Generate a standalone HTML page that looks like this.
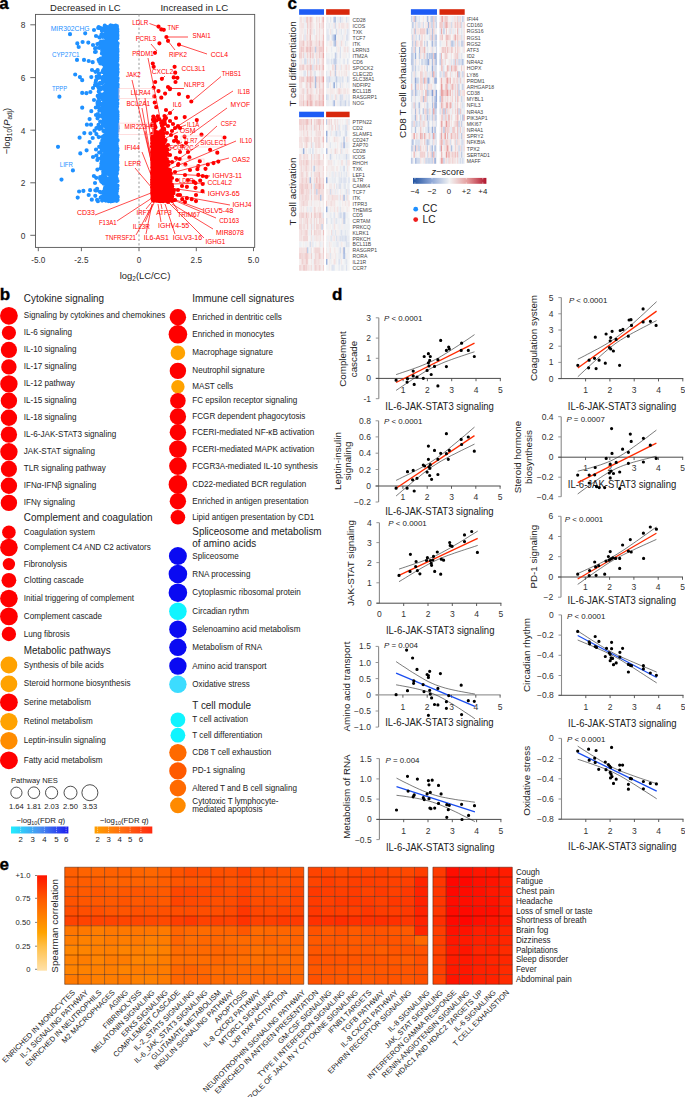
<!DOCTYPE html>
<html><head><meta charset="utf-8"><style>
html,body{margin:0;padding:0;background:#fff;width:685px;height:1097px;overflow:hidden}
svg{display:block;font-family:"Liberation Sans",sans-serif}
</style></head><body>
<svg width="685" height="1097" viewBox="0 0 685 1097">
<rect width="685" height="1097" fill="#fff"/>
<path stroke="#1e90ff" stroke-width="4.2" stroke-linecap="round" fill="none" d="M110.4 82.5h0M107.6 38.2h0M115.6 119.8h0M115.4 114.8h0M114.6 32.1h0M116.3 41.5h0M115.6 100.2h0M113.7 64.8h0M107.0 135.9h0M114.0 95.3h0M101.5 197.3h0M112.8 76.5h0M112.2 50.9h0M112.7 169.1h0M107.0 57.3h0M111.6 91.0h0M114.8 121.9h0M116.5 61.7h0M111.0 145.3h0M114.4 128.6h0M112.9 105.3h0M103.2 148.5h0M108.3 68.5h0M112.9 179.5h0M112.0 153.9h0M106.8 46.3h0M111.9 158.8h0M109.6 32.4h0M116.6 143.1h0M106.6 179.6h0M113.8 80.7h0M106.8 127.6h0M106.6 105.8h0M100.3 108.9h0M105.3 142.4h0M112.7 139.4h0M114.6 200.3h0M111.3 93.4h0M108.2 143.2h0M116.3 55.1h0M104.1 46.1h0M112.3 48.3h0M104.3 69.1h0M106.7 39.7h0M100.8 104.6h0M112.2 169.7h0M116.0 177.6h0M108.9 88.6h0M112.9 181.1h0M116.3 56.5h0M116.6 66.3h0M107.9 129.2h0M108.7 71.7h0M117.4 90.5h0M105.1 125.2h0M113.8 116.2h0M116.3 134.2h0M115.1 183.8h0M106.9 162.8h0M106.8 94.6h0M108.0 95.7h0M110.3 36.5h0M116.3 37.4h0M112.7 85.3h0M112.7 34.8h0M117.6 43.4h0M100.5 89.5h0M114.8 133.6h0M117.5 51.6h0M109.7 89.6h0M102.0 47.1h0M95.8 107.5h0M114.2 110.7h0M115.6 85.8h0M115.2 72.1h0M113.2 29.6h0M112.9 192.9h0M116.8 121.1h0M115.1 30.3h0M113.5 148.0h0M114.2 71.5h0M113.8 161.4h0M116.2 119.2h0M110.1 64.8h0M101.0 168.3h0M116.0 167.4h0M117.2 169.5h0M111.5 116.6h0M115.6 88.1h0M117.2 74.7h0M110.1 71.1h0M97.7 104.2h0M96.5 190.4h0M116.0 89.7h0M116.8 64.3h0M112.0 61.5h0M104.4 135.3h0M108.1 109.9h0M116.5 140.4h0M114.2 141.8h0M114.7 185.6h0M103.7 109.6h0M115.7 56.9h0M110.2 166.4h0M110.8 196.5h0M112.4 192.1h0M115.5 153.1h0M113.7 52.1h0M115.9 184.8h0M113.1 171.0h0M113.3 198.0h0M111.0 122.1h0M95.1 48.6h0M115.6 139.8h0M109.3 118.2h0M113.9 178.9h0M116.0 170.9h0M111.3 77.1h0M112.0 67.8h0M114.2 99.2h0M110.9 48.6h0M113.3 106.1h0M110.3 128.2h0M112.6 187.0h0M107.5 113.8h0M115.5 28.8h0M117.3 103.0h0M116.9 166.2h0M104.1 55.8h0M115.3 123.4h0M106.8 82.9h0M116.4 163.5h0M111.6 44.2h0M115.2 74.2h0M106.7 161.4h0M117.1 159.3h0M106.6 186.1h0M113.5 114.5h0M114.3 115.6h0M108.9 119.4h0M105.3 109.6h0M112.9 179.8h0M116.9 191.3h0M106.7 191.5h0M114.8 173.3h0M114.3 103.3h0M117.4 38.3h0M114.3 143.3h0M113.7 163.5h0M114.6 151.5h0M106.6 141.7h0M103.8 195.8h0M109.4 64.1h0M115.1 111.3h0M115.1 199.7h0M113.2 101.4h0M114.6 116.2h0M112.8 81.6h0M106.9 152.6h0M116.3 103.0h0M111.8 28.7h0M107.2 115.7h0M102.7 36.8h0M116.2 196.5h0M117.4 43.9h0M115.2 162.6h0M111.5 73.1h0M111.1 185.9h0M117.3 169.6h0M112.8 187.3h0M116.5 125.9h0M114.1 35.6h0M114.7 146.6h0M116.1 190.6h0M116.5 137.2h0M114.2 176.2h0M111.5 37.2h0M110.5 85.2h0M111.6 122.8h0M114.6 48.2h0M117.3 118.2h0M113.5 53.9h0M115.4 34.4h0M110.6 79.2h0M115.1 159.2h0M107.9 56.8h0M111.2 86.6h0M116.9 28.2h0M112.4 154.5h0M115.9 109.1h0M105.3 190.0h0M107.9 101.6h0M113.3 112.6h0M110.3 114.7h0M109.9 146.5h0M116.7 172.0h0M111.9 149.9h0M111.1 86.7h0M115.4 35.1h0M115.2 155.9h0M115.7 70.5h0M114.5 173.6h0M114.3 178.7h0M111.5 68.1h0M112.8 77.1h0M116.3 104.0h0M95.5 71.8h0M112.2 121.8h0M110.5 68.5h0M116.0 88.3h0M110.5 25.7h0M111.1 114.0h0M116.8 60.9h0M117.6 72.0h0M115.6 41.3h0M116.1 29.5h0M116.4 79.0h0M106.4 118.6h0M110.2 157.6h0M106.3 180.2h0M106.3 94.1h0M95.8 51.8h0M116.0 153.0h0M115.6 172.5h0M108.0 182.5h0M107.7 168.5h0M107.6 50.0h0M116.1 172.4h0M112.4 167.1h0M107.6 182.6h0M115.5 145.7h0M111.8 31.0h0M115.0 48.9h0M114.5 172.6h0M109.3 123.8h0M109.0 145.3h0M102.4 111.6h0M117.3 157.2h0M105.4 114.0h0M114.9 37.1h0M117.6 155.2h0M114.3 72.2h0M113.7 153.9h0M104.2 197.2h0M110.4 112.4h0M111.1 145.8h0M108.6 160.5h0M109.4 39.1h0M117.3 51.4h0M103.6 79.1h0M114.6 125.4h0M117.4 72.8h0M113.1 143.8h0M105.7 76.7h0M108.3 116.4h0M115.5 46.4h0M110.2 182.8h0M95.3 190.3h0M102.4 28.6h0M113.6 195.9h0M116.9 104.6h0M111.8 191.9h0M113.5 62.6h0M115.3 117.7h0M107.0 193.2h0M105.9 115.0h0M115.8 181.6h0M111.7 183.5h0M116.9 111.1h0M117.5 112.0h0M116.1 104.8h0M113.2 86.0h0M117.3 81.1h0M117.2 157.6h0M103.4 173.2h0M104.3 151.0h0M115.6 184.2h0M109.7 94.7h0M110.8 201.3h0M113.3 100.8h0M113.8 73.9h0M116.4 172.4h0M111.7 75.8h0M115.1 72.3h0M114.6 115.4h0M110.0 193.8h0M113.0 181.1h0M106.5 186.3h0M104.7 191.1h0M113.5 34.2h0M104.1 154.4h0M113.3 138.9h0M99.1 75.9h0M111.7 47.9h0M113.6 108.6h0M111.7 155.6h0M116.8 197.3h0M105.2 78.4h0M113.5 123.6h0M114.4 54.0h0M109.3 62.1h0M112.0 64.2h0M108.3 185.0h0M117.4 50.1h0M111.1 59.4h0M113.4 41.5h0M117.0 67.6h0M106.6 181.7h0M110.1 157.4h0M113.0 117.8h0M116.0 91.8h0M115.0 74.3h0M110.5 195.8h0M110.4 136.3h0M116.2 177.4h0M111.0 69.2h0M97.7 95.9h0M110.6 174.9h0M115.4 179.1h0M117.3 150.4h0M106.5 183.1h0M115.7 25.5h0M103.4 94.4h0M110.6 176.1h0M117.6 196.6h0M113.5 52.7h0M109.2 117.4h0M99.2 152.5h0M116.7 139.4h0M108.2 122.6h0M116.4 32.5h0M111.5 187.4h0M116.1 139.1h0M113.4 69.8h0M116.3 137.5h0M113.7 37.9h0M110.3 117.8h0M113.4 64.9h0M110.4 131.3h0M117.1 106.6h0M106.8 194.3h0M103.7 109.2h0M117.2 66.8h0M96.0 149.5h0M107.7 79.6h0M116.2 144.2h0M117.0 99.4h0M105.0 188.3h0M110.1 65.4h0M116.0 99.5h0M112.7 145.6h0M103.2 155.6h0M111.4 114.4h0M96.0 80.4h0M116.9 169.8h0M111.6 159.3h0M108.1 77.4h0M114.6 58.5h0M106.7 64.8h0M111.3 192.5h0M113.0 51.3h0M113.9 196.9h0M114.8 50.5h0M116.6 94.7h0M107.3 183.6h0M108.4 201.1h0M115.0 189.5h0M112.8 190.2h0M105.3 156.9h0M115.1 92.1h0M115.1 91.3h0M113.1 26.0h0M105.0 74.7h0M100.6 47.3h0M115.5 195.2h0M109.9 170.1h0M115.1 170.2h0M116.5 108.8h0M112.7 91.1h0M114.9 89.6h0M109.0 183.4h0M115.9 168.4h0M115.4 160.4h0M117.0 36.5h0M117.0 187.4h0M103.5 183.6h0M114.6 85.2h0M96.4 134.1h0M116.1 71.6h0M110.3 74.0h0M116.9 26.2h0M98.7 137.1h0M111.5 191.5h0M116.7 109.1h0M109.5 193.9h0M115.2 69.7h0M98.1 101.2h0M116.8 57.7h0M116.5 166.8h0M101.8 161.5h0M114.1 132.4h0M111.0 89.2h0M112.6 163.2h0M114.9 158.0h0M115.6 69.0h0M116.7 122.8h0M100.1 82.8h0M115.4 199.4h0M114.3 72.1h0M115.7 113.2h0M111.7 150.4h0M115.6 98.9h0M111.1 134.7h0M105.1 174.6h0M105.8 142.4h0M106.4 77.2h0M107.9 125.3h0M107.6 60.6h0M117.5 69.0h0M112.7 181.1h0M113.7 127.3h0M110.0 200.2h0M115.8 114.8h0M102.3 140.5h0M109.9 199.9h0M111.8 169.7h0M115.5 173.4h0M116.3 77.2h0M109.1 46.5h0M96.4 128.1h0M105.8 189.2h0M105.3 104.5h0M114.0 71.3h0M97.4 44.1h0M113.3 130.4h0M113.5 90.4h0M115.7 50.4h0M111.4 131.0h0M117.2 140.2h0M116.4 83.1h0M114.7 144.9h0M110.8 61.3h0M114.7 165.5h0M116.7 43.3h0M106.1 95.1h0M113.8 41.5h0M114.7 54.3h0M109.4 75.4h0M110.6 79.6h0M115.5 125.2h0M102.9 88.4h0M109.1 200.9h0M113.1 89.5h0M104.6 61.3h0M110.3 26.5h0M112.4 169.9h0M110.6 97.0h0M111.3 54.1h0M106.1 28.1h0M113.7 185.6h0M111.7 41.2h0M111.9 114.3h0M115.5 51.2h0M107.5 188.4h0M102.3 44.6h0M116.7 195.7h0M103.4 60.2h0M103.1 197.2h0M99.3 110.5h0M111.2 93.8h0M106.1 184.6h0M106.7 53.7h0M116.1 163.8h0M109.1 174.5h0M115.2 171.4h0M112.2 95.9h0M114.4 116.6h0M114.7 69.0h0M115.6 153.1h0M116.1 124.5h0M101.8 158.8h0M113.8 46.2h0M106.2 131.0h0M113.9 79.4h0M109.8 99.4h0M113.2 141.5h0M115.9 104.1h0M116.9 134.4h0M116.3 111.7h0M103.2 162.8h0M113.5 106.2h0M108.9 44.3h0M114.2 48.1h0M116.0 103.3h0M105.9 115.3h0M114.5 40.0h0M115.8 154.6h0M107.6 35.1h0M102.6 114.2h0M103.1 49.5h0M103.8 176.3h0M117.3 168.9h0M107.8 59.6h0M116.5 193.9h0M110.0 186.7h0M104.7 189.3h0M109.1 37.0h0M106.1 53.4h0M115.2 183.3h0M102.2 50.8h0M112.5 113.9h0M114.8 71.8h0M116.6 114.6h0M115.5 57.5h0M105.8 53.9h0M112.6 183.1h0M116.7 55.2h0M113.5 118.9h0M106.6 137.5h0M104.3 123.2h0M114.6 127.6h0M114.9 200.3h0M105.6 136.3h0M108.2 72.1h0M110.5 199.8h0M113.8 160.1h0M111.4 103.3h0M105.0 34.0h0M117.3 169.8h0M105.5 198.7h0M113.8 128.6h0M111.3 25.8h0M110.6 31.4h0M108.1 101.6h0M114.0 115.7h0M114.8 65.5h0M117.0 140.4h0M117.5 88.0h0M113.8 44.2h0M112.9 128.2h0M114.2 129.2h0M106.2 109.1h0M111.7 49.2h0M115.1 51.8h0M106.5 42.4h0M104.5 163.2h0M117.5 96.2h0M116.3 139.0h0M110.4 124.5h0M107.7 103.6h0M116.9 190.4h0M111.2 184.5h0M109.1 33.2h0M115.9 67.3h0M117.4 35.8h0M116.3 122.5h0M114.0 191.1h0M113.2 132.5h0M107.8 114.7h0M105.5 56.2h0M116.8 80.0h0M115.1 182.0h0M117.4 163.3h0M116.7 174.1h0M103.9 156.7h0M114.6 105.1h0M112.7 65.3h0M113.8 32.3h0M117.6 84.6h0M104.5 174.3h0M116.5 150.8h0M106.9 102.2h0M111.0 164.3h0M116.6 138.5h0M114.0 195.4h0M100.5 28.2h0M116.4 71.3h0M103.6 191.8h0M109.5 156.8h0M102.1 83.3h0M107.6 67.6h0M111.0 147.4h0M108.1 142.6h0M116.3 173.3h0M111.9 148.3h0M110.5 153.0h0M115.5 125.9h0M112.1 135.1h0M113.6 39.2h0M115.1 30.2h0M110.5 44.3h0M114.2 50.5h0M105.0 30.6h0M114.2 137.1h0M117.3 148.2h0M114.5 129.4h0M111.1 89.5h0M103.3 182.4h0M104.9 37.1h0M103.7 191.7h0M116.5 44.4h0M113.6 31.6h0M113.0 174.7h0M106.4 170.7h0M116.7 136.7h0M113.8 42.7h0M115.5 158.8h0M110.4 100.1h0M117.3 29.2h0M110.7 151.5h0M108.2 90.3h0M97.8 114.2h0M116.0 175.3h0M116.2 98.2h0M116.5 102.3h0M109.8 149.5h0M114.1 120.2h0M101.0 41.5h0M117.4 169.8h0M117.2 61.1h0M116.8 159.6h0M117.5 111.9h0M116.0 112.0h0M112.4 112.5h0M114.4 86.6h0M111.8 191.6h0M114.7 75.4h0M104.7 113.2h0M115.3 44.8h0M115.0 164.2h0M114.9 148.2h0M106.0 88.1h0M103.5 96.1h0M106.6 40.7h0M111.9 181.9h0M116.7 71.8h0M109.3 184.1h0M117.5 181.1h0M107.4 66.6h0M115.1 158.3h0M112.8 158.0h0M111.3 83.0h0M110.7 52.8h0M107.2 156.1h0M104.0 55.3h0M112.1 127.4h0M100.4 47.7h0M113.4 67.4h0M113.4 59.2h0M105.0 174.0h0M114.0 52.7h0M112.3 83.0h0M113.6 117.4h0M111.2 58.8h0M117.1 197.1h0M113.7 194.9h0M99.4 43.4h0M101.4 165.4h0M112.4 154.6h0M115.4 137.8h0M115.3 44.3h0M109.5 31.5h0M114.3 95.7h0M105.0 113.6h0M113.0 136.8h0M116.5 131.8h0M116.5 96.7h0M99.1 101.2h0M117.5 126.5h0M108.7 65.7h0M106.9 152.6h0M107.6 148.7h0M112.4 175.5h0M106.6 105.4h0M114.9 80.6h0M114.8 99.3h0M114.9 163.2h0M105.9 69.5h0M106.2 100.1h0M114.3 97.5h0M112.7 144.3h0M115.3 140.7h0M110.1 162.5h0M111.3 197.0h0M112.8 32.2h0M116.2 163.1h0M113.7 191.0h0M117.1 126.6h0M115.5 120.7h0M107.6 138.0h0M108.9 171.4h0M116.4 192.3h0M114.2 62.5h0M109.8 159.7h0M109.7 47.0h0M116.8 35.5h0M116.5 73.8h0M116.8 99.2h0M115.1 99.5h0M110.1 72.2h0M116.5 65.0h0M97.5 118.3h0M114.9 64.0h0M109.6 62.8h0M115.0 48.3h0M102.3 137.1h0M112.0 108.1h0M115.3 195.1h0M107.5 87.7h0M105.6 169.1h0M114.7 107.9h0M107.3 47.5h0M107.5 172.2h0M104.5 72.6h0M117.4 91.7h0M108.6 58.2h0M116.4 26.0h0M110.8 68.6h0M108.7 78.6h0M116.4 137.7h0M104.9 141.5h0M102.7 175.9h0M108.9 35.5h0M101.3 163.5h0M111.7 50.2h0M107.1 28.1h0M105.7 27.5h0M113.9 69.5h0M113.7 43.4h0M112.8 162.1h0M107.0 86.5h0M102.5 164.8h0M108.6 55.1h0M110.2 163.0h0M105.8 143.1h0M108.3 173.1h0M113.9 60.2h0M107.8 156.1h0M109.6 102.7h0M110.3 72.1h0M111.3 66.7h0M110.0 35.8h0M111.5 107.7h0M109.8 113.2h0M117.0 120.5h0M116.9 173.5h0M106.0 107.9h0M112.8 173.4h0M98.7 91.5h0M107.0 38.8h0M116.3 137.6h0M116.1 132.8h0M110.7 145.6h0M114.4 198.3h0M99.5 115.4h0M115.9 31.5h0M112.1 151.9h0M112.1 177.2h0M107.4 89.9h0M115.9 161.1h0M109.4 62.6h0M114.1 123.0h0M113.4 171.0h0M102.2 96.6h0M116.2 114.2h0M107.6 197.1h0M115.6 140.7h0M110.2 81.3h0M107.3 78.2h0M111.4 163.5h0M114.6 32.5h0M100.2 121.5h0M117.3 34.2h0M116.7 58.9h0M107.9 187.7h0M109.7 164.4h0M108.6 185.6h0M110.0 135.8h0M107.0 148.1h0M110.3 62.9h0M103.7 142.9h0M113.8 43.3h0M103.3 57.4h0M114.2 186.4h0M106.9 140.9h0M106.0 163.9h0M117.2 124.4h0M110.4 99.7h0M106.6 81.6h0M112.5 189.9h0M115.4 35.1h0M116.6 46.4h0M100.7 168.1h0M108.9 104.1h0M109.0 28.0h0M110.2 190.5h0M108.9 198.1h0M116.3 43.5h0M116.5 138.9h0M112.9 28.2h0M115.8 26.3h0M113.6 195.6h0M114.6 41.0h0M114.3 28.6h0M116.9 152.1h0M103.8 58.5h0M115.6 34.3h0M104.3 176.1h0M107.3 153.9h0M111.6 150.3h0M111.7 106.6h0M114.9 195.2h0M116.1 151.7h0M117.5 140.0h0M111.2 169.4h0M114.1 153.9h0M111.3 54.7h0M110.1 36.0h0M109.5 90.2h0M113.5 144.6h0M115.2 51.0h0M109.9 139.0h0M110.3 136.3h0M113.5 163.9h0M115.2 191.8h0M106.9 77.0h0M104.5 36.2h0M115.4 171.1h0M99.2 83.9h0M103.2 171.8h0M114.4 131.3h0M109.2 181.8h0M113.0 91.8h0M107.0 183.2h0M117.5 167.6h0M117.1 71.8h0M104.2 99.9h0M109.5 181.7h0M109.8 32.9h0M104.1 178.1h0M115.1 126.2h0M101.2 167.5h0M110.9 146.0h0M113.6 40.5h0M115.9 122.9h0M112.2 157.5h0M116.4 189.5h0M106.0 144.8h0M115.8 107.4h0M111.3 157.7h0M114.1 164.8h0M116.7 167.5h0M116.4 161.4h0M106.5 183.4h0M108.0 181.3h0M116.3 129.2h0M115.7 58.8h0M112.6 148.9h0M109.7 89.4h0M114.2 116.5h0M106.0 51.7h0M109.6 44.2h0M116.4 136.9h0M112.8 130.6h0M115.9 86.2h0M117.4 31.4h0M111.1 199.8h0M110.3 125.3h0M116.0 71.5h0M108.8 192.1h0M108.4 160.5h0M97.7 70.2h0M116.0 32.2h0M112.5 40.2h0M101.5 34.5h0M111.5 106.2h0M115.0 192.2h0M115.9 130.8h0M101.9 95.4h0M102.9 70.8h0M104.1 124.8h0M101.2 143.4h0M112.8 94.7h0M116.0 195.5h0M117.2 200.0h0M115.3 70.5h0M102.5 87.5h0M107.0 172.9h0M114.6 33.8h0M104.6 139.3h0M113.1 198.9h0M116.0 158.4h0M114.4 190.8h0M111.2 129.6h0M111.7 158.9h0M113.0 70.7h0M112.5 47.3h0M117.0 67.5h0M117.0 50.7h0M116.4 151.7h0M98.6 59.8h0M113.2 64.3h0M105.7 189.9h0M104.4 50.1h0M101.6 104.2h0M106.4 173.7h0M110.2 136.1h0M115.3 170.4h0M114.3 109.5h0M114.2 64.5h0M115.2 35.5h0M107.1 51.0h0M116.7 178.7h0M108.9 52.9h0M113.5 73.2h0M111.1 55.0h0M110.0 111.9h0M100.9 45.6h0M100.7 197.7h0M111.3 143.1h0M110.7 62.7h0M116.6 70.9h0M100.4 61.0h0M97.9 201.2h0M111.9 188.3h0M113.6 183.2h0M116.6 35.6h0M110.6 197.7h0M114.9 28.3h0M110.3 50.2h0M112.5 25.8h0M108.6 58.2h0M112.5 102.1h0M114.5 126.1h0M111.4 49.8h0M104.4 150.7h0M114.4 60.1h0M115.9 132.6h0M116.7 112.7h0M111.9 133.3h0M113.4 150.1h0M107.2 61.1h0M116.7 37.1h0M108.9 152.5h0M114.7 35.2h0M110.5 173.7h0M116.1 177.7h0M117.5 185.7h0M113.0 109.4h0M112.8 58.2h0M114.2 171.9h0M113.8 90.8h0M107.3 130.2h0M117.3 104.0h0M107.8 116.3h0M108.3 169.2h0M111.8 177.8h0M105.5 92.6h0M101.6 157.7h0M111.1 193.4h0M107.2 112.6h0M116.7 120.1h0M111.7 29.1h0M116.4 57.6h0M117.6 43.6h0M101.9 30.8h0M115.8 42.5h0M112.3 28.6h0M108.4 131.0h0M112.8 149.2h0M108.4 43.6h0M107.7 33.5h0M107.6 47.2h0M117.2 74.7h0M113.8 47.0h0M115.0 129.7h0M110.9 177.1h0M108.7 156.9h0M108.4 54.4h0M99.8 93.9h0M112.1 99.5h0M108.8 95.1h0M116.3 191.2h0M110.0 67.8h0M95.6 84.5h0M108.2 167.1h0M111.0 186.1h0M102.5 34.9h0M98.5 116.6h0M112.4 69.4h0M112.2 99.8h0M111.6 118.9h0M108.4 37.7h0M113.5 29.2h0M103.1 50.0h0M114.8 190.4h0M111.2 136.9h0M101.2 181.2h0M113.4 31.5h0M112.4 144.9h0M99.0 73.6h0M112.5 134.8h0M108.6 69.6h0M116.4 192.9h0M113.4 76.1h0M106.1 46.7h0M107.8 130.1h0M114.8 72.7h0M112.9 107.6h0M116.6 47.3h0M115.3 48.6h0M109.2 76.2h0M108.5 68.3h0M112.0 173.3h0M106.5 132.9h0M112.3 60.9h0M107.2 150.5h0M115.0 133.4h0M115.3 108.0h0M111.7 64.5h0M109.2 115.7h0M110.0 27.6h0M113.5 87.6h0M112.8 123.5h0M112.1 112.0h0M113.4 77.5h0M101.9 53.4h0M110.6 102.9h0M110.6 36.4h0M111.7 154.9h0M114.3 44.7h0M96.4 155.5h0M113.5 52.7h0M110.8 144.4h0M108.3 134.0h0M104.8 116.6h0M117.0 155.5h0M103.3 109.1h0M112.7 163.6h0M99.4 47.9h0M103.1 178.8h0M117.2 128.6h0M106.8 113.1h0M115.0 99.1h0M109.5 163.4h0M109.3 92.3h0M104.5 105.1h0M114.0 77.1h0M109.7 94.3h0M114.7 82.2h0M111.7 164.0h0M109.5 103.6h0M116.0 57.9h0M113.1 126.8h0M101.3 127.9h0M107.6 82.5h0M106.3 173.9h0M99.3 61.5h0M116.5 100.6h0M116.9 33.8h0M98.5 124.9h0M117.3 161.6h0M107.3 120.3h0M117.5 116.5h0M111.5 146.1h0M112.5 130.2h0M105.5 87.3h0M113.5 117.9h0M111.5 42.9h0M111.5 124.3h0M101.6 126.5h0M102.6 111.2h0M97.5 103.0h0M97.6 85.9h0M115.5 118.8h0M112.8 81.5h0M112.9 197.7h0M108.6 45.0h0M111.8 182.9h0M103.0 199.8h0M113.2 181.8h0M115.2 76.5h0M112.1 115.5h0M117.4 57.6h0M111.3 136.4h0M112.8 200.4h0M109.2 137.5h0M115.3 164.1h0M117.3 79.5h0M116.9 79.1h0M106.8 173.7h0M111.1 60.1h0M111.3 113.1h0M115.4 139.3h0M106.5 119.0h0M117.4 97.9h0M109.7 46.9h0M105.6 44.3h0M112.7 43.1h0M108.5 170.4h0M116.5 133.4h0M114.7 27.7h0M111.6 161.1h0M105.5 87.8h0M117.2 55.3h0M113.7 184.6h0M112.2 128.0h0M110.0 93.4h0M108.9 35.1h0M110.5 194.4h0M112.9 102.9h0M113.2 33.2h0M113.1 189.3h0M111.8 183.7h0M113.8 169.1h0M106.7 194.5h0M111.6 112.7h0M115.6 94.1h0M116.3 151.9h0M110.4 179.6h0M115.9 110.8h0M111.5 56.0h0M108.8 88.6h0M96.7 76.7h0M109.7 124.3h0M110.7 93.4h0M113.6 96.5h0M115.9 170.8h0M117.4 87.3h0M112.1 75.4h0M105.3 67.2h0M114.9 85.6h0M116.6 52.9h0M114.0 73.0h0M111.2 172.5h0M111.0 172.7h0M113.3 167.2h0M110.9 152.7h0M112.0 91.8h0M116.1 192.9h0M116.3 114.4h0M108.4 48.5h0M116.4 149.8h0M99.4 128.9h0M117.3 90.3h0M106.0 62.9h0M110.3 179.0h0M110.5 121.0h0M116.5 73.1h0M109.3 141.2h0M114.5 125.4h0M109.8 40.6h0M113.2 56.7h0M111.6 142.1h0M110.2 44.7h0M114.5 113.6h0M110.9 77.8h0M114.6 65.4h0M116.2 47.7h0M110.8 96.5h0M114.8 185.5h0M100.2 177.1h0M117.3 48.8h0M115.5 145.1h0M112.4 142.3h0M110.6 141.5h0M117.4 148.6h0M101.1 87.5h0M115.8 136.2h0M113.8 186.1h0M117.0 154.7h0M115.2 32.5h0M115.3 54.0h0M110.8 92.5h0M113.1 32.4h0M106.4 57.1h0M105.4 173.2h0M111.8 70.3h0M114.4 102.0h0M110.4 25.7h0M116.4 172.3h0M110.7 33.1h0M115.5 175.8h0M115.9 68.5h0M116.1 45.1h0M112.0 186.4h0M106.4 157.4h0M110.9 94.8h0M114.3 157.1h0M111.5 41.3h0M100.2 192.1h0M108.6 147.2h0M111.8 155.5h0M107.1 105.2h0M114.7 35.1h0M109.1 115.6h0M107.6 188.9h0M107.2 33.2h0M115.3 149.2h0M111.4 121.7h0M110.7 196.1h0M109.5 69.4h0M112.1 36.0h0M110.8 60.9h0M108.9 80.2h0M107.5 143.5h0M117.1 67.4h0M107.4 103.8h0M113.3 190.2h0M111.8 181.2h0M110.5 50.5h0M114.6 169.0h0M117.3 122.0h0M112.4 142.8h0M103.5 130.9h0M114.1 171.8h0M115.6 45.6h0M109.8 61.8h0M116.5 36.1h0M112.1 149.0h0M111.9 104.4h0M112.7 108.0h0M116.0 89.4h0M114.7 27.4h0M117.6 200.1h0M114.0 151.7h0M113.8 198.0h0M116.0 111.5h0M113.7 101.9h0M107.7 27.0h0M110.2 187.3h0M108.2 190.1h0M117.5 140.4h0M111.2 49.9h0M115.1 30.4h0M101.5 77.7h0M107.0 58.2h0M105.1 188.6h0M114.1 55.1h0M102.0 156.1h0M111.3 83.0h0M103.0 81.8h0M109.9 90.4h0M115.0 171.8h0M107.0 67.6h0M114.8 136.1h0M112.5 169.8h0M99.9 191.8h0M112.6 112.5h0M117.6 78.2h0M106.2 127.8h0M111.3 54.3h0M114.0 103.5h0M116.9 32.5h0M112.7 102.9h0M104.9 26.0h0M108.4 173.5h0M105.8 100.4h0M112.2 75.4h0M108.9 99.6h0M105.9 85.1h0M112.9 170.9h0M114.0 184.6h0M111.5 103.5h0M114.4 124.7h0M113.0 40.5h0M95.6 82.5h0M112.0 185.4h0M96.2 177.8h0M114.1 134.6h0M105.7 168.3h0M112.9 132.7h0M98.7 77.8h0M108.5 110.1h0M115.2 139.4h0M110.2 181.3h0M112.8 30.4h0M105.7 104.2h0M113.2 40.5h0M110.7 127.7h0M106.8 98.8h0M115.5 95.3h0M110.0 45.6h0M101.4 122.0h0M113.4 45.3h0M112.6 42.2h0M117.5 118.9h0M107.7 123.0h0M113.9 65.4h0M115.8 115.8h0M110.0 129.1h0M113.4 38.4h0M110.6 102.9h0M109.5 151.3h0M98.1 158.7h0M100.5 152.5h0M113.5 43.5h0M110.2 55.6h0M104.1 194.5h0M111.9 49.6h0M111.8 162.1h0M115.4 91.0h0M112.7 28.2h0M114.3 78.3h0M101.7 150.0h0M109.6 134.8h0M100.1 179.0h0M110.3 178.8h0M117.4 55.1h0M109.8 159.9h0M115.6 145.3h0M113.7 91.2h0M104.7 155.3h0M113.2 33.2h0M108.9 131.8h0M111.3 166.8h0M106.2 45.4h0M111.8 70.3h0M102.3 59.5h0M112.3 127.8h0M113.5 45.5h0M117.1 166.4h0M111.0 58.1h0M115.2 146.4h0M106.9 92.5h0M103.9 120.3h0M110.2 146.9h0M98.2 27.9h0M111.8 85.8h0M109.4 179.2h0M112.3 166.4h0M116.4 169.5h0M110.1 145.1h0M111.6 53.4h0M104.1 174.2h0M106.9 133.0h0M114.8 38.9h0M112.4 182.8h0M112.6 129.2h0M116.2 89.0h0M110.1 107.8h0M113.7 87.7h0M110.9 26.6h0M113.9 29.1h0M115.0 106.4h0M117.4 51.2h0M116.6 143.6h0M110.9 113.5h0M108.1 71.6h0M113.2 193.9h0M106.9 200.1h0M115.3 161.2h0M115.8 179.0h0M105.7 137.2h0M114.6 89.4h0M102.8 179.1h0M114.6 190.7h0M111.0 159.8h0M105.5 155.7h0M116.9 87.2h0M115.1 122.4h0M115.9 84.9h0M107.9 82.4h0M116.9 90.1h0M116.8 68.3h0M109.8 49.4h0M111.2 26.8h0M110.8 103.9h0M115.9 125.6h0M112.7 37.2h0M112.7 78.6h0M104.8 122.5h0M107.3 190.5h0M101.5 128.2h0M112.7 39.6h0M107.5 199.3h0M116.2 88.3h0M108.7 178.3h0M99.5 37.4h0M115.8 74.1h0M112.6 70.8h0M116.9 72.7h0M115.9 149.5h0M109.2 60.8h0M109.5 131.6h0M108.3 60.1h0M106.4 154.7h0M115.0 39.5h0M112.1 168.0h0M112.1 49.6h0M100.7 58.6h0M113.6 138.1h0M115.8 187.9h0M110.3 157.4h0M107.0 139.7h0M110.4 84.9h0M115.4 35.6h0M116.3 135.7h0M106.1 84.4h0M117.2 70.7h0M98.3 107.1h0M115.9 124.8h0M106.6 199.3h0M113.6 152.9h0M113.5 83.4h0M114.9 50.6h0M104.4 160.5h0M109.3 100.0h0M108.4 120.3h0M111.9 141.2h0M110.8 131.4h0M105.4 70.9h0M116.4 150.7h0M102.9 79.9h0M108.4 161.5h0M116.3 74.5h0M113.4 117.6h0M116.0 27.1h0M109.4 109.2h0M105.5 89.3h0M115.6 199.7h0M103.4 41.3h0M115.6 30.4h0M115.4 113.8h0M109.2 123.2h0M99.3 89.8h0M111.5 51.8h0M105.1 187.7h0M103.1 54.0h0M114.9 68.2h0M105.5 198.4h0M117.5 86.1h0M110.3 166.4h0M115.7 184.5h0M117.3 44.5h0M114.5 139.1h0M115.6 96.2h0M115.3 124.8h0M99.7 97.6h0M107.6 135.9h0M117.5 64.9h0M111.0 101.8h0M113.4 66.2h0M103.9 138.6h0M111.7 78.0h0M117.4 125.7h0M106.4 53.1h0M104.6 72.5h0M114.5 157.8h0M111.4 83.8h0M113.7 111.0h0M114.4 145.7h0M106.9 130.7h0M114.3 180.9h0M111.6 62.4h0M112.2 162.7h0M110.6 177.4h0M102.1 200.6h0M113.5 77.9h0M117.0 197.0h0M113.5 27.2h0M115.0 155.0h0M111.3 42.7h0M106.4 41.4h0M105.8 85.3h0M111.0 180.7h0M111.5 197.9h0M116.3 164.9h0M107.8 146.8h0M115.2 66.3h0M116.3 101.3h0M116.6 199.9h0M114.5 81.2h0M114.6 111.3h0M112.8 49.4h0M115.3 146.1h0M116.9 51.5h0M107.6 45.3h0M98.6 87.7h0M117.2 87.0h0M100.4 63.4h0M114.0 154.2h0M114.7 73.5h0M111.6 37.6h0M108.9 33.1h0M117.1 123.5h0M104.7 89.3h0M116.7 140.4h0M105.2 121.2h0M113.7 198.4h0M115.9 179.3h0M109.2 81.5h0M109.3 99.3h0M116.2 93.3h0M98.7 97.7h0M110.3 26.4h0M117.3 188.5h0M105.9 91.8h0M116.3 67.9h0M113.6 173.9h0M116.3 163.5h0M112.9 34.2h0M112.1 82.6h0M107.0 122.1h0M102.0 196.5h0M115.4 156.8h0M111.3 115.3h0M105.7 200.6h0M113.7 136.3h0M113.2 92.2h0M110.3 94.8h0M112.6 133.4h0M111.9 82.2h0M105.5 121.1h0M106.2 133.3h0M109.4 185.4h0M110.2 152.5h0M105.5 109.4h0M116.6 50.5h0M110.2 118.6h0M114.8 118.3h0M104.7 67.5h0M109.2 170.2h0M115.0 138.2h0M115.6 182.8h0M108.0 33.1h0M114.8 172.0h0M104.4 47.2h0M103.6 69.8h0M114.6 88.3h0M109.1 117.3h0M108.2 41.0h0M112.9 201.0h0M109.5 104.6h0M113.9 166.0h0M112.7 51.9h0M110.2 90.1h0M107.8 67.3h0M108.0 85.4h0M105.2 28.6h0M102.9 125.9h0M113.3 56.9h0M107.1 73.8h0M115.1 68.1h0M112.0 41.6h0M105.2 176.7h0M114.4 100.0h0M107.8 134.2h0M108.9 33.2h0M113.2 90.1h0M108.4 77.5h0M114.7 139.6h0M108.1 87.5h0M116.5 127.4h0M117.3 59.2h0M107.8 150.8h0M107.2 142.6h0M113.9 38.0h0M110.3 92.3h0M116.2 112.9h0M102.4 158.7h0M109.3 129.8h0M115.2 106.8h0M109.4 98.5h0M108.9 182.2h0M110.0 112.0h0M112.5 170.6h0M108.3 155.8h0M112.7 32.6h0M114.1 123.0h0M103.9 161.0h0M103.2 64.3h0M103.6 169.4h0M113.8 41.0h0M102.9 124.8h0M113.2 145.4h0M102.9 110.5h0M108.6 147.1h0M117.7 128.3h0M115.7 169.3h0M107.2 51.1h0M102.1 116.7h0M106.3 199.5h0M106.9 71.7h0M115.5 70.4h0M110.0 123.3h0M102.8 99.5h0M115.6 79.1h0M115.4 166.6h0M105.2 70.7h0M110.4 34.7h0M109.3 91.3h0M111.2 111.6h0M114.6 89.9h0M116.4 60.7h0M102.8 123.4h0M110.4 80.8h0M110.9 97.5h0M106.3 82.4h0M106.6 165.6h0M114.6 150.6h0M109.1 129.7h0M109.0 190.0h0M102.9 180.0h0M112.0 101.8h0M115.5 34.1h0M111.4 38.2h0M116.5 57.2h0M114.6 124.2h0M112.6 113.2h0M106.6 144.3h0M115.2 62.6h0M116.4 51.2h0M103.6 61.9h0M114.3 42.3h0M108.5 192.9h0M106.0 141.5h0M112.8 184.9h0M102.9 52.8h0M102.7 147.9h0M106.6 172.7h0M111.1 66.4h0M110.8 81.6h0M116.3 52.6h0M115.2 82.6h0M114.6 52.2h0M108.1 198.0h0M108.0 31.3h0M105.5 138.3h0M103.5 121.5h0M113.4 107.2h0M112.7 101.2h0M115.0 45.6h0M116.5 47.0h0M116.7 200.8h0M106.6 118.1h0M113.8 86.7h0M116.6 112.9h0M109.6 41.9h0M111.4 177.6h0M103.4 120.7h0M106.3 50.1h0M115.3 182.7h0M116.5 65.5h0M111.4 31.2h0M107.4 195.8h0M112.3 191.7h0M107.2 34.3h0M105.9 104.6h0M104.8 156.2h0M106.7 164.1h0M110.8 37.7h0M110.7 42.3h0M111.4 164.2h0M102.5 106.7h0M103.5 115.9h0M104.1 139.3h0M107.5 127.2h0M112.4 91.4h0M104.7 54.3h0M107.2 191.2h0M115.7 173.7h0M104.3 110.0h0M115.8 42.0h0M109.8 46.1h0M103.8 119.8h0M104.6 107.8h0M110.0 119.7h0M105.1 90.1h0M105.2 96.6h0M105.8 47.9h0M109.9 178.9h0M102.2 182.2h0M109.7 191.5h0M111.0 164.7h0M105.6 146.8h0M104.4 157.5h0M102.5 72.0h0M110.1 94.7h0M116.0 76.9h0M111.1 40.3h0M111.3 66.7h0M113.2 163.5h0M105.9 36.4h0M117.4 131.0h0M111.7 32.8h0M114.8 147.3h0M114.7 85.7h0M116.5 106.8h0M116.8 27.4h0M108.4 98.0h0M105.8 41.0h0M112.7 154.6h0M107.4 52.1h0M105.1 50.2h0M107.2 64.2h0M117.7 197.3h0M109.5 164.8h0M114.2 113.0h0M113.8 185.3h0M105.1 137.5h0M115.3 135.5h0M103.5 163.9h0M107.5 151.8h0M117.2 54.1h0M113.7 143.9h0M115.0 49.2h0M116.2 190.4h0M115.1 156.6h0M111.3 166.7h0M115.0 102.1h0M115.7 163.6h0M117.1 78.1h0M116.9 119.1h0M117.2 45.9h0M106.0 164.1h0M105.6 173.1h0M109.2 60.4h0M109.7 67.1h0M112.8 185.3h0M108.2 150.5h0M114.5 163.5h0M116.8 145.7h0M108.4 170.8h0M112.2 40.8h0M107.3 172.7h0M115.1 130.2h0M102.1 165.1h0M102.3 111.6h0M114.8 45.0h0M111.5 99.2h0M107.3 106.0h0M107.6 63.1h0M111.7 174.1h0M103.4 76.9h0M113.0 73.2h0M112.4 103.3h0M103.9 167.6h0M102.7 145.7h0M104.9 170.3h0M117.0 73.3h0M105.5 89.3h0M111.6 182.1h0M108.2 182.8h0M117.0 113.4h0M117.5 114.7h0M115.0 58.8h0M110.3 54.0h0M104.8 25.6h0M109.1 191.8h0M105.9 168.0h0M103.6 87.5h0M115.5 122.8h0M107.9 115.9h0M116.0 188.9h0M103.2 142.8h0M109.0 135.3h0M107.7 194.1h0M111.9 141.9h0M110.2 91.7h0M116.2 144.6h0M107.7 113.2h0M102.9 197.3h0M112.7 172.4h0M109.0 123.6h0M116.0 157.7h0M113.8 153.8h0M107.1 31.7h0M117.0 49.6h0M104.3 182.4h0M111.1 128.9h0M108.2 33.7h0M112.1 157.0h0M114.0 74.9h0M110.5 76.7h0M117.4 99.5h0M114.6 139.7h0M108.0 144.6h0M113.1 195.0h0M106.4 147.1h0M111.0 54.0h0M114.5 170.9h0M104.2 86.6h0M115.8 116.3h0M113.6 54.0h0M106.9 55.5h0M106.7 34.9h0M117.2 92.9h0M104.9 194.8h0M116.8 80.0h0M107.0 60.2h0M103.7 102.6h0M108.2 71.3h0M117.1 93.4h0M105.2 72.5h0M109.1 185.4h0M112.0 172.8h0M106.9 162.5h0M113.9 52.3h0M110.8 108.3h0M70.0 34.2h0M98.7 27.2h0M85.2 33.3h0M77.3 43.4h0M82.6 42.0h0M88.3 42.6h0M78.7 47.0h0M77.0 59.9h0M84.0 59.9h0M88.7 61.0h0M92.7 62.2h0M75.2 74.5h0M79.9 77.1h0M82.2 80.2h0M91.3 77.1h0M59.4 96.7h0M82.2 92.9h0M86.4 93.2h0M90.4 92.0h0M82.2 107.7h0M91.3 111.2h0M89.6 119.1h0M86.9 124.7h0M91.0 124.7h0M84.3 133.1h0M90.4 133.3h0M94.5 130.7h0M79.6 137.7h0M92.7 138.0h0M89.6 142.1h0M58.0 146.8h0M86.6 150.3h0M80.3 153.4h0M99.2 146.8h0M72.9 170.4h0M61.5 179.6h0M97.4 169.6h0M93.9 176.0h0M101.0 180.1h0M97.4 159.9h0M79.1 191.5h0M83.4 190.9h0M90.1 190.2h0M77.7 197.6h0M88.7 195.0h0M95.3 195.8h0M91.8 199.7h0M97.1 199.9h0M97.1 188.8h0M101.0 192.3h0M94.0 30.0h0M96.0 36.0h0M93.0 45.0h0M95.0 52.0h0M92.0 70.0h0M95.0 85.0h0M94.0 100.0h0M96.0 115.0h0M93.0 157.0h0M95.0 183.0h0M96.0 48.0h0M93.0 88.0h0"/>
<path stroke="#ff0000" stroke-width="4.2" stroke-linecap="round" fill="none" d="M158.5 26.6h0M161.3 29.4h0M163.8 29.8h0M166.4 37.0h0M168.0 40.8h0M179.0 44.6h0M159.4 43.3h0M155.0 52.8h0M152.8 63.6h0M153.7 66.8h0M174.6 66.8h0M175.2 72.7h0M173.7 77.4h0M177.4 77.8h0M175.5 82.0h0M161.9 78.8h0M155.2 82.0h0M153.7 87.7h0M158.5 91.1h0M165.1 93.6h0M169.9 89.2h0M179.0 94.1h0M187.9 96.8h0M191.3 101.5h0M154.3 96.4h0M161.3 97.7h0M154.7 102.5h0M156.2 107.2h0M165.1 119.2h0M184.7 117.1h0M196.8 120.1h0M201.5 134.7h0M224.5 137.5h0M184.5 136.6h0M210.1 149.8h0M217.3 152.7h0M189.4 157.4h0M179.7 159.0h0M199.8 161.2h0M185.4 164.6h0M178.4 164.1h0M207.8 164.5h0M213.5 163.1h0M218.3 161.6h0M205.5 168.8h0M198.3 166.0h0M197.4 169.2h0M198.3 174.9h0M202.7 176.0h0M206.5 176.8h0M200.2 180.6h0M193.6 181.7h0M195.5 183.1h0M202.7 184.0h0M186.9 186.8h0M195.5 187.8h0M202.5 191.2h0M196.0 195.0h0M186.9 198.2h0M191.7 199.2h0M196.0 201.1h0M182.2 199.2h0M185.0 202.0h0M170.0 88.5h0M168.0 87.0h0M166.0 110.0h0M170.0 113.0h0M176.0 118.0h0M180.0 128.0h0M178.0 126.0h0M172.0 131.0h0M176.0 140.0h0M182.0 146.0h0M186.0 143.0h0M188.0 152.0h0M180.0 152.0h0M190.0 170.0h0M185.0 175.0h0M188.0 180.0h0M182.0 186.0h0M178.0 190.0h0M180.0 195.0h0M152.1 179.7h0M158.9 159.7h0M161.4 195.8h0M153.5 177.1h0M152.3 152.9h0M155.2 189.9h0M165.9 172.9h0M167.2 153.3h0M161.0 151.9h0M157.7 185.1h0M167.9 180.2h0M158.8 143.3h0M165.3 156.0h0M163.6 177.3h0M172.2 186.5h0M167.5 184.4h0M163.9 158.3h0M161.6 158.8h0M158.5 148.1h0M160.4 170.0h0M156.5 179.6h0M154.6 158.1h0M159.0 140.3h0M158.9 191.5h0M161.2 179.5h0M156.6 173.4h0M160.0 153.9h0M168.3 190.7h0M157.9 145.9h0M165.7 168.6h0M167.2 194.6h0M162.8 189.5h0M155.9 178.3h0M155.8 181.9h0M158.4 181.9h0M155.6 140.4h0M155.5 175.3h0M157.5 149.9h0M161.7 150.6h0M161.9 199.6h0M162.8 188.3h0M160.4 140.7h0M152.4 190.7h0M152.7 177.0h0M152.4 145.0h0M155.1 165.1h0M153.0 172.2h0M154.9 189.9h0M153.6 143.2h0M163.7 158.2h0M157.3 157.6h0M155.2 187.7h0M159.5 149.6h0M166.6 171.0h0M152.3 138.0h0M154.2 168.9h0M163.6 163.6h0M157.7 183.2h0M161.5 174.1h0M158.9 174.4h0M162.5 150.8h0M158.5 198.7h0M164.3 200.3h0M155.6 144.7h0M157.8 165.6h0M165.0 165.6h0M155.2 158.3h0M159.7 154.4h0M152.8 148.7h0M162.8 164.6h0M153.5 148.9h0M157.1 153.3h0M159.8 172.5h0M168.8 184.7h0M155.2 196.0h0M162.9 140.1h0M167.3 149.4h0M153.7 183.1h0M152.8 177.1h0M159.0 146.7h0M160.6 177.2h0M152.3 138.9h0M161.9 147.4h0M170.5 188.5h0M155.4 165.7h0M154.1 146.0h0M168.4 186.7h0M158.0 187.8h0M154.1 167.1h0M155.4 143.1h0M158.6 172.7h0M152.3 152.4h0M160.9 137.4h0M162.0 197.6h0M169.8 199.9h0M157.5 161.0h0M155.2 188.9h0M155.0 136.8h0M158.5 150.0h0M155.3 136.6h0M154.8 190.1h0M159.4 138.8h0M156.3 194.0h0M152.7 157.1h0M160.6 176.7h0M159.6 177.7h0M152.7 149.4h0M153.5 160.9h0M156.6 174.5h0M156.3 165.8h0M162.0 174.2h0M162.6 164.7h0M152.4 140.4h0M155.0 166.7h0M158.5 162.1h0M163.1 151.6h0M156.1 178.3h0M159.8 145.2h0M155.4 195.3h0M153.7 151.6h0M153.6 200.3h0M162.8 187.4h0M164.1 189.7h0M160.3 138.5h0M164.7 142.1h0M153.8 138.5h0M153.0 139.2h0M160.7 150.3h0M168.8 196.7h0M165.8 153.1h0M164.4 146.0h0M153.4 142.8h0M153.9 199.4h0M158.8 188.6h0M155.5 146.6h0M152.4 187.3h0M152.7 194.0h0M152.4 191.5h0M156.9 172.2h0M162.6 176.4h0M153.2 174.8h0M154.6 139.5h0M154.4 171.6h0M158.5 136.5h0M171.8 184.6h0M155.1 188.9h0M161.5 165.9h0M159.8 149.5h0M160.1 164.0h0M166.9 159.0h0M153.7 142.1h0M173.6 191.3h0M156.1 142.6h0M158.7 185.7h0M161.5 145.6h0M163.4 136.5h0M160.1 140.9h0M161.9 175.0h0M161.3 169.9h0M154.8 175.8h0M166.2 178.3h0M160.9 187.9h0M161.5 195.5h0M161.2 138.0h0M158.4 180.4h0M161.8 193.3h0M159.7 147.7h0M156.0 182.1h0M154.3 152.5h0M159.3 157.2h0M159.8 142.2h0M163.5 196.8h0M169.9 185.7h0M156.9 185.1h0M153.4 152.3h0M152.8 151.0h0M160.9 193.8h0M156.6 186.2h0M166.8 186.5h0M162.8 170.7h0M154.8 142.8h0M159.7 176.9h0M154.3 159.9h0M157.7 170.6h0M158.9 178.4h0M158.5 195.6h0M156.4 181.0h0M152.7 149.8h0M153.1 154.7h0M152.7 153.0h0M158.5 182.7h0M152.4 164.6h0M158.2 180.8h0M168.5 185.1h0M152.1 152.2h0M154.4 181.1h0M153.2 149.6h0M161.9 177.9h0M164.8 178.8h0M159.3 155.8h0M153.1 140.2h0M152.6 159.6h0M158.5 145.3h0M161.0 199.2h0M154.6 180.8h0M164.8 147.6h0M154.4 142.5h0M162.0 181.0h0M152.5 165.0h0M157.2 196.8h0M153.0 158.3h0M154.4 190.0h0M160.6 150.8h0M166.6 179.7h0M157.3 154.1h0M152.5 195.0h0M157.4 146.3h0M163.4 179.1h0M154.1 147.8h0M156.2 200.1h0M158.5 161.0h0M160.3 150.6h0M165.5 140.2h0M153.3 144.5h0M164.4 198.8h0M160.9 145.0h0M152.1 187.4h0M161.0 170.1h0M152.1 143.3h0M166.5 154.6h0M152.6 160.8h0M157.4 148.6h0M157.5 150.3h0M158.4 177.8h0M154.0 166.8h0M154.4 179.3h0M152.3 190.5h0M154.2 164.6h0M163.0 143.6h0M154.8 142.1h0M156.4 143.7h0M152.6 151.0h0M154.5 164.7h0M154.2 159.5h0M162.7 166.6h0M155.4 140.7h0M152.4 150.5h0M166.5 192.7h0M155.6 198.8h0M156.4 197.5h0M152.4 170.2h0M158.9 192.4h0M157.3 149.8h0M156.5 196.3h0M152.4 166.1h0M155.5 165.5h0M155.4 156.7h0M164.1 159.6h0M160.3 143.8h0M152.9 147.7h0M156.6 136.7h0M158.6 137.6h0M152.7 166.7h0M161.7 151.3h0M162.7 168.5h0M158.6 145.5h0M168.9 188.4h0M158.2 191.9h0M156.5 160.0h0M154.8 150.8h0M155.3 175.0h0M153.9 150.1h0M155.5 138.3h0M153.6 148.5h0M159.1 184.8h0M164.2 180.3h0M156.6 136.8h0M154.1 167.1h0M162.3 169.4h0M156.4 200.7h0M156.0 176.5h0M166.3 149.2h0M160.3 201.2h0M154.3 198.7h0M158.4 157.0h0M157.2 179.6h0M154.8 137.5h0M156.7 190.0h0M156.0 136.0h0M156.4 165.6h0M153.2 172.6h0M156.2 151.7h0M156.0 143.9h0M153.0 144.9h0M169.2 170.0h0M159.1 139.7h0M157.2 151.3h0M162.4 165.5h0M161.9 162.7h0M162.7 192.1h0M155.3 198.4h0M152.8 162.6h0M153.7 195.6h0M152.9 154.9h0M168.2 154.8h0M155.7 163.4h0M162.0 170.5h0M167.0 178.6h0M157.2 169.4h0M157.1 178.9h0M158.6 174.2h0M155.8 198.7h0M159.3 141.0h0M157.9 147.8h0M152.3 181.1h0M158.3 159.9h0M153.6 170.2h0M155.7 184.3h0M166.7 176.7h0M154.9 188.1h0M161.9 136.6h0M154.4 182.2h0M162.8 178.2h0M156.2 187.2h0M157.9 164.1h0M153.6 162.7h0M159.0 198.7h0M156.5 183.9h0M159.6 159.5h0M162.6 144.3h0M153.3 150.5h0M157.2 138.3h0M158.4 144.9h0M156.1 141.1h0M164.0 174.0h0M156.0 159.2h0M158.0 181.9h0M154.2 167.4h0M153.8 137.1h0M156.6 160.1h0M154.4 198.8h0M171.0 177.9h0M159.3 177.4h0M161.8 148.8h0M152.6 155.6h0M170.3 175.2h0M162.6 191.4h0M159.2 148.9h0M162.5 137.0h0M154.8 153.8h0M156.3 140.6h0M152.2 181.4h0M152.7 136.3h0M160.1 182.4h0M157.8 200.4h0M152.7 196.9h0M158.4 199.2h0M158.9 170.1h0M160.3 156.9h0M156.5 152.9h0M155.5 139.6h0M154.1 142.0h0M154.6 176.7h0M160.0 187.6h0M158.7 183.5h0M159.4 148.3h0M155.5 196.6h0M152.9 146.0h0M164.4 181.2h0M160.2 151.0h0M153.6 188.0h0M156.1 174.2h0M155.6 148.5h0M171.0 187.6h0M161.7 151.1h0M159.9 172.8h0M155.4 145.0h0M160.9 143.0h0M152.4 177.3h0M158.9 163.6h0M152.4 170.8h0M154.6 183.2h0M154.8 150.4h0M166.3 181.1h0M157.5 176.1h0M155.2 156.3h0M152.4 179.2h0M156.6 150.8h0M160.0 186.3h0M168.6 198.5h0M155.5 187.8h0M160.5 183.0h0M154.3 139.6h0M153.9 139.2h0M164.6 169.5h0M173.4 193.2h0M153.5 166.1h0M156.5 169.0h0M161.7 170.0h0M163.4 170.5h0M155.2 186.6h0M154.1 161.2h0M152.2 167.5h0M163.6 150.5h0M165.0 156.7h0M154.5 186.2h0M165.4 160.2h0M159.5 176.3h0M161.8 142.8h0M155.2 154.2h0M153.5 138.4h0M154.4 166.4h0M153.2 176.4h0M155.8 184.9h0M156.2 186.3h0M153.4 161.7h0M154.2 142.1h0M152.6 154.8h0M155.4 186.1h0M154.5 140.6h0M165.9 146.7h0M154.8 147.0h0M152.7 147.3h0M160.8 158.0h0M152.9 144.0h0M155.1 143.6h0M169.9 184.3h0M164.5 166.8h0M159.7 198.4h0M156.6 166.3h0M152.6 182.7h0M156.0 148.6h0M168.9 198.5h0M161.6 158.1h0M152.3 152.2h0M165.5 200.6h0M156.0 145.7h0M157.3 147.3h0M155.7 184.6h0M156.8 163.3h0M161.4 189.6h0M158.6 136.7h0M170.0 185.8h0M167.6 198.1h0M161.0 157.3h0M164.1 153.3h0M157.6 159.9h0M157.7 160.7h0M154.3 143.2h0M161.4 162.8h0M152.3 193.9h0M160.7 196.0h0M169.7 188.4h0M153.0 185.2h0M152.3 189.0h0M164.7 160.8h0M161.3 190.7h0M159.8 157.9h0M164.0 189.5h0M169.8 191.3h0M169.2 193.3h0M171.2 184.5h0M153.9 180.1h0M154.9 192.7h0M160.4 171.7h0M154.7 187.0h0M157.1 187.0h0M156.3 158.2h0M157.7 152.3h0M155.5 137.7h0M152.6 187.9h0M154.6 140.4h0M155.8 184.3h0M161.3 162.2h0M161.0 188.3h0M154.5 177.2h0M166.0 194.3h0M155.3 156.3h0M156.8 193.0h0M154.1 174.3h0M164.7 190.1h0M153.2 163.2h0M155.9 193.4h0M157.0 159.6h0M164.8 159.7h0M154.9 144.1h0M167.1 195.6h0M154.6 164.2h0M156.2 182.8h0M153.8 170.1h0M154.5 189.5h0M159.1 150.5h0M154.4 184.6h0M159.6 193.6h0M162.7 200.7h0M156.2 182.3h0M154.9 196.6h0M158.8 157.5h0M157.1 183.7h0M162.8 168.6h0M167.9 179.6h0M163.2 201.2h0M161.7 187.8h0M164.1 172.0h0M168.6 192.6h0M165.4 149.5h0M162.1 137.5h0M152.4 198.3h0M162.9 169.3h0M155.9 145.4h0M155.5 177.1h0M161.8 175.3h0M153.4 152.9h0M161.7 169.5h0M152.8 166.5h0M152.5 158.2h0M152.1 182.7h0M157.9 152.7h0M157.8 169.7h0M165.9 194.9h0M162.6 149.2h0M160.7 184.8h0M154.0 182.4h0M160.6 190.7h0M160.6 196.3h0M157.5 141.6h0M155.0 140.5h0M162.6 145.3h0M157.1 166.0h0M156.4 186.0h0M156.2 149.0h0M160.7 176.3h0M155.0 155.8h0M156.2 141.5h0M155.6 148.6h0M160.2 148.0h0M159.5 167.3h0M163.6 197.6h0M155.9 166.7h0M161.4 145.4h0M162.5 147.0h0M160.2 199.0h0M157.6 162.3h0M159.1 158.9h0M156.6 181.0h0M156.1 192.4h0M170.9 173.3h0M152.8 183.5h0M165.1 159.1h0M166.4 162.2h0M155.4 164.2h0M164.4 179.2h0M157.6 183.9h0M153.5 159.9h0M155.8 191.5h0M165.3 180.2h0M162.0 158.2h0M155.8 162.2h0M164.1 147.9h0M167.5 188.2h0M155.4 137.7h0M161.5 168.3h0M158.3 159.7h0M157.4 170.7h0M160.5 196.6h0M159.3 157.7h0M163.8 161.2h0M160.9 153.0h0M158.2 160.2h0M159.1 195.5h0M153.4 171.1h0M161.8 189.6h0M152.6 146.4h0M153.5 148.6h0M153.3 139.9h0M156.1 150.9h0M153.0 139.8h0M169.0 183.0h0M165.8 195.4h0M156.8 196.1h0M158.7 141.8h0M155.7 148.6h0M158.6 184.8h0M157.4 142.1h0M152.3 192.9h0M168.0 199.7h0M155.3 138.5h0M153.2 137.4h0M155.5 182.2h0M154.7 146.6h0M160.8 147.8h0M163.2 199.2h0M161.1 159.5h0M153.2 161.5h0M154.4 152.5h0M166.1 200.9h0M153.8 147.4h0M156.4 158.9h0M164.1 184.1h0M156.6 180.4h0M163.1 138.2h0M158.4 173.5h0M161.0 165.4h0M159.7 158.0h0M168.2 161.8h0M160.0 195.6h0M155.7 172.6h0M156.2 161.0h0M170.6 181.0h0M152.6 187.2h0M168.8 169.6h0M152.6 163.0h0M166.9 179.6h0M158.0 162.7h0M164.1 198.6h0M157.3 156.6h0M154.2 160.6h0M166.3 187.7h0M168.8 189.5h0M152.7 156.8h0M153.1 185.4h0M162.2 146.3h0M161.0 191.9h0M152.7 196.2h0M162.7 141.4h0M157.3 145.7h0M162.5 185.6h0M160.6 163.9h0M169.2 196.9h0M158.5 142.7h0M164.4 154.0h0M163.9 164.8h0M152.7 183.4h0M168.4 178.3h0M163.4 142.4h0M152.5 150.0h0M153.7 178.7h0M163.0 196.0h0M164.4 197.5h0M152.1 173.3h0M152.6 188.7h0M164.4 192.3h0M161.4 162.2h0M154.5 143.7h0M161.9 184.8h0M160.2 139.5h0M171.0 200.4h0M155.1 144.6h0M157.4 177.5h0M157.8 189.1h0M154.9 138.2h0M152.7 191.5h0M164.5 194.2h0M154.2 166.6h0M153.3 182.9h0M162.6 196.8h0M161.1 148.1h0M162.1 143.8h0M158.9 148.1h0M152.0 146.7h0M172.2 196.6h0M154.3 152.3h0M156.5 195.5h0M168.1 176.0h0M161.1 186.3h0M162.2 191.7h0M168.2 164.9h0M166.1 188.5h0M152.2 180.5h0M158.6 166.2h0M155.0 189.7h0M157.5 180.6h0M156.8 172.1h0M154.5 144.9h0M159.2 166.7h0M152.3 160.0h0M153.0 172.1h0M161.9 146.6h0M171.5 193.8h0M174.3 200.0h0M156.7 145.2h0M164.3 171.7h0M157.5 156.5h0M152.9 144.1h0M159.2 154.5h0M163.0 197.8h0M168.3 180.7h0M170.7 177.3h0M161.2 171.4h0M161.7 159.5h0M160.1 175.4h0M164.8 151.9h0M160.8 140.2h0M152.6 149.4h0M165.1 169.1h0M165.2 179.6h0M163.6 180.6h0M166.5 182.5h0M158.6 136.1h0M155.8 199.2h0M160.6 166.0h0M157.4 150.5h0M163.4 196.2h0M152.2 192.2h0M154.6 160.4h0M153.9 192.6h0M157.2 197.7h0M161.9 195.1h0M166.7 166.6h0M163.0 170.7h0M163.1 153.4h0M154.2 200.2h0M156.9 188.2h0M157.1 157.6h0M168.8 183.9h0M171.9 200.9h0M163.3 181.9h0M162.2 158.2h0M158.0 178.2h0M156.9 196.1h0M154.2 157.3h0M160.2 157.6h0M155.0 191.0h0M161.5 175.7h0M159.0 178.7h0M152.3 177.8h0M157.6 153.0h0M163.1 162.1h0M164.1 162.4h0M153.4 162.4h0M158.3 174.4h0M163.7 167.2h0M161.7 161.4h0M160.5 192.7h0M167.2 175.8h0M155.1 180.9h0M153.1 153.6h0M153.4 167.0h0M159.4 183.2h0M159.7 165.8h0M156.8 198.0h0M156.3 157.9h0M165.9 166.6h0M159.7 186.2h0M152.6 158.5h0M163.7 156.3h0M154.7 183.2h0M153.0 182.0h0M157.5 176.0h0M162.1 155.2h0M161.2 186.7h0M161.5 158.6h0M162.6 172.2h0M164.3 154.7h0M154.9 150.2h0M155.1 170.4h0M161.3 154.5h0M158.7 200.9h0M161.9 163.6h0M157.8 161.4h0M159.7 185.2h0M153.0 158.0h0M168.6 177.8h0M153.9 197.1h0M160.1 175.7h0M161.6 159.9h0M165.3 175.4h0M166.0 164.9h0M160.9 191.7h0M158.7 157.2h0M161.5 156.5h0M162.3 185.7h0M152.9 200.0h0M166.4 186.6h0M156.4 155.8h0M159.8 152.8h0M158.3 187.0h0M158.6 185.6h0M157.0 186.5h0M160.7 200.1h0M153.2 150.2h0M167.6 187.2h0M154.7 182.6h0M165.7 194.6h0M157.2 155.9h0M152.1 184.4h0M156.7 152.2h0M171.1 194.8h0M165.8 166.3h0M168.0 190.2h0M168.6 180.1h0M168.6 183.0h0M155.3 179.0h0M160.0 176.6h0M157.7 167.3h0M161.7 176.1h0M156.0 161.4h0M160.3 175.7h0M162.6 171.4h0M159.6 159.5h0M163.5 164.1h0M166.0 186.0h0M156.1 176.5h0M162.0 197.4h0M156.5 169.2h0M163.2 170.6h0M161.0 191.9h0M155.9 187.4h0M157.8 173.1h0M157.4 165.7h0M165.4 188.6h0M155.4 160.6h0M164.1 190.2h0M163.3 184.6h0M156.9 185.5h0M156.8 153.1h0M164.7 151.7h0M163.2 176.9h0M167.9 199.5h0M156.9 161.7h0M162.9 155.6h0M160.9 187.7h0M156.2 168.9h0M163.7 174.9h0M168.4 195.8h0M160.4 194.4h0M157.0 171.6h0M155.6 199.9h0M155.9 158.1h0M168.6 197.2h0M165.0 167.0h0M160.2 195.6h0M163.1 159.8h0M153.9 169.2h0M160.5 196.2h0M161.4 170.4h0M152.3 163.1h0M158.0 170.0h0M156.8 150.6h0M158.1 189.0h0M163.1 184.8h0M152.3 159.6h0M162.8 184.5h0M155.0 165.0h0M169.3 193.8h0M160.6 161.9h0M157.5 179.4h0M156.3 151.9h0M162.5 183.0h0M154.0 176.1h0M156.5 160.9h0M157.8 171.3h0M154.2 196.2h0M156.8 200.5h0M156.6 193.9h0M158.5 180.1h0M162.5 151.9h0M157.0 191.5h0M160.8 189.7h0M153.1 200.5h0M155.6 169.5h0M165.5 182.0h0M162.4 193.1h0M164.5 169.8h0M155.6 155.4h0M160.0 188.5h0M153.8 200.8h0M155.4 173.6h0M153.2 150.1h0M157.0 154.7h0M160.1 172.1h0M162.5 164.8h0M168.3 176.4h0M159.2 158.7h0M158.1 175.3h0M156.0 194.1h0M158.9 194.9h0M161.4 167.2h0M156.8 178.8h0M164.9 154.3h0M153.8 168.9h0M161.4 183.6h0M157.0 166.8h0M158.4 193.3h0M167.2 171.4h0M158.2 168.5h0M161.3 158.3h0M159.9 184.0h0M155.7 170.8h0M160.5 190.4h0M159.1 192.6h0M152.5 187.6h0M165.9 161.2h0M164.0 184.9h0M159.8 175.4h0M154.5 160.1h0M164.2 183.0h0M161.5 163.2h0M160.5 157.0h0M159.2 158.8h0M160.4 166.1h0M158.7 156.9h0M154.3 181.6h0M162.3 165.8h0M162.4 178.0h0M162.6 189.9h0M158.4 161.4h0M162.7 192.5h0M158.7 188.6h0M167.6 173.0h0M164.3 192.1h0M160.4 155.5h0M164.3 151.7h0M166.4 199.8h0M164.5 163.7h0M163.8 159.1h0M152.3 176.7h0M160.5 195.6h0M165.0 192.5h0M166.4 177.3h0M164.9 160.4h0M152.4 167.3h0M153.0 167.2h0M160.4 153.7h0M154.2 156.2h0M156.2 165.0h0M169.6 197.1h0M170.9 194.5h0M164.8 172.5h0M165.8 164.4h0M165.7 191.5h0M153.3 161.7h0M162.8 197.4h0M166.9 181.4h0M161.8 157.3h0M164.8 173.8h0M155.2 173.3h0M157.5 199.0h0M167.1 188.1h0M162.2 162.7h0M155.5 170.3h0M165.8 161.1h0M159.9 168.9h0M152.4 175.7h0M165.6 188.6h0M158.8 194.8h0M157.0 160.7h0M163.9 187.5h0M160.3 170.8h0M164.9 157.9h0M160.3 174.2h0M155.7 190.3h0M158.4 187.0h0M153.8 191.6h0M161.5 164.1h0M158.2 174.7h0M155.7 179.6h0M152.0 172.4h0M156.7 190.9h0M162.4 192.5h0M162.8 180.8h0M162.7 156.4h0M164.9 165.0h0M164.6 190.3h0M160.2 191.7h0M168.9 184.5h0M153.4 159.7h0M160.1 171.1h0M155.1 157.6h0M159.4 194.4h0M154.6 157.6h0M155.2 179.6h0M160.8 174.3h0M160.1 172.5h0M152.3 192.8h0M155.9 197.6h0M162.1 152.0h0M161.1 179.2h0M163.3 161.1h0M163.0 165.7h0M160.3 161.7h0M158.5 183.2h0M153.1 174.6h0M164.1 182.9h0M159.7 157.9h0M153.8 187.5h0M168.4 193.0h0M155.3 152.6h0M155.4 154.3h0M158.6 154.4h0M156.4 162.8h0M158.0 173.6h0M165.4 190.4h0M155.1 155.8h0M156.3 150.4h0M161.6 155.5h0M170.4 190.0h0M152.5 160.7h0M159.5 188.8h0M159.7 197.7h0M153.1 166.0h0M162.1 198.5h0M159.0 172.6h0M167.3 189.4h0M154.9 174.4h0M166.1 170.8h0M162.5 170.9h0M159.8 178.7h0M156.2 179.4h0M166.6 178.5h0M157.0 154.1h0M170.8 195.1h0M160.2 150.7h0M166.7 182.4h0M154.1 174.1h0M162.7 165.4h0M155.7 187.3h0M163.5 182.9h0M152.4 183.7h0M157.2 172.6h0M157.8 180.6h0M161.3 156.6h0M163.8 164.7h0M160.2 165.7h0M154.2 191.4h0M153.2 187.4h0M152.5 197.9h0M158.7 187.1h0M157.6 159.2h0M158.8 175.7h0M159.2 156.3h0M166.6 165.4h0M158.8 169.6h0M166.1 161.7h0M161.8 166.5h0M159.4 192.6h0M157.1 188.7h0M152.6 155.6h0M166.1 173.0h0M158.3 160.4h0M157.1 189.1h0M159.3 157.8h0M167.0 171.8h0M156.6 195.9h0M159.0 178.7h0M157.9 151.7h0M157.9 196.9h0M164.1 180.0h0M164.4 153.2h0M156.1 155.6h0M152.3 186.7h0M154.0 169.2h0M152.3 174.2h0M155.1 157.7h0M153.2 154.2h0M159.4 160.0h0M163.4 157.0h0M156.0 171.3h0M164.3 162.3h0M161.8 152.4h0M164.9 155.0h0M161.5 170.9h0M153.9 194.2h0M161.3 153.3h0M164.3 180.1h0M159.4 164.2h0M158.2 159.6h0M160.7 164.4h0M156.1 165.3h0M153.5 182.9h0M161.2 191.0h0M153.7 161.7h0M160.3 176.0h0M158.7 186.8h0M166.2 171.1h0M166.6 164.0h0M171.1 195.7h0M157.0 198.3h0M163.4 191.7h0M166.3 160.4h0M166.2 183.2h0M153.3 178.6h0M155.3 194.2h0M161.1 163.3h0M158.6 159.9h0M153.7 186.5h0M153.8 183.8h0M162.6 174.4h0M152.8 185.2h0M165.7 159.8h0M158.7 170.0h0M162.9 169.2h0M163.8 187.9h0M161.0 170.6h0M155.1 176.4h0M171.0 198.6h0M170.3 189.8h0M165.6 173.8h0M162.9 162.3h0M168.9 186.6h0M163.4 133.5h0M162.2 121.6h0M162.4 123.7h0M163.0 133.7h0M154.2 130.1h0M159.4 119.3h0M156.4 120.5h0M154.0 118.2h0M154.9 131.1h0M156.3 133.8h0M155.9 133.8h0M157.7 116.3h0M152.2 124.0h0M156.9 134.1h0M164.5 116.0h0M155.3 120.8h0M153.3 116.5h0M155.2 126.6h0M164.6 122.0h0M164.9 123.8h0M153.6 134.6h0M152.3 133.8h0M162.5 130.9h0M154.0 133.1h0M155.5 127.3h0M154.5 124.4h0M160.2 132.4h0M164.0 128.6h0M159.4 133.1h0M164.1 122.8h0M153.3 123.8h0M161.2 123.0h0M160.4 135.6h0M164.2 129.9h0M157.8 132.3h0M161.9 125.7h0M153.4 122.7h0M162.5 129.0h0M153.7 134.7h0M158.4 118.9h0M164.3 123.0h0M157.8 136.9h0M160.2 132.7h0M164.6 119.6h0M153.0 119.7h0M152.2 125.5h0M157.4 136.0h0M162.1 133.8h0M166.0 118.0h0M170.0 121.0h0M173.0 124.0h0M168.0 126.0h0M175.0 128.0h0M161.0 131.0h0M167.0 133.0h0M171.0 135.0h0M176.0 137.0h0M174.0 141.0h0M178.0 142.0h0M168.0 145.0h0M164.0 150.0h0M170.0 155.0h0M176.0 158.0h0M172.0 162.0h0M166.0 160.0h0M178.0 165.0h0M170.0 170.0h0M175.0 172.0h0M172.0 178.0h0M177.0 180.0h0M170.0 186.0h0M174.0 190.0h0M178.0 195.0h0M171.0 198.0h0M175.0 200.0h0M168.0 202.0h0"/>
<g fill="none" stroke="#ffc8c8" stroke-width="0.6"><rect x="119" y="88.5" width="34" height="10.2"/><rect x="119" y="123.1" width="34" height="11.4"/><rect x="181" y="136" width="41" height="11"/><rect x="182" y="159" width="22" height="7"/></g>
<rect x="35.5" y="14.4" width="219.2" height="233.0" fill="none" stroke="#555" stroke-width="0.9"/>
<line x1="139" y1="14.4" x2="139" y2="247.4" stroke="#999" stroke-width="1" stroke-dasharray="2.2,2.2"/>
<line x1="30.3" y1="24.8" x2="35.5" y2="24.8" stroke="#555" stroke-width="0.9"/>
<text x="23.2" y="28.4" font-size="8.40" fill="#333" text-anchor="middle">8</text>
<line x1="30.3" y1="77.6" x2="35.5" y2="77.6" stroke="#555" stroke-width="0.9"/>
<text x="23.2" y="81.2" font-size="8.40" fill="#333" text-anchor="middle">6</text>
<line x1="30.3" y1="130.2" x2="35.5" y2="130.2" stroke="#555" stroke-width="0.9"/>
<text x="23.2" y="133.8" font-size="8.40" fill="#333" text-anchor="middle">4</text>
<line x1="30.3" y1="182.8" x2="35.5" y2="182.8" stroke="#555" stroke-width="0.9"/>
<text x="23.2" y="186.4" font-size="8.40" fill="#333" text-anchor="middle">2</text>
<line x1="30.3" y1="235.3" x2="35.5" y2="235.3" stroke="#555" stroke-width="0.9"/>
<text x="23.2" y="238.9" font-size="8.40" fill="#333" text-anchor="middle">0</text>
<line x1="38.3" y1="247.4" x2="38.3" y2="251.2" stroke="#555" stroke-width="0.9"/>
<text x="38.3" y="263.1" font-size="8.20" fill="#333" text-anchor="middle">-5.0</text>
<line x1="81.4" y1="247.4" x2="81.4" y2="251.2" stroke="#555" stroke-width="0.9"/>
<text x="81.4" y="263.1" font-size="8.20" fill="#333" text-anchor="middle">-2.5</text>
<line x1="139" y1="247.4" x2="139" y2="251.2" stroke="#555" stroke-width="0.9"/>
<text x="139.0" y="263.1" font-size="8.20" fill="#333" text-anchor="middle">0</text>
<line x1="196.3" y1="247.4" x2="196.3" y2="251.2" stroke="#555" stroke-width="0.9"/>
<text x="196.3" y="263.1" font-size="8.20" fill="#333" text-anchor="middle">2.5</text>
<line x1="253.5" y1="247.4" x2="253.5" y2="251.2" stroke="#555" stroke-width="0.9"/>
<text x="253.5" y="263.1" font-size="8.20" fill="#333" text-anchor="middle">5.0</text>
<text x="85.3" y="10.9" font-size="9.50" fill="#222" text-anchor="middle" textLength="70.5" lengthAdjust="spacingAndGlyphs">Decreased in LC</text>
<text x="194.3" y="10.9" font-size="9.50" fill="#222" text-anchor="middle" textLength="67.7" lengthAdjust="spacingAndGlyphs">Increased in LC</text>
<text x="145" y="278.8" font-size="9.4" fill="#222" text-anchor="middle">log<tspan font-size="6.5" dy="2">2</tspan><tspan dy="-2">(LC/CC)</tspan></text>
<text transform="translate(9.9 131) rotate(-90)" font-size="9.4" fill="#222" text-anchor="middle">−log<tspan font-size="6.5" dy="2">10</tspan><tspan dy="-2">(</tspan><tspan font-style="italic">P</tspan><tspan font-size="6.5" dy="2">adj</tspan><tspan dy="-2">)</tspan></text>
<text x="50.7" y="30.8" font-size="7.17" fill="#1e90ff" textLength="38.9" lengthAdjust="spacingAndGlyphs">MIR302CHG</text>
<text x="51.9" y="57.1" font-size="7.17" fill="#1e90ff" textLength="27.7" lengthAdjust="spacingAndGlyphs">CYP27C1</text>
<text x="51.9" y="90.9" font-size="7.17" fill="#1e90ff" textLength="15.2" lengthAdjust="spacingAndGlyphs">TPPP</text>
<text x="59.8" y="167.1" font-size="7.17" fill="#1e90ff" textLength="13.1" lengthAdjust="spacingAndGlyphs">LIFR</text>
<polyline points="149.5,23.5 158.0,26.6" fill="none" stroke="#ff0000" stroke-width="0.7"/><polyline points="168.0,37.0 188.0,37.0" fill="none" stroke="#ff0000" stroke-width="0.7"/><polyline points="151.0,44.0 157.0,51.0" fill="none" stroke="#ff0000" stroke-width="0.7"/><polyline points="168.0,41.0 175.0,50.0" fill="none" stroke="#ff0000" stroke-width="0.7"/><polyline points="179.0,44.6 207.0,54.0" fill="none" stroke="#ff0000" stroke-width="0.7"/><polyline points="148.0,58.0 160.0,118.0" fill="none" stroke="#ff0000" stroke-width="0.7"/><polyline points="165.0,76.0 162.0,79.0" fill="none" stroke="#ff0000" stroke-width="0.7"/><polyline points="191.3,101.5 221.0,76.5" fill="none" stroke="#ff0000" stroke-width="0.7"/><polyline points="170.0,88.5 184.0,88.5" fill="none" stroke="#ff0000" stroke-width="0.7"/><polyline points="178.0,126.0 233.0,91.0" fill="none" stroke="#ff0000" stroke-width="0.7"/><polyline points="190.0,135.0 227.0,108.0" fill="none" stroke="#ff0000" stroke-width="0.7"/><polyline points="165.0,117.0 174.0,109.0" fill="none" stroke="#ff0000" stroke-width="0.7"/><polyline points="195.0,146.0 217.0,126.0" fill="none" stroke="#ff0000" stroke-width="0.7"/><polyline points="170.0,131.0 186.0,125.0" fill="none" stroke="#ff0000" stroke-width="0.7"/><polyline points="166.0,138.0 178.0,132.0" fill="none" stroke="#ff0000" stroke-width="0.7"/><polyline points="132.0,80.0 158.0,190.0" fill="none" stroke="#ff0000" stroke-width="0.7"/><polyline points="145.0,98.0 158.0,190.0" fill="none" stroke="#ff0000" stroke-width="0.7"/><polyline points="142.0,108.0 158.0,195.0" fill="none" stroke="#ff0000" stroke-width="0.7"/><polyline points="145.0,131.0 158.0,195.0" fill="none" stroke="#ff0000" stroke-width="0.7"/><polyline points="165.0,153.0 182.0,142.0" fill="none" stroke="#ff0000" stroke-width="0.7"/><polyline points="170.0,165.0 199.0,145.0" fill="none" stroke="#ff0000" stroke-width="0.7"/><polyline points="172.0,168.0 236.0,141.0" fill="none" stroke="#ff0000" stroke-width="0.7"/><polyline points="165.0,152.0 171.0,150.0" fill="none" stroke="#ff0000" stroke-width="0.7"/><polyline points="175.0,172.0 229.0,158.0" fill="none" stroke="#ff0000" stroke-width="0.7"/><polyline points="172.0,174.0 210.0,176.0" fill="none" stroke="#ff0000" stroke-width="0.7"/><polyline points="172.0,184.0 205.0,183.0" fill="none" stroke="#ff0000" stroke-width="0.7"/><polyline points="170.0,188.0 205.0,193.0" fill="none" stroke="#ff0000" stroke-width="0.7"/><polyline points="175.0,195.0 230.0,205.0" fill="none" stroke="#ff0000" stroke-width="0.7"/><polyline points="176.0,200.0 203.0,210.0" fill="none" stroke="#ff0000" stroke-width="0.7"/><polyline points="142.0,152.0 155.0,185.0" fill="none" stroke="#ff0000" stroke-width="0.7"/><polyline points="135.0,168.0 152.0,188.0" fill="none" stroke="#ff0000" stroke-width="0.7"/><polyline points="146.0,209.0 155.0,198.0" fill="none" stroke="#ff0000" stroke-width="0.7"/><polyline points="161.0,204.0 162.0,209.0" fill="none" stroke="#ff0000" stroke-width="0.7"/><polyline points="172.0,201.0 178.0,211.0" fill="none" stroke="#ff0000" stroke-width="0.7"/><polyline points="176.0,201.0 216.0,218.0" fill="none" stroke="#ff0000" stroke-width="0.7"/><polyline points="145.0,222.0 154.0,203.0" fill="none" stroke="#ff0000" stroke-width="0.7"/><polyline points="161.0,222.0 158.0,204.0" fill="none" stroke="#ff0000" stroke-width="0.7"/><polyline points="172.0,204.0 213.0,229.0" fill="none" stroke="#ff0000" stroke-width="0.7"/><polyline points="146.0,234.0 152.0,204.0" fill="none" stroke="#ff0000" stroke-width="0.7"/><polyline points="175.0,234.0 165.0,204.0" fill="none" stroke="#ff0000" stroke-width="0.7"/><polyline points="168.0,202.0 204.0,238.0" fill="none" stroke="#ff0000" stroke-width="0.7"/><polyline points="95.0,215.0 151.0,193.0" fill="none" stroke="#ff0000" stroke-width="0.7"/><polyline points="117.0,221.0 152.0,198.0" fill="none" stroke="#ff0000" stroke-width="0.7"/><polyline points="136.0,235.0 153.0,204.0" fill="none" stroke="#ff0000" stroke-width="0.7"/>
<text x="132.3" y="24.8" font-size="7.17" fill="#ff0000" textLength="16.1" lengthAdjust="spacingAndGlyphs">LDLR</text>
<text x="167.4" y="29.9" font-size="7.17" fill="#ff0000" textLength="11.9" lengthAdjust="spacingAndGlyphs">TNF</text>
<text x="192.6" y="37.9" font-size="7.17" fill="#ff0000" textLength="18.1" lengthAdjust="spacingAndGlyphs">SNAI1</text>
<text x="135.7" y="40.9" font-size="7.17" fill="#ff0000" textLength="20.3" lengthAdjust="spacingAndGlyphs">FCRL3</text>
<text x="168.9" y="57.4" font-size="7.17" fill="#ff0000" textLength="18.0" lengthAdjust="spacingAndGlyphs">RIPK2</text>
<text x="210.7" y="57.4" font-size="7.17" fill="#ff0000" textLength="17.4" lengthAdjust="spacingAndGlyphs">CCL4</text>
<text x="132.3" y="56.1" font-size="7.17" fill="#ff0000" textLength="21.4" lengthAdjust="spacingAndGlyphs">PRDM1</text>
<text x="181.6" y="71.1" font-size="7.17" fill="#ff0000" textLength="23.9" lengthAdjust="spacingAndGlyphs">CCL3L1</text>
<text x="151.8" y="73.6" font-size="7.17" fill="#ff0000" textLength="21.5" lengthAdjust="spacingAndGlyphs">CXCL2</text>
<text x="221.7" y="75.5" font-size="7.17" fill="#ff0000" textLength="19.3" lengthAdjust="spacingAndGlyphs">THBS1</text>
<text x="184.1" y="86.9" font-size="7.17" fill="#ff0000" textLength="20.3" lengthAdjust="spacingAndGlyphs">NLRP3</text>
<text x="237.8" y="93.9" font-size="7.17" fill="#ff0000" textLength="12.2" lengthAdjust="spacingAndGlyphs">IL1B</text>
<text x="230.6" y="107.2" font-size="7.17" fill="#ff0000" textLength="19.4" lengthAdjust="spacingAndGlyphs">MYOF</text>
<text x="172.7" y="107.2" font-size="7.17" fill="#ff0000" textLength="8.9" lengthAdjust="spacingAndGlyphs">IL6</text>
<text x="220.7" y="125.8" font-size="7.17" fill="#ff0000" textLength="15.6" lengthAdjust="spacingAndGlyphs">CSF2</text>
<text x="187.0" y="126.7" font-size="7.17" fill="#ff0000" textLength="12.3" lengthAdjust="spacingAndGlyphs">IL1A</text>
<text x="179.7" y="132.9" font-size="7.17" fill="#ff0000" textLength="15.8" lengthAdjust="spacingAndGlyphs">OSM</text>
<text x="126.0" y="77.4" font-size="7.17" fill="#ff0000" textLength="14.7" lengthAdjust="spacingAndGlyphs">JAK2</text>
<text x="130.7" y="95.3" font-size="7.17" fill="#ff0000" textLength="19.8" lengthAdjust="spacingAndGlyphs">LILRA4</text>
<text x="126.4" y="105.8" font-size="7.17" fill="#ff0000" textLength="23.6" lengthAdjust="spacingAndGlyphs">BCL2A1</text>
<text x="124.6" y="128.5" font-size="7.17" fill="#ff0000" textLength="30.4" lengthAdjust="spacingAndGlyphs">MIR222HG</text>
<text x="183.5" y="142.8" font-size="7.17" fill="#ff0000" textLength="13.9" lengthAdjust="spacingAndGlyphs">TLR7</text>
<text x="200.2" y="145.0" font-size="7.17" fill="#ff0000" textLength="26.6" lengthAdjust="spacingAndGlyphs">SIGLEC1</text>
<text x="239.7" y="143.3" font-size="7.17" fill="#ff0000" textLength="12.3" lengthAdjust="spacingAndGlyphs">IL10</text>
<text x="169.5" y="150.0" font-size="7.17" fill="#ff0000" textLength="24.1" lengthAdjust="spacingAndGlyphs">FCGR2C</text>
<text x="232.1" y="162.1" font-size="7.17" fill="#ff0000" textLength="18.0" lengthAdjust="spacingAndGlyphs">OAS2</text>
<text x="212.6" y="178.4" font-size="7.17" fill="#ff0000" textLength="29.4" lengthAdjust="spacingAndGlyphs">IGHV3-11</text>
<text x="179.0" y="182.6" font-size="7.17" fill="#ff0000" textLength="14.6" lengthAdjust="spacingAndGlyphs">LDLR</text>
<text x="207.4" y="185.1" font-size="7.17" fill="#ff0000" textLength="24.7" lengthAdjust="spacingAndGlyphs">CCL4L2</text>
<text x="207.8" y="195.5" font-size="7.17" fill="#ff0000" textLength="31.9" lengthAdjust="spacingAndGlyphs">IGHV3-65</text>
<text x="232.5" y="206.7" font-size="7.17" fill="#ff0000" textLength="19.0" lengthAdjust="spacingAndGlyphs">IGHJ4</text>
<text x="202.7" y="213.0" font-size="7.17" fill="#ff0000" textLength="30.7" lengthAdjust="spacingAndGlyphs">IGLV5-48</text>
<text x="124.6" y="149.5" font-size="7.17" fill="#ff0000" textLength="15.4" lengthAdjust="spacingAndGlyphs">IFI44</text>
<text x="124.6" y="166.4" font-size="7.17" fill="#ff0000" textLength="16.6" lengthAdjust="spacingAndGlyphs">LEPR</text>
<text x="136.6" y="214.9" font-size="7.17" fill="#ff0000" textLength="13.3" lengthAdjust="spacingAndGlyphs">IRF7</text>
<text x="156.2" y="214.9" font-size="7.17" fill="#ff0000" textLength="15.6" lengthAdjust="spacingAndGlyphs">ATF3</text>
<text x="177.4" y="216.8" font-size="7.17" fill="#ff0000" textLength="22.8" lengthAdjust="spacingAndGlyphs">TRIM67</text>
<text x="219.2" y="223.0" font-size="7.17" fill="#ff0000" textLength="19.9" lengthAdjust="spacingAndGlyphs">CD163</text>
<text x="132.8" y="228.7" font-size="7.17" fill="#ff0000" textLength="17.1" lengthAdjust="spacingAndGlyphs">IL23R</text>
<text x="158.1" y="227.8" font-size="7.17" fill="#ff0000" textLength="31.1" lengthAdjust="spacingAndGlyphs">IGHV4-55</text>
<text x="216.0" y="234.8" font-size="7.17" fill="#ff0000" textLength="27.9" lengthAdjust="spacingAndGlyphs">MIR8078</text>
<text x="143.7" y="239.9" font-size="7.17" fill="#ff0000" textLength="25.2" lengthAdjust="spacingAndGlyphs">IL6-AS1</text>
<text x="172.7" y="239.9" font-size="7.17" fill="#ff0000" textLength="29.4" lengthAdjust="spacingAndGlyphs">IGLV3-16</text>
<text x="205.5" y="243.7" font-size="7.17" fill="#ff0000" textLength="19.8" lengthAdjust="spacingAndGlyphs">IGHG1</text>
<text x="77.0" y="215.4" font-size="7.17" fill="#ff0000" textLength="17.8" lengthAdjust="spacingAndGlyphs">CD33</text>
<text x="98.9" y="225.4" font-size="7.17" fill="#ff0000" textLength="17.8" lengthAdjust="spacingAndGlyphs">F13A1</text>
<text x="105.3" y="240.3" font-size="7.17" fill="#ff0000" textLength="30.7" lengthAdjust="spacingAndGlyphs">TNFRSF21</text>
<text x="-0.8" y="8.8" font-size="17.00" fill="#000" font-weight="bold" stroke="#000" stroke-width="0.35">a</text>
<text x="-0.2" y="299.8" font-size="17.00" fill="#000" font-weight="bold" stroke="#000" stroke-width="0.35">b</text>
<text x="23.8" y="301.5" font-size="10.20" fill="#222" textLength="80.3" lengthAdjust="spacingAndGlyphs">Cytokine signaling</text>
<text x="23.8" y="521.1" font-size="10.20" fill="#222" textLength="128.8" lengthAdjust="spacingAndGlyphs">Complement and coagulation</text>
<text x="23.8" y="654.4" font-size="10.20" fill="#222" textLength="86.9" lengthAdjust="spacingAndGlyphs">Metabolic pathways</text>
<circle cx="8.9" cy="315.8" r="8.9" fill="#ff0000"/>
<text x="23.8" y="318.3" font-size="8.67" fill="#222" textLength="141.4" lengthAdjust="spacingAndGlyphs">Signaling by cytokines and chemokines</text>
<circle cx="8.9" cy="332.8" r="7.1" fill="#ff0000"/>
<text x="23.8" y="335.3" font-size="8.67" fill="#222" textLength="48.2" lengthAdjust="spacingAndGlyphs">IL-6 signaling</text>
<circle cx="8.9" cy="349.9" r="8.1" fill="#ff0000"/>
<text x="23.8" y="352.4" font-size="8.67" fill="#222" textLength="52.7" lengthAdjust="spacingAndGlyphs">IL-10 signaling</text>
<circle cx="8.9" cy="366.9" r="7.7" fill="#ff0000"/>
<text x="23.8" y="369.4" font-size="8.67" fill="#222" textLength="52.7" lengthAdjust="spacingAndGlyphs">IL-17 signaling</text>
<circle cx="8.9" cy="383.9" r="8.7" fill="#ff0000"/>
<text x="23.8" y="386.4" font-size="8.67" fill="#222" textLength="50.9" lengthAdjust="spacingAndGlyphs">IL-12 pathway</text>
<circle cx="8.9" cy="400.8" r="8.2" fill="#ff0000"/>
<text x="23.8" y="403.3" font-size="8.67" fill="#222" textLength="52.7" lengthAdjust="spacingAndGlyphs">IL-15 signaling</text>
<circle cx="8.9" cy="417.8" r="8.2" fill="#ff0000"/>
<text x="23.8" y="420.3" font-size="8.67" fill="#222" textLength="52.7" lengthAdjust="spacingAndGlyphs">IL-18 signaling</text>
<circle cx="8.9" cy="434.6" r="8.2" fill="#ff0000"/>
<text x="23.8" y="437.1" font-size="8.67" fill="#222" textLength="92.4" lengthAdjust="spacingAndGlyphs">IL-6-JAK-STAT3 signaling</text>
<circle cx="8.9" cy="451.8" r="8.7" fill="#ff0000"/>
<text x="23.8" y="454.3" font-size="8.67" fill="#222" textLength="71.1" lengthAdjust="spacingAndGlyphs">JAK-STAT signaling</text>
<circle cx="8.9" cy="468.9" r="8.1" fill="#ff0000"/>
<text x="23.8" y="471.4" font-size="8.67" fill="#222" textLength="81.9" lengthAdjust="spacingAndGlyphs">TLR signaling pathway</text>
<circle cx="8.9" cy="485.7" r="8.2" fill="#ff0000"/>
<text x="23.8" y="488.2" font-size="8.67" fill="#222" textLength="72.4" lengthAdjust="spacingAndGlyphs">IFNα-IFNβ signaling</text>
<circle cx="8.9" cy="502.9" r="8.2" fill="#ff0000"/>
<text x="23.8" y="505.4" font-size="8.67" fill="#222" textLength="51.3" lengthAdjust="spacingAndGlyphs">IFNγ signaling</text>
<circle cx="8.9" cy="532.2" r="6.8" fill="#ff0000"/>
<text x="23.8" y="534.7" font-size="8.67" fill="#222" textLength="71.1" lengthAdjust="spacingAndGlyphs">Coagulation system</text>
<circle cx="8.9" cy="547.5" r="8.8" fill="#ff0000"/>
<text x="23.8" y="550.0" font-size="8.67" fill="#222" textLength="126.9" lengthAdjust="spacingAndGlyphs">Complement C4 AND C2 activators</text>
<circle cx="8.9" cy="564.1" r="6.2" fill="#ff0000"/>
<text x="23.8" y="566.6" font-size="8.67" fill="#222" textLength="43.2" lengthAdjust="spacingAndGlyphs">Fibronolysis</text>
<circle cx="8.9" cy="580.3" r="7.4" fill="#ff0000"/>
<text x="23.8" y="582.8" font-size="8.67" fill="#222" textLength="59.9" lengthAdjust="spacingAndGlyphs">Clotting cascade</text>
<circle cx="8.9" cy="598.5" r="8.8" fill="#ff0000"/>
<text x="23.8" y="601.0" font-size="8.67" fill="#222" textLength="110.3" lengthAdjust="spacingAndGlyphs">Initial triggering of complement</text>
<circle cx="8.9" cy="616.4" r="8.9" fill="#ff0000"/>
<text x="23.8" y="618.9" font-size="8.67" fill="#222" textLength="78.3" lengthAdjust="spacingAndGlyphs">Complement cascade</text>
<circle cx="8.9" cy="634.0" r="7.2" fill="#ff0000"/>
<text x="23.8" y="636.5" font-size="8.67" fill="#222" textLength="45.9" lengthAdjust="spacingAndGlyphs">Lung fibrosis</text>
<circle cx="8.9" cy="665.0" r="8.4" fill="#ffa200"/>
<text x="23.8" y="667.5" font-size="8.67" fill="#222" textLength="80.1" lengthAdjust="spacingAndGlyphs">Synthesis of bile acids</text>
<circle cx="8.9" cy="683.9" r="8.4" fill="#ffa200"/>
<text x="23.8" y="686.4" font-size="8.67" fill="#222" textLength="106.7" lengthAdjust="spacingAndGlyphs">Steroid hormone biosynthesis</text>
<circle cx="8.9" cy="702.3" r="8.9" fill="#ff0000"/>
<text x="23.8" y="704.8" font-size="8.67" fill="#222" textLength="67.1" lengthAdjust="spacingAndGlyphs">Serine metabolism</text>
<circle cx="8.9" cy="721.6" r="8.7" fill="#ffa200"/>
<text x="23.8" y="724.1" font-size="8.67" fill="#222" textLength="68.9" lengthAdjust="spacingAndGlyphs">Retinol metabolism</text>
<circle cx="8.9" cy="740.7" r="8.7" fill="#ff8c00"/>
<text x="23.8" y="743.2" font-size="8.67" fill="#222" textLength="81.9" lengthAdjust="spacingAndGlyphs">Leptin-insulin signaling</text>
<circle cx="8.9" cy="760.3" r="8.9" fill="#ff0000"/>
<text x="23.8" y="762.8" font-size="8.67" fill="#222" textLength="78.8" lengthAdjust="spacingAndGlyphs">Fatty acid metabolism</text>
<text x="192.3" y="301.5" font-size="10.20" fill="#222" textLength="101.8" lengthAdjust="spacingAndGlyphs">Immune cell signatures</text>
<text x="192.3" y="535.4" font-size="10.20" fill="#222" textLength="129.3" lengthAdjust="spacingAndGlyphs">Spliceosome and metabolism</text>
<text x="192.3" y="546.7" font-size="10.20" fill="#222" textLength="63.8" lengthAdjust="spacingAndGlyphs">of amino acids</text>
<text x="192.3" y="709.2" font-size="10.20" fill="#222" textLength="58.7" lengthAdjust="spacingAndGlyphs">T cell module</text>
<circle cx="177.9" cy="317.2" r="8.2" fill="#ff0000"/>
<text x="192.3" y="319.7" font-size="8.67" fill="#222" textLength="89.6" lengthAdjust="spacingAndGlyphs">Enriched in dentritic cells</text>
<circle cx="177.9" cy="334.3" r="9.3" fill="#ff0000"/>
<text x="192.3" y="336.8" font-size="8.67" fill="#222" textLength="81.9" lengthAdjust="spacingAndGlyphs">Enriched in monocytes</text>
<circle cx="177.9" cy="352.9" r="7.3" fill="#ffa200"/>
<text x="192.3" y="355.4" font-size="8.67" fill="#222" textLength="80.6" lengthAdjust="spacingAndGlyphs">Macrophage signature</text>
<circle cx="177.9" cy="370.9" r="8.2" fill="#ff0000"/>
<text x="192.3" y="373.4" font-size="8.67" fill="#222" textLength="72.5" lengthAdjust="spacingAndGlyphs">Neutrophil signature</text>
<circle cx="177.9" cy="386.7" r="6.7" fill="#ffa200"/>
<text x="192.3" y="389.2" font-size="8.67" fill="#222" textLength="40.8" lengthAdjust="spacingAndGlyphs">MAST cells</text>
<circle cx="177.9" cy="400.7" r="7.8" fill="#ff0000"/>
<text x="192.3" y="403.2" font-size="8.67" fill="#222" textLength="104.9" lengthAdjust="spacingAndGlyphs">FC epsilon receptor signaling</text>
<circle cx="177.9" cy="416.5" r="8.2" fill="#ff0000"/>
<text x="192.3" y="419.0" font-size="8.67" fill="#222" textLength="113.0" lengthAdjust="spacingAndGlyphs">FCGR dependent phagocytosis</text>
<circle cx="177.9" cy="432.3" r="8.2" fill="#ff0000"/>
<text x="192.3" y="434.8" font-size="8.67" fill="#222" textLength="122.0" lengthAdjust="spacingAndGlyphs">FCERI-mediated NF-κB activation</text>
<circle cx="177.9" cy="449.0" r="8.8" fill="#ff0000"/>
<text x="192.3" y="451.5" font-size="8.67" fill="#222" textLength="122.0" lengthAdjust="spacingAndGlyphs">FCERI-mediated MAPK activation</text>
<circle cx="177.9" cy="466.1" r="8.8" fill="#ff0000"/>
<text x="192.3" y="468.6" font-size="8.67" fill="#222" textLength="125.6" lengthAdjust="spacingAndGlyphs">FCGR3A-mediated IL-10 synthesis</text>
<circle cx="177.9" cy="484.4" r="9.3" fill="#ff0000"/>
<text x="192.3" y="486.9" font-size="8.67" fill="#222" textLength="113.9" lengthAdjust="spacingAndGlyphs">CD22-mediated BCR regulation</text>
<circle cx="177.9" cy="501.2" r="8.2" fill="#ff0000"/>
<text x="192.3" y="503.7" font-size="8.67" fill="#222" textLength="116.2" lengthAdjust="spacingAndGlyphs">Enriched in antigen presentation</text>
<circle cx="177.9" cy="517.3" r="7.3" fill="#ff0000"/>
<text x="192.3" y="519.8" font-size="8.67" fill="#222" textLength="122.0" lengthAdjust="spacingAndGlyphs">Lipid antigen presentation by CD1</text>
<circle cx="177.9" cy="556.0" r="9.0" fill="#0a0af2"/>
<text x="192.3" y="558.5" font-size="8.67" fill="#222" textLength="46.4" lengthAdjust="spacingAndGlyphs">Spliceosome</text>
<circle cx="177.9" cy="574.0" r="9.3" fill="#0a0af2"/>
<text x="192.3" y="576.5" font-size="8.67" fill="#222" textLength="58.1" lengthAdjust="spacingAndGlyphs">RNA processing</text>
<circle cx="177.9" cy="592.7" r="9.3" fill="#0a0af2"/>
<text x="192.3" y="595.2" font-size="8.67" fill="#222" textLength="108.5" lengthAdjust="spacingAndGlyphs">Cytoplasmic ribosomal protein</text>
<circle cx="177.9" cy="611.2" r="8.8" fill="#10f4ff"/>
<text x="192.3" y="613.7" font-size="8.67" fill="#222" textLength="56.7" lengthAdjust="spacingAndGlyphs">Circadian rythm</text>
<circle cx="177.9" cy="629.2" r="8.7" fill="#0a0af2"/>
<text x="192.3" y="631.7" font-size="8.67" fill="#222" textLength="108.1" lengthAdjust="spacingAndGlyphs">Selenoamino acid metabolism</text>
<circle cx="177.9" cy="647.3" r="8.7" fill="#0a0af2"/>
<text x="192.3" y="649.8" font-size="8.67" fill="#222" textLength="69.8" lengthAdjust="spacingAndGlyphs">Metabolism of RNA</text>
<circle cx="177.9" cy="666.0" r="8.7" fill="#0a0af2"/>
<text x="192.3" y="668.5" font-size="8.67" fill="#222" textLength="74.3" lengthAdjust="spacingAndGlyphs">Amino acid transport</text>
<circle cx="177.9" cy="684.3" r="8.7" fill="#3cdcff"/>
<text x="192.3" y="686.8" font-size="8.67" fill="#222" textLength="57.6" lengthAdjust="spacingAndGlyphs">Oxidative stress</text>
<circle cx="177.9" cy="719.8" r="7.4" fill="#10f4ff"/>
<text x="192.3" y="722.3" font-size="8.67" fill="#222" textLength="55.7" lengthAdjust="spacingAndGlyphs">T cell activation</text>
<circle cx="177.9" cy="735.2" r="7.4" fill="#10f4ff"/>
<text x="192.3" y="737.7" font-size="8.67" fill="#222" textLength="69.9" lengthAdjust="spacingAndGlyphs">T cell differentiation</text>
<circle cx="177.9" cy="752.6" r="8.7" fill="#ff6a00"/>
<text x="192.3" y="755.1" font-size="8.67" fill="#222" textLength="78.9" lengthAdjust="spacingAndGlyphs">CD8 T cell exhaustion</text>
<circle cx="177.9" cy="770.9" r="8.7" fill="#ff5a00"/>
<text x="192.3" y="773.4" font-size="8.67" fill="#222" textLength="52.7" lengthAdjust="spacingAndGlyphs">PD-1 signaling</text>
<circle cx="177.9" cy="788.1" r="8.3" fill="#ff6a00"/>
<text x="192.3" y="790.6" font-size="8.67" fill="#222" textLength="104.6" lengthAdjust="spacingAndGlyphs">Altered T and B cell signaling</text>
<circle cx="177.9" cy="805.4" r="7.8" fill="#ff8a00"/>
<text x="192.3" y="804.3" font-size="8.67" fill="#222" textLength="86.1" lengthAdjust="spacingAndGlyphs">Cytotoxic T lymphocyte-</text>
<text x="192.3" y="812.1" font-size="8.67" fill="#222" textLength="70.2" lengthAdjust="spacingAndGlyphs">mediated apoptosis</text>
<text x="11.0" y="782.5" font-size="7.60" fill="#222">Pathway NES</text>
<circle cx="16.4" cy="792.7" r="5.6" fill="none" stroke="#222" stroke-width="0.8"/>
<text x="16.4" y="809.1" font-size="7.60" fill="#222" text-anchor="middle">1.64</text>
<circle cx="33.9" cy="792.7" r="5.8" fill="none" stroke="#222" stroke-width="0.8"/>
<text x="33.9" y="809.1" font-size="7.60" fill="#222" text-anchor="middle">1.81</text>
<circle cx="51.6" cy="792.7" r="6.1" fill="none" stroke="#222" stroke-width="0.8"/>
<text x="51.6" y="809.1" font-size="7.60" fill="#222" text-anchor="middle">2.03</text>
<circle cx="70.5" cy="792.7" r="6.5" fill="none" stroke="#222" stroke-width="0.8"/>
<text x="70.5" y="809.1" font-size="7.60" fill="#222" text-anchor="middle">2.50</text>
<circle cx="89.9" cy="792.7" r="8.0" fill="none" stroke="#222" stroke-width="0.8"/>
<text x="89.9" y="809.1" font-size="7.60" fill="#222" text-anchor="middle">3.53</text>
<defs><linearGradient id="gb" x1="0" x2="1"><stop offset="0" stop-color="#22eeff"/><stop offset="0.5" stop-color="#4a90f0"/><stop offset="1" stop-color="#1a1aee"/></linearGradient><linearGradient id="go" x1="0" x2="1"><stop offset="0" stop-color="#ffa000"/><stop offset="0.5" stop-color="#ff6a10"/><stop offset="1" stop-color="#ff2a10"/></linearGradient></defs>
<rect x="11" y="826.5" width="57.4" height="7" fill="url(#gb)"/>
<line x1="20.6" y1="826.5" x2="20.6" y2="833.5" stroke="#fff" stroke-width="0.5" stroke-dasharray="1.2,1"/>
<text x="20.6" y="841.9" font-size="7.80" fill="#222" text-anchor="middle">2</text>
<line x1="32.7" y1="826.5" x2="32.7" y2="833.5" stroke="#fff" stroke-width="0.5" stroke-dasharray="1.2,1"/>
<text x="32.7" y="841.9" font-size="7.80" fill="#222" text-anchor="middle">3</text>
<line x1="44.4" y1="826.5" x2="44.4" y2="833.5" stroke="#fff" stroke-width="0.5" stroke-dasharray="1.2,1"/>
<text x="44.4" y="841.9" font-size="7.80" fill="#222" text-anchor="middle">4</text>
<line x1="56.5" y1="826.5" x2="56.5" y2="833.5" stroke="#fff" stroke-width="0.5" stroke-dasharray="1.2,1"/>
<text x="56.5" y="841.9" font-size="7.80" fill="#222" text-anchor="middle">5</text>
<line x1="66.1" y1="826.5" x2="66.1" y2="833.5" stroke="#fff" stroke-width="0.5" stroke-dasharray="1.2,1"/>
<text x="66.1" y="841.9" font-size="7.80" fill="#222" text-anchor="middle">6</text>
<rect x="94.6" y="826.5" width="57.7" height="7" fill="url(#go)"/>
<line x1="97.6" y1="826.5" x2="97.6" y2="833.5" stroke="#fff" stroke-width="0.5" stroke-dasharray="1.2,1"/>
<text x="97.6" y="841.9" font-size="7.80" fill="#222" text-anchor="middle">2</text>
<line x1="108.6" y1="826.5" x2="108.6" y2="833.5" stroke="#fff" stroke-width="0.5" stroke-dasharray="1.2,1"/>
<text x="108.6" y="841.9" font-size="7.80" fill="#222" text-anchor="middle">3</text>
<line x1="119.6" y1="826.5" x2="119.6" y2="833.5" stroke="#fff" stroke-width="0.5" stroke-dasharray="1.2,1"/>
<text x="119.6" y="841.9" font-size="7.80" fill="#222" text-anchor="middle">4</text>
<line x1="130.1" y1="826.5" x2="130.1" y2="833.5" stroke="#fff" stroke-width="0.5" stroke-dasharray="1.2,1"/>
<text x="130.1" y="841.9" font-size="7.80" fill="#222" text-anchor="middle">5</text>
<line x1="140.9" y1="826.5" x2="140.9" y2="833.5" stroke="#fff" stroke-width="0.5" stroke-dasharray="1.2,1"/>
<text x="140.9" y="841.9" font-size="7.80" fill="#222" text-anchor="middle">6</text>
<text x="16.4" y="822.8" font-size="7.8" fill="#222">−log<tspan font-size="5.4" dy="1.8">10</tspan><tspan dy="-1.8">(FDR </tspan><tspan font-style="italic">q</tspan>)</text>
<text x="100" y="822.8" font-size="7.8" fill="#222">−log<tspan font-size="5.4" dy="1.8">10</tspan><tspan dy="-1.8">(FDR </tspan><tspan font-style="italic">q</tspan>)</text>
<text x="287.4" y="8.8" font-size="17.00" fill="#000" font-weight="bold" stroke="#000" stroke-width="0.35">c</text>
<rect x="299.1" y="9.2" width="24.9" height="5.6" fill="#1e5cf5"/><rect x="326.1" y="9.2" width="23.5" height="5.6" fill="#d8280c"/>
<path fill="#eef0f3" d="M299.10 16.70h1.37v6.03h-1.37zM305.65 22.67h1.37v6.03h-1.37zM313.52 34.60h1.37v6.03h-1.37zM313.52 52.50h1.37v6.03h-1.37zM301.72 58.47h1.37v6.03h-1.37zM310.89 58.47h1.37v6.03h-1.37zM320.07 70.40h1.37v6.03h-1.37zM304.34 76.37h1.37v6.03h-1.37zM304.34 82.33h1.37v6.03h-1.37zM308.27 82.33h1.37v6.03h-1.37zM313.52 88.30h1.37v6.03h-1.37z"/><path fill="#f0d1d1" d="M300.41 16.70h1.37v6.03h-1.37zM305.65 16.70h1.37v6.03h-1.37zM310.89 16.70h1.37v6.03h-1.37zM316.14 16.70h1.37v6.03h-1.37zM321.38 16.70h1.37v6.03h-1.37zM318.76 22.67h1.37v6.03h-1.37zM306.96 28.63h1.37v6.03h-1.37zM322.69 28.63h1.37v6.03h-1.37zM316.14 34.60h1.37v6.03h-1.37zM300.41 40.57h1.37v6.03h-1.37zM306.96 40.57h1.37v6.03h-1.37zM316.14 40.57h1.37v6.03h-1.37zM321.38 40.57h1.37v6.03h-1.37zM301.72 46.53h1.37v6.03h-1.37zM308.27 46.53h1.37v6.03h-1.37zM316.14 46.53h1.37v6.03h-1.37zM303.03 52.50h1.37v6.03h-1.37zM306.96 52.50h1.37v6.03h-1.37zM321.38 58.47h1.37v6.03h-1.37zM301.72 64.43h1.37v6.03h-1.37zM306.96 64.43h1.37v6.03h-1.37zM321.38 64.43h1.37v6.03h-1.37zM306.96 70.40h1.37v6.03h-1.37zM309.58 70.40h1.37v6.03h-1.37zM300.41 76.37h1.37v6.03h-1.37zM301.72 76.37h1.37v6.03h-1.37zM300.41 82.33h1.37v6.03h-1.37zM318.76 88.30h1.37v6.03h-1.37zM321.38 88.30h1.37v6.03h-1.37zM303.03 94.27h1.37v6.03h-1.37zM306.96 94.27h1.37v6.03h-1.37zM310.89 94.27h1.37v6.03h-1.37zM312.21 100.23h1.37v6.03h-1.37zM317.45 100.23h1.37v6.03h-1.37z"/><path fill="#f4efef" d="M301.72 16.70h1.37v6.03h-1.37zM313.52 22.67h1.37v6.03h-1.37zM317.45 22.67h1.37v6.03h-1.37zM299.10 28.63h1.37v6.03h-1.37zM303.03 28.63h1.37v6.03h-1.37zM305.65 28.63h1.37v6.03h-1.37zM308.27 28.63h1.37v6.03h-1.37zM317.45 28.63h1.37v6.03h-1.37zM320.07 28.63h1.37v6.03h-1.37zM308.27 34.60h1.37v6.03h-1.37zM310.89 34.60h1.37v6.03h-1.37zM312.21 34.60h1.37v6.03h-1.37zM317.45 34.60h1.37v6.03h-1.37zM320.07 34.60h1.37v6.03h-1.37zM304.34 40.57h1.37v6.03h-1.37zM304.34 46.53h1.37v6.03h-1.37zM299.10 58.47h1.37v6.03h-1.37zM303.03 58.47h1.37v6.03h-1.37zM320.07 58.47h1.37v6.03h-1.37zM304.34 64.43h1.37v6.03h-1.37zM312.21 70.40h1.37v6.03h-1.37zM301.72 82.33h1.37v6.03h-1.37zM299.10 88.30h1.37v6.03h-1.37zM314.83 88.30h1.37v6.03h-1.37zM317.45 88.30h1.37v6.03h-1.37z"/><path fill="#f3e9e9" d="M303.03 16.70h1.37v6.03h-1.37zM308.27 16.70h1.37v6.03h-1.37zM317.45 16.70h1.37v6.03h-1.37zM299.10 22.67h1.37v6.03h-1.37zM308.27 22.67h1.37v6.03h-1.37zM320.07 22.67h1.37v6.03h-1.37zM301.72 28.63h1.37v6.03h-1.37zM312.21 28.63h1.37v6.03h-1.37zM321.38 28.63h1.37v6.03h-1.37zM299.10 34.60h1.37v6.03h-1.37zM314.83 34.60h1.37v6.03h-1.37zM313.52 40.57h1.37v6.03h-1.37zM320.07 40.57h1.37v6.03h-1.37zM301.72 52.50h1.37v6.03h-1.37zM305.65 52.50h1.37v6.03h-1.37zM314.83 52.50h1.37v6.03h-1.37zM312.21 58.47h1.37v6.03h-1.37zM300.41 70.40h1.37v6.03h-1.37zM318.76 70.40h1.37v6.03h-1.37zM313.52 76.37h1.37v6.03h-1.37zM312.21 82.33h1.37v6.03h-1.37zM313.52 82.33h1.37v6.03h-1.37zM320.07 82.33h1.37v6.03h-1.37zM308.27 88.30h1.37v6.03h-1.37zM313.52 94.27h1.37v6.03h-1.37zM316.14 94.27h1.37v6.03h-1.37zM313.52 100.23h1.37v6.03h-1.37z"/><path fill="#e1e6ef" d="M304.34 16.70h1.37v6.03h-1.37zM304.34 28.63h1.37v6.03h-1.37zM313.52 28.63h1.37v6.03h-1.37zM304.34 52.50h1.37v6.03h-1.37zM305.65 58.47h1.37v6.03h-1.37zM313.52 70.40h1.37v6.03h-1.37zM314.83 70.40h1.37v6.03h-1.37z"/><path fill="#efcbcb" d="M306.96 16.70h1.37v6.03h-1.37zM306.96 22.67h1.37v6.03h-1.37zM309.58 22.67h1.37v6.03h-1.37zM322.69 22.67h1.37v6.03h-1.37zM310.89 40.57h1.37v6.03h-1.37zM303.03 46.53h1.37v6.03h-1.37zM318.76 46.53h1.37v6.03h-1.37zM320.07 46.53h1.37v6.03h-1.37zM321.38 46.53h1.37v6.03h-1.37zM299.10 52.50h1.37v6.03h-1.37zM318.76 52.50h1.37v6.03h-1.37zM322.69 58.47h1.37v6.03h-1.37zM303.03 64.43h1.37v6.03h-1.37zM310.89 64.43h1.37v6.03h-1.37zM318.76 64.43h1.37v6.03h-1.37zM303.03 76.37h1.37v6.03h-1.37zM308.27 76.37h1.37v6.03h-1.37zM310.89 76.37h1.37v6.03h-1.37zM312.21 76.37h1.37v6.03h-1.37zM318.76 76.37h1.37v6.03h-1.37zM318.76 82.33h1.37v6.03h-1.37zM306.96 88.30h1.37v6.03h-1.37zM308.27 94.27h1.37v6.03h-1.37zM321.38 94.27h1.37v6.03h-1.37zM300.41 100.23h1.37v6.03h-1.37zM314.83 100.23h1.37v6.03h-1.37zM320.07 100.23h1.37v6.03h-1.37z"/><path fill="#eec0c0" d="M309.58 16.70h1.37v6.03h-1.37zM322.69 34.60h1.37v6.03h-1.37zM306.96 46.53h1.37v6.03h-1.37zM312.21 52.50h1.37v6.03h-1.37zM316.14 64.43h1.37v6.03h-1.37zM316.14 76.37h1.37v6.03h-1.37zM303.03 100.23h1.37v6.03h-1.37zM318.76 100.23h1.37v6.03h-1.37zM321.38 100.23h1.37v6.03h-1.37z"/><path fill="#f2dddd" d="M312.21 16.70h1.37v6.03h-1.37zM318.76 16.70h1.37v6.03h-1.37zM300.41 22.67h1.37v6.03h-1.37zM310.89 22.67h1.37v6.03h-1.37zM316.14 22.67h1.37v6.03h-1.37zM310.89 28.63h1.37v6.03h-1.37zM316.14 28.63h1.37v6.03h-1.37zM318.76 28.63h1.37v6.03h-1.37zM300.41 34.60h1.37v6.03h-1.37zM306.96 34.60h1.37v6.03h-1.37zM318.76 34.60h1.37v6.03h-1.37zM308.27 40.57h1.37v6.03h-1.37zM313.52 46.53h1.37v6.03h-1.37zM320.07 52.50h1.37v6.03h-1.37zM321.38 52.50h1.37v6.03h-1.37zM306.96 58.47h1.37v6.03h-1.37zM305.65 64.43h1.37v6.03h-1.37zM313.52 64.43h1.37v6.03h-1.37zM310.89 70.40h1.37v6.03h-1.37zM322.69 70.40h1.37v6.03h-1.37zM320.07 76.37h1.37v6.03h-1.37zM310.89 82.33h1.37v6.03h-1.37zM316.14 82.33h1.37v6.03h-1.37zM301.72 88.30h1.37v6.03h-1.37zM309.58 88.30h1.37v6.03h-1.37zM310.89 88.30h1.37v6.03h-1.37zM320.07 94.27h1.37v6.03h-1.37zM301.72 100.23h1.37v6.03h-1.37zM304.34 100.23h1.37v6.03h-1.37zM308.27 100.23h1.37v6.03h-1.37z"/><path fill="#f5f5f5" d="M313.52 16.70h1.37v6.03h-1.37zM314.83 16.70h1.37v6.03h-1.37zM320.07 16.70h1.37v6.03h-1.37zM314.83 22.67h1.37v6.03h-1.37zM314.83 28.63h1.37v6.03h-1.37zM301.72 34.60h1.37v6.03h-1.37zM314.83 58.47h1.37v6.03h-1.37zM299.10 70.40h1.37v6.03h-1.37zM301.72 70.40h1.37v6.03h-1.37zM305.65 70.40h1.37v6.03h-1.37zM316.14 70.40h1.37v6.03h-1.37zM317.45 70.40h1.37v6.03h-1.37zM303.03 82.33h1.37v6.03h-1.37zM304.34 94.27h1.37v6.03h-1.37z"/><path fill="#edbaba" d="M322.69 16.70h1.37v6.03h-1.37zM309.58 34.60h1.37v6.03h-1.37zM322.69 40.57h1.37v6.03h-1.37zM300.41 46.53h1.37v6.03h-1.37zM322.69 46.53h1.37v6.03h-1.37zM309.58 52.50h1.37v6.03h-1.37zM309.58 64.43h1.37v6.03h-1.37zM322.69 64.43h1.37v6.03h-1.37zM306.96 76.37h1.37v6.03h-1.37zM309.58 82.33h1.37v6.03h-1.37zM309.58 94.27h1.37v6.03h-1.37zM310.89 100.23h1.37v6.03h-1.37z"/><path fill="#f3e3e3" d="M301.72 22.67h1.37v6.03h-1.37zM303.03 22.67h1.37v6.03h-1.37zM312.21 22.67h1.37v6.03h-1.37zM300.41 28.63h1.37v6.03h-1.37zM303.03 34.60h1.37v6.03h-1.37zM305.65 34.60h1.37v6.03h-1.37zM321.38 34.60h1.37v6.03h-1.37zM305.65 40.57h1.37v6.03h-1.37zM312.21 40.57h1.37v6.03h-1.37zM314.83 40.57h1.37v6.03h-1.37zM317.45 40.57h1.37v6.03h-1.37zM308.27 52.50h1.37v6.03h-1.37zM310.89 52.50h1.37v6.03h-1.37zM317.45 52.50h1.37v6.03h-1.37zM300.41 58.47h1.37v6.03h-1.37zM318.76 58.47h1.37v6.03h-1.37zM314.83 64.43h1.37v6.03h-1.37zM317.45 64.43h1.37v6.03h-1.37zM320.07 64.43h1.37v6.03h-1.37zM299.10 82.33h1.37v6.03h-1.37zM317.45 82.33h1.37v6.03h-1.37zM321.38 82.33h1.37v6.03h-1.37zM300.41 88.30h1.37v6.03h-1.37zM305.65 88.30h1.37v6.03h-1.37zM312.21 88.30h1.37v6.03h-1.37zM299.10 94.27h1.37v6.03h-1.37zM301.72 94.27h1.37v6.03h-1.37zM305.65 94.27h1.37v6.03h-1.37zM314.83 94.27h1.37v6.03h-1.37zM317.45 94.27h1.37v6.03h-1.37z"/><path fill="#e8ebf1" d="M304.34 22.67h1.37v6.03h-1.37zM308.27 58.47h1.37v6.03h-1.37zM303.03 70.40h1.37v6.03h-1.37zM308.27 70.40h1.37v6.03h-1.37zM304.34 88.30h1.37v6.03h-1.37z"/><path fill="#f1d7d7" d="M321.38 22.67h1.37v6.03h-1.37zM299.10 40.57h1.37v6.03h-1.37zM301.72 40.57h1.37v6.03h-1.37zM299.10 46.53h1.37v6.03h-1.37zM310.89 46.53h1.37v6.03h-1.37zM312.21 46.53h1.37v6.03h-1.37zM317.45 46.53h1.37v6.03h-1.37zM316.14 52.50h1.37v6.03h-1.37zM309.58 58.47h1.37v6.03h-1.37zM316.14 58.47h1.37v6.03h-1.37zM299.10 64.43h1.37v6.03h-1.37zM300.41 64.43h1.37v6.03h-1.37zM308.27 64.43h1.37v6.03h-1.37zM321.38 70.40h1.37v6.03h-1.37zM299.10 76.37h1.37v6.03h-1.37zM305.65 76.37h1.37v6.03h-1.37zM317.45 76.37h1.37v6.03h-1.37zM305.65 82.33h1.37v6.03h-1.37zM306.96 82.33h1.37v6.03h-1.37zM303.03 88.30h1.37v6.03h-1.37zM316.14 88.30h1.37v6.03h-1.37zM320.07 88.30h1.37v6.03h-1.37zM300.41 94.27h1.37v6.03h-1.37zM312.21 94.27h1.37v6.03h-1.37zM299.10 100.23h1.37v6.03h-1.37zM305.65 100.23h1.37v6.03h-1.37z"/><path fill="#eec6c6" d="M309.58 28.63h1.37v6.03h-1.37zM303.03 40.57h1.37v6.03h-1.37zM309.58 40.57h1.37v6.03h-1.37zM318.76 40.57h1.37v6.03h-1.37zM305.65 46.53h1.37v6.03h-1.37zM300.41 52.50h1.37v6.03h-1.37zM321.38 76.37h1.37v6.03h-1.37zM322.69 82.33h1.37v6.03h-1.37zM322.69 88.30h1.37v6.03h-1.37zM318.76 94.27h1.37v6.03h-1.37zM316.14 100.23h1.37v6.03h-1.37z"/><path fill="#dbe1ee" d="M304.34 34.60h1.37v6.03h-1.37zM313.52 58.47h1.37v6.03h-1.37zM317.45 58.47h1.37v6.03h-1.37z"/><path fill="#ecb4b4" d="M309.58 46.53h1.37v6.03h-1.37zM309.58 76.37h1.37v6.03h-1.37zM322.69 94.27h1.37v6.03h-1.37zM309.58 100.23h1.37v6.03h-1.37z"/><path fill="#c0cde6" d="M314.83 46.53h1.37v6.03h-1.37z"/><path fill="#eaa8a8" d="M322.69 52.50h1.37v6.03h-1.37z"/><path fill="#c7d2e8" d="M304.34 58.47h1.37v6.03h-1.37z"/><path fill="#d4dcec" d="M312.21 64.43h1.37v6.03h-1.37zM304.34 70.40h1.37v6.03h-1.37z"/><path fill="#adbee0" d="M314.83 76.37h1.37v6.03h-1.37zM314.83 82.33h1.37v6.03h-1.37z"/><path fill="#e99c9c" d="M322.69 76.37h1.37v6.03h-1.37z"/><path fill="#ebaeae" d="M306.96 100.23h1.37v6.03h-1.37zM322.69 100.23h1.37v6.03h-1.37z"/>
<path fill="#eef0f3" d="M326.10 16.70h1.30v6.03h-1.30zM338.47 16.70h1.30v6.03h-1.30zM347.13 16.70h1.30v6.03h-1.30zM348.36 16.70h1.30v6.03h-1.30zM327.34 22.67h1.30v6.03h-1.30zM331.05 22.67h1.30v6.03h-1.30zM337.23 22.67h1.30v6.03h-1.30zM334.76 28.63h1.30v6.03h-1.30zM339.71 28.63h1.30v6.03h-1.30zM345.89 28.63h1.30v6.03h-1.30zM339.71 34.60h1.30v6.03h-1.30zM340.94 34.60h1.30v6.03h-1.30zM348.36 34.60h1.30v6.03h-1.30zM326.10 40.57h1.30v6.03h-1.30zM327.34 40.57h1.30v6.03h-1.30zM332.28 40.57h1.30v6.03h-1.30zM338.47 40.57h1.30v6.03h-1.30zM345.89 40.57h1.30v6.03h-1.30zM347.13 40.57h1.30v6.03h-1.30zM342.18 46.53h1.30v6.03h-1.30zM327.34 52.50h1.30v6.03h-1.30zM328.57 52.50h1.30v6.03h-1.30zM331.05 52.50h1.30v6.03h-1.30zM332.28 52.50h1.30v6.03h-1.30zM338.47 52.50h1.30v6.03h-1.30zM345.89 52.50h1.30v6.03h-1.30zM329.81 58.47h1.30v6.03h-1.30zM339.71 58.47h1.30v6.03h-1.30zM342.18 58.47h1.30v6.03h-1.30zM327.34 64.43h1.30v6.03h-1.30zM328.57 64.43h1.30v6.03h-1.30zM347.13 64.43h1.30v6.03h-1.30zM328.57 70.40h1.30v6.03h-1.30zM344.65 76.37h1.30v6.03h-1.30zM345.89 76.37h1.30v6.03h-1.30zM345.89 82.33h1.30v6.03h-1.30zM326.10 88.30h1.30v6.03h-1.30zM328.57 94.27h1.30v6.03h-1.30zM338.47 94.27h1.30v6.03h-1.30zM344.65 94.27h1.30v6.03h-1.30zM347.13 94.27h1.30v6.03h-1.30zM328.57 100.23h1.30v6.03h-1.30zM329.81 100.23h1.30v6.03h-1.30zM331.05 100.23h1.30v6.03h-1.30zM338.47 100.23h1.30v6.03h-1.30zM347.13 100.23h1.30v6.03h-1.30z"/><path fill="#e1e6ef" d="M327.34 16.70h1.30v6.03h-1.30zM329.81 16.70h1.30v6.03h-1.30zM337.23 16.70h1.30v6.03h-1.30zM342.18 16.70h1.30v6.03h-1.30zM328.57 22.67h1.30v6.03h-1.30zM332.28 28.63h1.30v6.03h-1.30zM340.94 28.63h1.30v6.03h-1.30zM328.57 34.60h1.30v6.03h-1.30zM342.18 34.60h1.30v6.03h-1.30zM344.65 40.57h1.30v6.03h-1.30zM348.36 52.50h1.30v6.03h-1.30zM326.10 70.40h1.30v6.03h-1.30zM329.81 76.37h1.30v6.03h-1.30zM332.28 76.37h1.30v6.03h-1.30zM337.23 76.37h1.30v6.03h-1.30zM339.71 76.37h1.30v6.03h-1.30zM348.36 76.37h1.30v6.03h-1.30zM332.28 82.33h1.30v6.03h-1.30zM342.18 82.33h1.30v6.03h-1.30zM335.99 94.27h1.30v6.03h-1.30zM327.34 100.23h1.30v6.03h-1.30zM337.23 100.23h1.30v6.03h-1.30zM342.18 100.23h1.30v6.03h-1.30zM343.42 100.23h1.30v6.03h-1.30z"/><path fill="#f5f5f5" d="M328.57 16.70h1.30v6.03h-1.30zM332.28 16.70h1.30v6.03h-1.30zM335.99 16.70h1.30v6.03h-1.30zM344.65 16.70h1.30v6.03h-1.30zM328.57 28.63h1.30v6.03h-1.30zM333.52 28.63h1.30v6.03h-1.30zM342.18 28.63h1.30v6.03h-1.30zM329.81 34.60h1.30v6.03h-1.30zM335.99 34.60h1.30v6.03h-1.30zM344.65 34.60h1.30v6.03h-1.30zM348.36 40.57h1.30v6.03h-1.30zM327.34 46.53h1.30v6.03h-1.30zM328.57 46.53h1.30v6.03h-1.30zM329.81 46.53h1.30v6.03h-1.30zM332.28 46.53h1.30v6.03h-1.30zM333.52 46.53h1.30v6.03h-1.30zM334.76 46.53h1.30v6.03h-1.30zM340.94 46.53h1.30v6.03h-1.30zM329.81 52.50h1.30v6.03h-1.30zM333.52 52.50h1.30v6.03h-1.30zM340.94 52.50h1.30v6.03h-1.30zM347.13 52.50h1.30v6.03h-1.30zM337.23 58.47h1.30v6.03h-1.30zM340.94 58.47h1.30v6.03h-1.30zM344.65 58.47h1.30v6.03h-1.30zM345.89 58.47h1.30v6.03h-1.30zM348.36 58.47h1.30v6.03h-1.30zM326.10 64.43h1.30v6.03h-1.30zM329.81 64.43h1.30v6.03h-1.30zM331.05 64.43h1.30v6.03h-1.30zM342.18 64.43h1.30v6.03h-1.30zM337.23 70.40h1.30v6.03h-1.30zM339.71 70.40h1.30v6.03h-1.30zM347.13 70.40h1.30v6.03h-1.30zM328.57 82.33h1.30v6.03h-1.30zM331.05 82.33h1.30v6.03h-1.30zM334.76 82.33h1.30v6.03h-1.30zM337.23 82.33h1.30v6.03h-1.30zM338.47 82.33h1.30v6.03h-1.30zM344.65 82.33h1.30v6.03h-1.30zM334.76 88.30h1.30v6.03h-1.30z"/><path fill="#f4efef" d="M331.05 16.70h1.30v6.03h-1.30zM343.42 16.70h1.30v6.03h-1.30zM329.81 22.67h1.30v6.03h-1.30zM335.99 22.67h1.30v6.03h-1.30zM339.71 22.67h1.30v6.03h-1.30zM344.65 22.67h1.30v6.03h-1.30zM337.23 34.60h1.30v6.03h-1.30zM338.47 34.60h1.30v6.03h-1.30zM328.57 40.57h1.30v6.03h-1.30zM342.18 40.57h1.30v6.03h-1.30zM343.42 40.57h1.30v6.03h-1.30zM345.89 46.53h1.30v6.03h-1.30zM337.23 52.50h1.30v6.03h-1.30zM342.18 52.50h1.30v6.03h-1.30zM343.42 52.50h1.30v6.03h-1.30zM344.65 52.50h1.30v6.03h-1.30zM337.23 64.43h1.30v6.03h-1.30zM338.47 64.43h1.30v6.03h-1.30zM331.05 70.40h1.30v6.03h-1.30zM332.28 70.40h1.30v6.03h-1.30zM342.18 70.40h1.30v6.03h-1.30zM343.42 76.37h1.30v6.03h-1.30zM340.94 82.33h1.30v6.03h-1.30zM343.42 82.33h1.30v6.03h-1.30zM347.13 82.33h1.30v6.03h-1.30zM328.57 88.30h1.30v6.03h-1.30zM335.99 88.30h1.30v6.03h-1.30zM342.18 88.30h1.30v6.03h-1.30zM345.89 88.30h1.30v6.03h-1.30zM348.36 88.30h1.30v6.03h-1.30zM333.52 94.27h1.30v6.03h-1.30zM334.76 100.23h1.30v6.03h-1.30zM335.99 100.23h1.30v6.03h-1.30z"/><path fill="#a6b9de" d="M333.52 16.70h1.30v6.03h-1.30z"/><path fill="#b3c3e2" d="M334.76 16.70h1.30v6.03h-1.30zM333.52 40.57h1.30v6.03h-1.30z"/><path fill="#ced7ea" d="M339.71 16.70h1.30v6.03h-1.30zM347.13 76.37h1.30v6.03h-1.30zM327.34 82.33h1.30v6.03h-1.30zM326.10 94.27h1.30v6.03h-1.30zM339.71 100.23h1.30v6.03h-1.30zM348.36 100.23h1.30v6.03h-1.30z"/><path fill="#e8ebf1" d="M340.94 16.70h1.30v6.03h-1.30zM326.10 22.67h1.30v6.03h-1.30zM332.28 22.67h1.30v6.03h-1.30zM348.36 22.67h1.30v6.03h-1.30zM326.10 28.63h1.30v6.03h-1.30zM331.05 28.63h1.30v6.03h-1.30zM338.47 28.63h1.30v6.03h-1.30zM343.42 28.63h1.30v6.03h-1.30zM348.36 28.63h1.30v6.03h-1.30zM326.10 34.60h1.30v6.03h-1.30zM331.05 34.60h1.30v6.03h-1.30zM339.71 40.57h1.30v6.03h-1.30zM331.05 46.53h1.30v6.03h-1.30zM335.99 46.53h1.30v6.03h-1.30zM348.36 46.53h1.30v6.03h-1.30zM326.10 52.50h1.30v6.03h-1.30zM326.10 58.47h1.30v6.03h-1.30zM328.57 58.47h1.30v6.03h-1.30zM332.28 58.47h1.30v6.03h-1.30zM338.47 58.47h1.30v6.03h-1.30zM339.71 64.43h1.30v6.03h-1.30zM327.34 70.40h1.30v6.03h-1.30zM348.36 70.40h1.30v6.03h-1.30zM331.05 76.37h1.30v6.03h-1.30zM333.52 76.37h1.30v6.03h-1.30zM340.94 76.37h1.30v6.03h-1.30zM326.10 82.33h1.30v6.03h-1.30zM348.36 82.33h1.30v6.03h-1.30zM331.05 94.27h1.30v6.03h-1.30zM332.28 94.27h1.30v6.03h-1.30zM345.89 94.27h1.30v6.03h-1.30zM326.10 100.23h1.30v6.03h-1.30zM345.89 100.23h1.30v6.03h-1.30z"/><path fill="#dbe1ee" d="M345.89 16.70h1.30v6.03h-1.30zM327.34 28.63h1.30v6.03h-1.30zM347.13 28.63h1.30v6.03h-1.30zM345.89 34.60h1.30v6.03h-1.30zM347.13 34.60h1.30v6.03h-1.30zM339.71 46.53h1.30v6.03h-1.30zM335.99 52.50h1.30v6.03h-1.30zM339.71 52.50h1.30v6.03h-1.30zM327.34 58.47h1.30v6.03h-1.30zM331.05 58.47h1.30v6.03h-1.30zM343.42 58.47h1.30v6.03h-1.30zM347.13 58.47h1.30v6.03h-1.30zM326.10 76.37h1.30v6.03h-1.30zM327.34 76.37h1.30v6.03h-1.30zM334.76 76.37h1.30v6.03h-1.30zM338.47 76.37h1.30v6.03h-1.30zM339.71 82.33h1.30v6.03h-1.30zM340.94 94.27h1.30v6.03h-1.30zM342.18 94.27h1.30v6.03h-1.30zM348.36 94.27h1.30v6.03h-1.30zM332.28 100.23h1.30v6.03h-1.30zM340.94 100.23h1.30v6.03h-1.30z"/><path fill="#f2dddd" d="M333.52 22.67h1.30v6.03h-1.30zM338.47 22.67h1.30v6.03h-1.30zM347.13 22.67h1.30v6.03h-1.30zM340.94 40.57h1.30v6.03h-1.30zM347.13 46.53h1.30v6.03h-1.30zM345.89 64.43h1.30v6.03h-1.30zM348.36 64.43h1.30v6.03h-1.30zM343.42 88.30h1.30v6.03h-1.30zM334.76 94.27h1.30v6.03h-1.30z"/><path fill="#d4dcec" d="M334.76 22.67h1.30v6.03h-1.30zM335.99 28.63h1.30v6.03h-1.30zM327.34 34.60h1.30v6.03h-1.30zM335.99 58.47h1.30v6.03h-1.30zM342.18 76.37h1.30v6.03h-1.30zM335.99 82.33h1.30v6.03h-1.30zM327.34 94.27h1.30v6.03h-1.30zM339.71 94.27h1.30v6.03h-1.30z"/><path fill="#f3e3e3" d="M340.94 22.67h1.30v6.03h-1.30zM342.18 22.67h1.30v6.03h-1.30zM343.42 22.67h1.30v6.03h-1.30zM329.81 28.63h1.30v6.03h-1.30zM335.99 40.57h1.30v6.03h-1.30zM326.10 46.53h1.30v6.03h-1.30zM343.42 46.53h1.30v6.03h-1.30zM344.65 46.53h1.30v6.03h-1.30zM335.99 64.43h1.30v6.03h-1.30zM340.94 64.43h1.30v6.03h-1.30zM344.65 64.43h1.30v6.03h-1.30zM333.52 70.40h1.30v6.03h-1.30zM338.47 70.40h1.30v6.03h-1.30zM345.89 70.40h1.30v6.03h-1.30zM332.28 88.30h1.30v6.03h-1.30zM337.23 88.30h1.30v6.03h-1.30zM339.71 88.30h1.30v6.03h-1.30zM344.65 88.30h1.30v6.03h-1.30zM347.13 88.30h1.30v6.03h-1.30z"/><path fill="#f3e9e9" d="M345.89 22.67h1.30v6.03h-1.30zM337.23 28.63h1.30v6.03h-1.30zM344.65 28.63h1.30v6.03h-1.30zM343.42 34.60h1.30v6.03h-1.30zM329.81 40.57h1.30v6.03h-1.30zM331.05 40.57h1.30v6.03h-1.30zM337.23 40.57h1.30v6.03h-1.30zM337.23 46.53h1.30v6.03h-1.30zM338.47 46.53h1.30v6.03h-1.30zM333.52 64.43h1.30v6.03h-1.30zM343.42 64.43h1.30v6.03h-1.30zM335.99 70.40h1.30v6.03h-1.30zM340.94 70.40h1.30v6.03h-1.30zM343.42 70.40h1.30v6.03h-1.30zM344.65 70.40h1.30v6.03h-1.30zM329.81 82.33h1.30v6.03h-1.30zM327.34 88.30h1.30v6.03h-1.30zM329.81 88.30h1.30v6.03h-1.30zM331.05 88.30h1.30v6.03h-1.30zM333.52 88.30h1.30v6.03h-1.30zM340.94 88.30h1.30v6.03h-1.30zM329.81 94.27h1.30v6.03h-1.30zM337.23 94.27h1.30v6.03h-1.30zM343.42 94.27h1.30v6.03h-1.30z"/><path fill="#c7d2e8" d="M332.28 34.60h1.30v6.03h-1.30zM328.57 76.37h1.30v6.03h-1.30zM344.65 100.23h1.30v6.03h-1.30z"/><path fill="#a0b4dd" d="M333.52 34.60h1.30v6.03h-1.30z"/><path fill="#85a0d4" d="M334.76 34.60h1.30v6.03h-1.30zM333.52 82.33h1.30v6.03h-1.30z"/><path fill="#adbee0" d="M334.76 40.57h1.30v6.03h-1.30z"/><path fill="#c0cde6" d="M334.76 52.50h1.30v6.03h-1.30zM334.76 58.47h1.30v6.03h-1.30zM334.76 70.40h1.30v6.03h-1.30zM335.99 76.37h1.30v6.03h-1.30z"/><path fill="#bac8e4" d="M333.52 58.47h1.30v6.03h-1.30zM334.76 64.43h1.30v6.03h-1.30z"/><path fill="#f0d1d1" d="M332.28 64.43h1.30v6.03h-1.30z"/><path fill="#f1d7d7" d="M329.81 70.40h1.30v6.03h-1.30z"/><path fill="#efcbcb" d="M338.47 88.30h1.30v6.03h-1.30z"/><path fill="#99afdb" d="M333.52 100.23h1.30v6.03h-1.30z"/>
<text x="352.6" y="21.8" font-size="5.61" fill="#444" textLength="13.0" lengthAdjust="spacingAndGlyphs">CD28</text>
<text x="352.6" y="27.7" font-size="5.61" fill="#444" textLength="12.5" lengthAdjust="spacingAndGlyphs">ICOS</text>
<text x="352.6" y="33.7" font-size="5.61" fill="#444" textLength="9.9" lengthAdjust="spacingAndGlyphs">TXK</text>
<text x="352.6" y="39.7" font-size="5.61" fill="#444" textLength="12.7" lengthAdjust="spacingAndGlyphs">TCF7</text>
<text x="352.6" y="45.6" font-size="5.61" fill="#444" textLength="7.9" lengthAdjust="spacingAndGlyphs">ITK</text>
<text x="352.6" y="51.6" font-size="5.61" fill="#444" textLength="16.7" lengthAdjust="spacingAndGlyphs">LRRN3</text>
<text x="352.6" y="57.6" font-size="5.61" fill="#444" textLength="15.0" lengthAdjust="spacingAndGlyphs">ITM2A</text>
<text x="352.6" y="63.5" font-size="5.61" fill="#444" textLength="10.2" lengthAdjust="spacingAndGlyphs">CD6</text>
<text x="352.6" y="69.5" font-size="5.61" fill="#444" textLength="20.7" lengthAdjust="spacingAndGlyphs">SPOCK2</text>
<text x="352.6" y="75.5" font-size="5.61" fill="#444" textLength="20.1" lengthAdjust="spacingAndGlyphs">CLEC2D</text>
<text x="352.6" y="81.4" font-size="5.61" fill="#444" textLength="21.8" lengthAdjust="spacingAndGlyphs">SLC38A1</text>
<text x="352.6" y="87.4" font-size="5.61" fill="#444" textLength="18.1" lengthAdjust="spacingAndGlyphs">NDFIP2</text>
<text x="352.6" y="93.4" font-size="5.61" fill="#444" textLength="18.6" lengthAdjust="spacingAndGlyphs">BCL11B</text>
<text x="352.6" y="99.3" font-size="5.61" fill="#444" textLength="24.4" lengthAdjust="spacingAndGlyphs">RASGRP1</text>
<text x="352.6" y="105.3" font-size="5.61" fill="#444" textLength="11.6" lengthAdjust="spacingAndGlyphs">NOG</text>
<text x="292.8" y="67.4" font-size="9.90" fill="#222" text-anchor="middle" transform="rotate(-90 292.8 63.9)">T cell differentiation</text>
<rect x="299.1" y="111.7" width="24.9" height="5.5" fill="#1e5cf5"/><rect x="326.1" y="111.7" width="23.5" height="5.5" fill="#d8280c"/>
<path fill="#efcbcb" d="M299.10 119.00h1.37v5.89h-1.37zM304.34 119.00h1.37v5.89h-1.37zM316.14 119.00h1.37v5.89h-1.37zM320.07 119.00h1.37v5.89h-1.37zM300.41 124.83h1.37v5.89h-1.37zM303.03 124.83h1.37v5.89h-1.37zM313.52 124.83h1.37v5.89h-1.37zM304.34 136.49h1.37v5.89h-1.37zM305.65 159.81h1.37v5.89h-1.37zM317.45 159.81h1.37v5.89h-1.37zM300.41 171.47h1.37v5.89h-1.37zM318.76 171.47h1.37v5.89h-1.37zM305.65 177.30h1.37v5.89h-1.37zM318.76 177.30h1.37v5.89h-1.37zM301.72 183.13h1.37v5.89h-1.37zM306.96 183.13h1.37v5.89h-1.37zM316.14 183.13h1.37v5.89h-1.37zM320.07 183.13h1.37v5.89h-1.37zM300.41 188.96h1.37v5.89h-1.37zM301.72 188.96h1.37v5.89h-1.37zM308.27 188.96h1.37v5.89h-1.37zM317.45 188.96h1.37v5.89h-1.37zM300.41 212.28h1.37v5.89h-1.37zM310.89 212.28h1.37v5.89h-1.37zM313.52 212.28h1.37v5.89h-1.37zM318.76 212.28h1.37v5.89h-1.37zM320.07 212.28h1.37v5.89h-1.37zM300.41 218.11h1.37v5.89h-1.37zM300.41 223.94h1.37v5.89h-1.37zM316.14 223.94h1.37v5.89h-1.37zM300.41 229.77h1.37v5.89h-1.37zM304.34 229.77h1.37v5.89h-1.37zM313.52 229.77h1.37v5.89h-1.37zM322.69 247.26h1.37v5.89h-1.37zM305.65 253.09h1.37v5.89h-1.37zM318.76 253.09h1.37v5.89h-1.37zM305.65 258.92h1.37v5.89h-1.37zM303.03 264.75h1.37v5.89h-1.37zM304.34 264.75h1.37v5.89h-1.37z"/><path fill="#eec0c0" d="M300.41 119.00h1.37v5.89h-1.37zM306.96 119.00h1.37v5.89h-1.37zM310.89 119.00h1.37v5.89h-1.37zM322.69 119.00h1.37v5.89h-1.37zM322.69 183.13h1.37v5.89h-1.37zM322.69 229.77h1.37v5.89h-1.37z"/><path fill="#f1d7d7" d="M301.72 119.00h1.37v5.89h-1.37zM310.89 124.83h1.37v5.89h-1.37zM316.14 124.83h1.37v5.89h-1.37zM306.96 130.66h1.37v5.89h-1.37zM316.14 130.66h1.37v5.89h-1.37zM320.07 130.66h1.37v5.89h-1.37zM308.27 136.49h1.37v5.89h-1.37zM310.89 136.49h1.37v5.89h-1.37zM313.52 136.49h1.37v5.89h-1.37zM318.76 136.49h1.37v5.89h-1.37zM300.41 142.32h1.37v5.89h-1.37zM310.89 142.32h1.37v5.89h-1.37zM317.45 142.32h1.37v5.89h-1.37zM318.76 142.32h1.37v5.89h-1.37zM322.69 142.32h1.37v5.89h-1.37zM310.89 153.98h1.37v5.89h-1.37zM313.52 153.98h1.37v5.89h-1.37zM318.76 153.98h1.37v5.89h-1.37zM322.69 153.98h1.37v5.89h-1.37zM304.34 159.81h1.37v5.89h-1.37zM308.27 159.81h1.37v5.89h-1.37zM310.89 159.81h1.37v5.89h-1.37zM316.14 159.81h1.37v5.89h-1.37zM321.38 159.81h1.37v5.89h-1.37zM304.34 165.64h1.37v5.89h-1.37zM310.89 165.64h1.37v5.89h-1.37zM317.45 165.64h1.37v5.89h-1.37zM322.69 165.64h1.37v5.89h-1.37zM301.72 171.47h1.37v5.89h-1.37zM305.65 171.47h1.37v5.89h-1.37zM316.14 171.47h1.37v5.89h-1.37zM300.41 177.30h1.37v5.89h-1.37zM304.34 177.30h1.37v5.89h-1.37zM313.52 177.30h1.37v5.89h-1.37zM320.07 177.30h1.37v5.89h-1.37zM299.10 183.13h1.37v5.89h-1.37zM303.03 183.13h1.37v5.89h-1.37zM321.38 183.13h1.37v5.89h-1.37zM299.10 188.96h1.37v5.89h-1.37zM305.65 188.96h1.37v5.89h-1.37zM310.89 188.96h1.37v5.89h-1.37zM314.83 188.96h1.37v5.89h-1.37zM299.10 194.79h1.37v5.89h-1.37zM301.72 194.79h1.37v5.89h-1.37zM304.34 194.79h1.37v5.89h-1.37zM305.65 194.79h1.37v5.89h-1.37zM317.45 194.79h1.37v5.89h-1.37zM318.76 194.79h1.37v5.89h-1.37zM300.41 200.62h1.37v5.89h-1.37zM304.34 200.62h1.37v5.89h-1.37zM300.41 206.45h1.37v5.89h-1.37zM299.10 212.28h1.37v5.89h-1.37zM318.76 218.11h1.37v5.89h-1.37zM322.69 218.11h1.37v5.89h-1.37zM310.89 223.94h1.37v5.89h-1.37zM320.07 223.94h1.37v5.89h-1.37zM316.14 229.77h1.37v5.89h-1.37zM303.03 235.60h1.37v5.89h-1.37zM304.34 235.60h1.37v5.89h-1.37zM305.65 235.60h1.37v5.89h-1.37zM306.96 235.60h1.37v5.89h-1.37zM300.41 247.26h1.37v5.89h-1.37zM314.83 247.26h1.37v5.89h-1.37zM316.14 247.26h1.37v5.89h-1.37zM317.45 247.26h1.37v5.89h-1.37zM318.76 247.26h1.37v5.89h-1.37zM301.72 253.09h1.37v5.89h-1.37zM314.83 253.09h1.37v5.89h-1.37zM317.45 253.09h1.37v5.89h-1.37zM320.07 253.09h1.37v5.89h-1.37zM304.34 258.92h1.37v5.89h-1.37zM314.83 258.92h1.37v5.89h-1.37zM317.45 258.92h1.37v5.89h-1.37zM299.10 264.75h1.37v5.89h-1.37zM300.41 264.75h1.37v5.89h-1.37zM316.14 264.75h1.37v5.89h-1.37z"/><path fill="#f0d1d1" d="M303.03 119.00h1.37v5.89h-1.37zM308.27 119.00h1.37v5.89h-1.37zM313.52 119.00h1.37v5.89h-1.37zM305.65 124.83h1.37v5.89h-1.37zM322.69 124.83h1.37v5.89h-1.37zM300.41 136.49h1.37v5.89h-1.37zM305.65 136.49h1.37v5.89h-1.37zM306.96 136.49h1.37v5.89h-1.37zM317.45 136.49h1.37v5.89h-1.37zM305.65 142.32h1.37v5.89h-1.37zM317.45 153.98h1.37v5.89h-1.37zM303.03 159.81h1.37v5.89h-1.37zM306.96 159.81h1.37v5.89h-1.37zM313.52 159.81h1.37v5.89h-1.37zM318.76 159.81h1.37v5.89h-1.37zM305.65 165.64h1.37v5.89h-1.37zM317.45 171.47h1.37v5.89h-1.37zM301.72 177.30h1.37v5.89h-1.37zM322.69 177.30h1.37v5.89h-1.37zM304.34 183.13h1.37v5.89h-1.37zM305.65 183.13h1.37v5.89h-1.37zM314.83 183.13h1.37v5.89h-1.37zM303.03 188.96h1.37v5.89h-1.37zM313.52 188.96h1.37v5.89h-1.37zM318.76 188.96h1.37v5.89h-1.37zM310.89 194.79h1.37v5.89h-1.37zM303.03 200.62h1.37v5.89h-1.37zM313.52 206.45h1.37v5.89h-1.37zM301.72 212.28h1.37v5.89h-1.37zM303.03 212.28h1.37v5.89h-1.37zM314.83 212.28h1.37v5.89h-1.37zM306.96 218.11h1.37v5.89h-1.37zM313.52 218.11h1.37v5.89h-1.37zM316.14 218.11h1.37v5.89h-1.37zM299.10 223.94h1.37v5.89h-1.37zM306.96 223.94h1.37v5.89h-1.37zM313.52 223.94h1.37v5.89h-1.37zM317.45 223.94h1.37v5.89h-1.37zM305.65 229.77h1.37v5.89h-1.37zM310.89 229.77h1.37v5.89h-1.37zM300.41 235.60h1.37v5.89h-1.37zM305.65 247.26h1.37v5.89h-1.37zM299.10 253.09h1.37v5.89h-1.37zM300.41 253.09h1.37v5.89h-1.37zM306.96 253.09h1.37v5.89h-1.37zM310.89 253.09h1.37v5.89h-1.37zM322.69 253.09h1.37v5.89h-1.37zM301.72 258.92h1.37v5.89h-1.37zM306.96 258.92h1.37v5.89h-1.37zM313.52 258.92h1.37v5.89h-1.37zM305.65 264.75h1.37v5.89h-1.37zM314.83 264.75h1.37v5.89h-1.37zM318.76 264.75h1.37v5.89h-1.37zM322.69 264.75h1.37v5.89h-1.37z"/><path fill="#eec6c6" d="M305.65 119.00h1.37v5.89h-1.37zM317.45 119.00h1.37v5.89h-1.37zM318.76 119.00h1.37v5.89h-1.37zM318.76 124.83h1.37v5.89h-1.37zM300.41 159.81h1.37v5.89h-1.37zM300.41 165.64h1.37v5.89h-1.37zM300.41 183.13h1.37v5.89h-1.37zM310.89 183.13h1.37v5.89h-1.37zM317.45 183.13h1.37v5.89h-1.37zM305.65 212.28h1.37v5.89h-1.37zM304.34 253.09h1.37v5.89h-1.37z"/><path fill="#f3e3e3" d="M309.58 119.00h1.37v5.89h-1.37zM314.83 119.00h1.37v5.89h-1.37zM321.38 119.00h1.37v5.89h-1.37zM301.72 124.83h1.37v5.89h-1.37zM304.34 124.83h1.37v5.89h-1.37zM317.45 124.83h1.37v5.89h-1.37zM304.34 130.66h1.37v5.89h-1.37zM310.89 130.66h1.37v5.89h-1.37zM303.03 136.49h1.37v5.89h-1.37zM321.38 136.49h1.37v5.89h-1.37zM299.10 142.32h1.37v5.89h-1.37zM301.72 142.32h1.37v5.89h-1.37zM306.96 142.32h1.37v5.89h-1.37zM320.07 142.32h1.37v5.89h-1.37zM305.65 153.98h1.37v5.89h-1.37zM301.72 159.81h1.37v5.89h-1.37zM314.83 159.81h1.37v5.89h-1.37zM322.69 159.81h1.37v5.89h-1.37zM303.03 165.64h1.37v5.89h-1.37zM306.96 165.64h1.37v5.89h-1.37zM316.14 165.64h1.37v5.89h-1.37zM318.76 165.64h1.37v5.89h-1.37zM321.38 165.64h1.37v5.89h-1.37zM303.03 171.47h1.37v5.89h-1.37zM321.38 171.47h1.37v5.89h-1.37zM299.10 177.30h1.37v5.89h-1.37zM306.96 177.30h1.37v5.89h-1.37zM308.27 177.30h1.37v5.89h-1.37zM310.89 177.30h1.37v5.89h-1.37zM314.83 177.30h1.37v5.89h-1.37zM309.58 183.13h1.37v5.89h-1.37zM310.89 200.62h1.37v5.89h-1.37zM303.03 206.45h1.37v5.89h-1.37zM314.83 206.45h1.37v5.89h-1.37zM320.07 206.45h1.37v5.89h-1.37zM299.10 218.11h1.37v5.89h-1.37zM303.03 218.11h1.37v5.89h-1.37zM309.58 218.11h1.37v5.89h-1.37zM318.76 223.94h1.37v5.89h-1.37zM322.69 223.94h1.37v5.89h-1.37zM299.10 229.77h1.37v5.89h-1.37zM301.72 229.77h1.37v5.89h-1.37zM303.03 229.77h1.37v5.89h-1.37zM299.10 235.60h1.37v5.89h-1.37zM310.89 235.60h1.37v5.89h-1.37zM317.45 235.60h1.37v5.89h-1.37zM320.07 235.60h1.37v5.89h-1.37zM322.69 241.43h1.37v5.89h-1.37zM301.72 247.26h1.37v5.89h-1.37zM303.03 247.26h1.37v5.89h-1.37zM310.89 247.26h1.37v5.89h-1.37zM321.38 253.09h1.37v5.89h-1.37zM318.76 258.92h1.37v5.89h-1.37zM322.69 258.92h1.37v5.89h-1.37zM301.72 264.75h1.37v5.89h-1.37zM306.96 264.75h1.37v5.89h-1.37z"/><path fill="#f5f5f5" d="M312.21 119.00h1.37v5.89h-1.37zM321.38 130.66h1.37v5.89h-1.37zM312.21 136.49h1.37v5.89h-1.37zM303.03 142.32h1.37v5.89h-1.37zM299.10 148.15h1.37v5.89h-1.37zM306.96 148.15h1.37v5.89h-1.37zM310.89 148.15h1.37v5.89h-1.37zM313.52 148.15h1.37v5.89h-1.37zM317.45 148.15h1.37v5.89h-1.37zM320.07 148.15h1.37v5.89h-1.37zM322.69 148.15h1.37v5.89h-1.37zM309.58 153.98h1.37v5.89h-1.37zM321.38 153.98h1.37v5.89h-1.37zM308.27 171.47h1.37v5.89h-1.37zM321.38 200.62h1.37v5.89h-1.37zM312.21 229.77h1.37v5.89h-1.37zM308.27 235.60h1.37v5.89h-1.37zM301.72 241.43h1.37v5.89h-1.37zM313.52 241.43h1.37v5.89h-1.37zM317.45 241.43h1.37v5.89h-1.37zM312.21 247.26h1.37v5.89h-1.37zM309.58 258.92h1.37v5.89h-1.37z"/><path fill="#f2dddd" d="M299.10 124.83h1.37v5.89h-1.37zM306.96 124.83h1.37v5.89h-1.37zM314.83 124.83h1.37v5.89h-1.37zM300.41 130.66h1.37v5.89h-1.37zM303.03 130.66h1.37v5.89h-1.37zM317.45 130.66h1.37v5.89h-1.37zM318.76 130.66h1.37v5.89h-1.37zM322.69 130.66h1.37v5.89h-1.37zM299.10 136.49h1.37v5.89h-1.37zM314.83 136.49h1.37v5.89h-1.37zM316.14 136.49h1.37v5.89h-1.37zM304.34 142.32h1.37v5.89h-1.37zM314.83 142.32h1.37v5.89h-1.37zM316.14 142.32h1.37v5.89h-1.37zM299.10 153.98h1.37v5.89h-1.37zM300.41 153.98h1.37v5.89h-1.37zM303.03 153.98h1.37v5.89h-1.37zM304.34 153.98h1.37v5.89h-1.37zM306.96 153.98h1.37v5.89h-1.37zM316.14 153.98h1.37v5.89h-1.37zM299.10 159.81h1.37v5.89h-1.37zM320.07 159.81h1.37v5.89h-1.37zM308.27 165.64h1.37v5.89h-1.37zM306.96 171.47h1.37v5.89h-1.37zM310.89 171.47h1.37v5.89h-1.37zM313.52 171.47h1.37v5.89h-1.37zM314.83 171.47h1.37v5.89h-1.37zM322.69 171.47h1.37v5.89h-1.37zM303.03 177.30h1.37v5.89h-1.37zM317.45 177.30h1.37v5.89h-1.37zM321.38 177.30h1.37v5.89h-1.37zM308.27 183.13h1.37v5.89h-1.37zM304.34 188.96h1.37v5.89h-1.37zM306.96 188.96h1.37v5.89h-1.37zM320.07 188.96h1.37v5.89h-1.37zM321.38 188.96h1.37v5.89h-1.37zM322.69 188.96h1.37v5.89h-1.37zM300.41 194.79h1.37v5.89h-1.37zM303.03 194.79h1.37v5.89h-1.37zM306.96 194.79h1.37v5.89h-1.37zM308.27 194.79h1.37v5.89h-1.37zM313.52 194.79h1.37v5.89h-1.37zM314.83 194.79h1.37v5.89h-1.37zM316.14 194.79h1.37v5.89h-1.37zM321.38 194.79h1.37v5.89h-1.37zM322.69 194.79h1.37v5.89h-1.37zM301.72 200.62h1.37v5.89h-1.37zM305.65 200.62h1.37v5.89h-1.37zM306.96 200.62h1.37v5.89h-1.37zM317.45 206.45h1.37v5.89h-1.37zM304.34 212.28h1.37v5.89h-1.37zM306.96 212.28h1.37v5.89h-1.37zM308.27 212.28h1.37v5.89h-1.37zM316.14 212.28h1.37v5.89h-1.37zM317.45 212.28h1.37v5.89h-1.37zM321.38 212.28h1.37v5.89h-1.37zM304.34 218.11h1.37v5.89h-1.37zM305.65 218.11h1.37v5.89h-1.37zM310.89 218.11h1.37v5.89h-1.37zM320.07 218.11h1.37v5.89h-1.37zM321.38 218.11h1.37v5.89h-1.37zM303.03 223.94h1.37v5.89h-1.37zM304.34 223.94h1.37v5.89h-1.37zM306.96 229.77h1.37v5.89h-1.37zM314.83 229.77h1.37v5.89h-1.37zM317.45 229.77h1.37v5.89h-1.37zM318.76 229.77h1.37v5.89h-1.37zM320.07 229.77h1.37v5.89h-1.37zM316.14 235.60h1.37v5.89h-1.37zM322.69 235.60h1.37v5.89h-1.37zM299.10 247.26h1.37v5.89h-1.37zM304.34 247.26h1.37v5.89h-1.37zM313.52 247.26h1.37v5.89h-1.37zM303.03 253.09h1.37v5.89h-1.37zM308.27 253.09h1.37v5.89h-1.37zM316.14 253.09h1.37v5.89h-1.37zM300.41 258.92h1.37v5.89h-1.37zM303.03 258.92h1.37v5.89h-1.37zM316.14 258.92h1.37v5.89h-1.37zM308.27 264.75h1.37v5.89h-1.37zM310.89 264.75h1.37v5.89h-1.37zM313.52 264.75h1.37v5.89h-1.37zM317.45 264.75h1.37v5.89h-1.37zM320.07 264.75h1.37v5.89h-1.37z"/><path fill="#f3e9e9" d="M308.27 124.83h1.37v5.89h-1.37zM309.58 124.83h1.37v5.89h-1.37zM320.07 124.83h1.37v5.89h-1.37zM321.38 124.83h1.37v5.89h-1.37zM305.65 130.66h1.37v5.89h-1.37zM308.27 130.66h1.37v5.89h-1.37zM314.83 130.66h1.37v5.89h-1.37zM301.72 136.49h1.37v5.89h-1.37zM309.58 136.49h1.37v5.89h-1.37zM320.07 136.49h1.37v5.89h-1.37zM305.65 148.15h1.37v5.89h-1.37zM314.83 148.15h1.37v5.89h-1.37zM316.14 148.15h1.37v5.89h-1.37zM314.83 153.98h1.37v5.89h-1.37zM312.21 159.81h1.37v5.89h-1.37zM301.72 165.64h1.37v5.89h-1.37zM314.83 165.64h1.37v5.89h-1.37zM320.07 165.64h1.37v5.89h-1.37zM299.10 171.47h1.37v5.89h-1.37zM304.34 171.47h1.37v5.89h-1.37zM320.07 171.47h1.37v5.89h-1.37zM299.10 200.62h1.37v5.89h-1.37zM313.52 200.62h1.37v5.89h-1.37zM318.76 200.62h1.37v5.89h-1.37zM322.69 200.62h1.37v5.89h-1.37zM305.65 206.45h1.37v5.89h-1.37zM308.27 206.45h1.37v5.89h-1.37zM318.76 206.45h1.37v5.89h-1.37zM322.69 206.45h1.37v5.89h-1.37zM308.27 218.11h1.37v5.89h-1.37zM301.72 223.94h1.37v5.89h-1.37zM305.65 223.94h1.37v5.89h-1.37zM308.27 223.94h1.37v5.89h-1.37zM301.72 235.60h1.37v5.89h-1.37zM313.52 235.60h1.37v5.89h-1.37zM314.83 235.60h1.37v5.89h-1.37zM318.76 235.60h1.37v5.89h-1.37zM310.89 241.43h1.37v5.89h-1.37zM318.76 241.43h1.37v5.89h-1.37zM320.07 247.26h1.37v5.89h-1.37zM309.58 253.09h1.37v5.89h-1.37zM313.52 253.09h1.37v5.89h-1.37zM310.89 258.92h1.37v5.89h-1.37zM320.07 258.92h1.37v5.89h-1.37zM321.38 258.92h1.37v5.89h-1.37zM309.58 264.75h1.37v5.89h-1.37zM321.38 264.75h1.37v5.89h-1.37z"/><path fill="#eef0f3" d="M312.21 124.83h1.37v5.89h-1.37zM312.21 130.66h1.37v5.89h-1.37zM309.58 142.32h1.37v5.89h-1.37zM312.21 165.64h1.37v5.89h-1.37zM309.58 171.47h1.37v5.89h-1.37zM312.21 171.47h1.37v5.89h-1.37zM312.21 177.30h1.37v5.89h-1.37zM312.21 188.96h1.37v5.89h-1.37zM309.58 194.79h1.37v5.89h-1.37zM312.21 200.62h1.37v5.89h-1.37zM321.38 206.45h1.37v5.89h-1.37zM312.21 218.11h1.37v5.89h-1.37zM309.58 223.94h1.37v5.89h-1.37zM308.27 229.77h1.37v5.89h-1.37zM309.58 229.77h1.37v5.89h-1.37zM309.58 235.60h1.37v5.89h-1.37zM299.10 241.43h1.37v5.89h-1.37zM300.41 241.43h1.37v5.89h-1.37zM304.34 241.43h1.37v5.89h-1.37zM305.65 241.43h1.37v5.89h-1.37zM308.27 241.43h1.37v5.89h-1.37zM314.83 241.43h1.37v5.89h-1.37zM321.38 241.43h1.37v5.89h-1.37zM308.27 247.26h1.37v5.89h-1.37zM312.21 253.09h1.37v5.89h-1.37zM312.21 258.92h1.37v5.89h-1.37zM312.21 264.75h1.37v5.89h-1.37z"/><path fill="#f4efef" d="M299.10 130.66h1.37v5.89h-1.37zM301.72 130.66h1.37v5.89h-1.37zM309.58 130.66h1.37v5.89h-1.37zM313.52 130.66h1.37v5.89h-1.37zM308.27 142.32h1.37v5.89h-1.37zM313.52 142.32h1.37v5.89h-1.37zM321.38 142.32h1.37v5.89h-1.37zM300.41 148.15h1.37v5.89h-1.37zM304.34 148.15h1.37v5.89h-1.37zM318.76 148.15h1.37v5.89h-1.37zM301.72 153.98h1.37v5.89h-1.37zM308.27 153.98h1.37v5.89h-1.37zM320.07 153.98h1.37v5.89h-1.37zM309.58 159.81h1.37v5.89h-1.37zM299.10 165.64h1.37v5.89h-1.37zM309.58 165.64h1.37v5.89h-1.37zM312.21 183.13h1.37v5.89h-1.37zM312.21 194.79h1.37v5.89h-1.37zM308.27 200.62h1.37v5.89h-1.37zM309.58 200.62h1.37v5.89h-1.37zM314.83 200.62h1.37v5.89h-1.37zM316.14 200.62h1.37v5.89h-1.37zM317.45 200.62h1.37v5.89h-1.37zM320.07 200.62h1.37v5.89h-1.37zM299.10 206.45h1.37v5.89h-1.37zM301.72 206.45h1.37v5.89h-1.37zM304.34 206.45h1.37v5.89h-1.37zM312.21 206.45h1.37v5.89h-1.37zM316.14 206.45h1.37v5.89h-1.37zM309.58 212.28h1.37v5.89h-1.37zM312.21 212.28h1.37v5.89h-1.37zM301.72 218.11h1.37v5.89h-1.37zM314.83 218.11h1.37v5.89h-1.37zM317.45 218.11h1.37v5.89h-1.37zM314.83 223.94h1.37v5.89h-1.37zM321.38 229.77h1.37v5.89h-1.37zM321.38 235.60h1.37v5.89h-1.37zM303.03 241.43h1.37v5.89h-1.37zM306.96 241.43h1.37v5.89h-1.37zM316.14 241.43h1.37v5.89h-1.37zM321.38 247.26h1.37v5.89h-1.37zM299.10 258.92h1.37v5.89h-1.37zM308.27 258.92h1.37v5.89h-1.37z"/><path fill="#edbaba" d="M322.69 136.49h1.37v5.89h-1.37zM316.14 177.30h1.37v5.89h-1.37zM318.76 183.13h1.37v5.89h-1.37z"/><path fill="#e1e6ef" d="M312.21 142.32h1.37v5.89h-1.37zM309.58 148.15h1.37v5.89h-1.37zM312.21 241.43h1.37v5.89h-1.37z"/><path fill="#e8ebf1" d="M301.72 148.15h1.37v5.89h-1.37zM308.27 148.15h1.37v5.89h-1.37zM321.38 148.15h1.37v5.89h-1.37zM312.21 153.98h1.37v5.89h-1.37zM309.58 188.96h1.37v5.89h-1.37zM306.96 206.45h1.37v5.89h-1.37zM309.58 206.45h1.37v5.89h-1.37zM310.89 206.45h1.37v5.89h-1.37zM312.21 223.94h1.37v5.89h-1.37zM312.21 235.60h1.37v5.89h-1.37zM320.07 241.43h1.37v5.89h-1.37zM309.58 247.26h1.37v5.89h-1.37z"/><path fill="#99afdb" d="M303.03 148.15h1.37v5.89h-1.37z"/><path fill="#d4dcec" d="M312.21 148.15h1.37v5.89h-1.37zM313.52 183.13h1.37v5.89h-1.37zM309.58 241.43h1.37v5.89h-1.37z"/><path fill="#bac8e4" d="M313.52 165.64h1.37v5.89h-1.37z"/><path fill="#a6b9de" d="M309.58 177.30h1.37v5.89h-1.37z"/><path fill="#c0cde6" d="M316.14 188.96h1.37v5.89h-1.37zM321.38 223.94h1.37v5.89h-1.37zM306.96 247.26h1.37v5.89h-1.37z"/><path fill="#b3c3e2" d="M320.07 194.79h1.37v5.89h-1.37z"/><path fill="#dbe1ee" d="M322.69 212.28h1.37v5.89h-1.37z"/>
<path fill="#bac8e4" d="M326.10 119.00h1.30v5.89h-1.30z"/><path fill="#f3e3e3" d="M327.34 119.00h1.30v5.89h-1.30zM333.52 119.00h1.30v5.89h-1.30zM334.76 119.00h1.30v5.89h-1.30zM347.13 119.00h1.30v5.89h-1.30zM328.57 124.83h1.30v5.89h-1.30zM347.13 124.83h1.30v5.89h-1.30zM337.23 136.49h1.30v5.89h-1.30zM345.89 136.49h1.30v5.89h-1.30zM337.23 142.32h1.30v5.89h-1.30zM342.18 142.32h1.30v5.89h-1.30zM337.23 148.15h1.30v5.89h-1.30zM339.71 148.15h1.30v5.89h-1.30zM327.34 159.81h1.30v5.89h-1.30zM328.57 159.81h1.30v5.89h-1.30zM331.05 159.81h1.30v5.89h-1.30zM340.94 159.81h1.30v5.89h-1.30zM342.18 159.81h1.30v5.89h-1.30zM347.13 159.81h1.30v5.89h-1.30zM326.10 165.64h1.30v5.89h-1.30zM337.23 165.64h1.30v5.89h-1.30zM328.57 188.96h1.30v5.89h-1.30zM331.05 188.96h1.30v5.89h-1.30zM347.13 188.96h1.30v5.89h-1.30zM327.34 194.79h1.30v5.89h-1.30zM328.57 194.79h1.30v5.89h-1.30zM331.05 194.79h1.30v5.89h-1.30zM334.76 194.79h1.30v5.89h-1.30zM335.99 194.79h1.30v5.89h-1.30zM337.23 194.79h1.30v5.89h-1.30zM329.81 200.62h1.30v5.89h-1.30zM342.18 200.62h1.30v5.89h-1.30zM344.65 200.62h1.30v5.89h-1.30zM333.52 218.11h1.30v5.89h-1.30zM342.18 218.11h1.30v5.89h-1.30zM328.57 241.43h1.30v5.89h-1.30zM329.81 247.26h1.30v5.89h-1.30zM333.52 247.26h1.30v5.89h-1.30zM342.18 247.26h1.30v5.89h-1.30z"/><path fill="#f0d1d1" d="M328.57 119.00h1.30v5.89h-1.30zM333.52 136.49h1.30v5.89h-1.30zM332.28 194.79h1.30v5.89h-1.30zM326.10 200.62h1.30v5.89h-1.30z"/><path fill="#f3e9e9" d="M329.81 119.00h1.30v5.89h-1.30zM342.18 119.00h1.30v5.89h-1.30zM345.89 119.00h1.30v5.89h-1.30zM327.34 124.83h1.30v5.89h-1.30zM331.05 130.66h1.30v5.89h-1.30zM328.57 136.49h1.30v5.89h-1.30zM334.76 136.49h1.30v5.89h-1.30zM335.99 136.49h1.30v5.89h-1.30zM347.13 136.49h1.30v5.89h-1.30zM327.34 142.32h1.30v5.89h-1.30zM327.34 148.15h1.30v5.89h-1.30zM331.05 148.15h1.30v5.89h-1.30zM333.52 148.15h1.30v5.89h-1.30zM335.99 148.15h1.30v5.89h-1.30zM342.18 148.15h1.30v5.89h-1.30zM347.13 148.15h1.30v5.89h-1.30zM329.81 159.81h1.30v5.89h-1.30zM327.34 165.64h1.30v5.89h-1.30zM331.05 165.64h1.30v5.89h-1.30zM332.28 165.64h1.30v5.89h-1.30zM333.52 165.64h1.30v5.89h-1.30zM335.99 165.64h1.30v5.89h-1.30zM326.10 171.47h1.30v5.89h-1.30zM328.57 171.47h1.30v5.89h-1.30zM333.52 171.47h1.30v5.89h-1.30zM337.23 171.47h1.30v5.89h-1.30zM327.34 177.30h1.30v5.89h-1.30zM328.57 183.13h1.30v5.89h-1.30zM329.81 183.13h1.30v5.89h-1.30zM331.05 183.13h1.30v5.89h-1.30zM337.23 183.13h1.30v5.89h-1.30zM326.10 188.96h1.30v5.89h-1.30zM327.34 188.96h1.30v5.89h-1.30zM333.52 188.96h1.30v5.89h-1.30zM339.71 188.96h1.30v5.89h-1.30zM329.81 194.79h1.30v5.89h-1.30zM327.34 200.62h1.30v5.89h-1.30zM328.57 200.62h1.30v5.89h-1.30zM332.28 200.62h1.30v5.89h-1.30zM329.81 206.45h1.30v5.89h-1.30zM347.13 206.45h1.30v5.89h-1.30zM327.34 212.28h1.30v5.89h-1.30zM337.23 212.28h1.30v5.89h-1.30zM327.34 223.94h1.30v5.89h-1.30zM337.23 223.94h1.30v5.89h-1.30zM337.23 235.60h1.30v5.89h-1.30zM340.94 241.43h1.30v5.89h-1.30zM326.10 247.26h1.30v5.89h-1.30zM328.57 247.26h1.30v5.89h-1.30zM327.34 253.09h1.30v5.89h-1.30zM328.57 253.09h1.30v5.89h-1.30zM332.28 253.09h1.30v5.89h-1.30zM334.76 253.09h1.30v5.89h-1.30zM328.57 258.92h1.30v5.89h-1.30zM334.76 258.92h1.30v5.89h-1.30zM340.94 258.92h1.30v5.89h-1.30zM328.57 264.75h1.30v5.89h-1.30z"/><path fill="#f1d7d7" d="M331.05 119.00h1.30v5.89h-1.30zM332.28 124.83h1.30v5.89h-1.30zM334.76 124.83h1.30v5.89h-1.30zM337.23 124.83h1.30v5.89h-1.30zM334.76 148.15h1.30v5.89h-1.30zM333.52 206.45h1.30v5.89h-1.30z"/><path fill="#f5f5f5" d="M332.28 119.00h1.30v5.89h-1.30zM340.94 119.00h1.30v5.89h-1.30zM343.42 119.00h1.30v5.89h-1.30zM326.10 124.83h1.30v5.89h-1.30zM333.52 124.83h1.30v5.89h-1.30zM340.94 124.83h1.30v5.89h-1.30zM328.57 130.66h1.30v5.89h-1.30zM340.94 130.66h1.30v5.89h-1.30zM343.42 130.66h1.30v5.89h-1.30zM347.13 130.66h1.30v5.89h-1.30zM348.36 130.66h1.30v5.89h-1.30zM329.81 136.49h1.30v5.89h-1.30zM331.05 136.49h1.30v5.89h-1.30zM339.71 136.49h1.30v5.89h-1.30zM344.65 136.49h1.30v5.89h-1.30zM331.05 142.32h1.30v5.89h-1.30zM335.99 142.32h1.30v5.89h-1.30zM338.47 142.32h1.30v5.89h-1.30zM328.57 148.15h1.30v5.89h-1.30zM338.47 148.15h1.30v5.89h-1.30zM348.36 148.15h1.30v5.89h-1.30zM334.76 153.98h1.30v5.89h-1.30zM337.23 153.98h1.30v5.89h-1.30zM326.10 159.81h1.30v5.89h-1.30zM334.76 159.81h1.30v5.89h-1.30zM335.99 159.81h1.30v5.89h-1.30zM334.76 165.64h1.30v5.89h-1.30zM338.47 165.64h1.30v5.89h-1.30zM344.65 165.64h1.30v5.89h-1.30zM342.18 171.47h1.30v5.89h-1.30zM335.99 177.30h1.30v5.89h-1.30zM347.13 177.30h1.30v5.89h-1.30zM327.34 183.13h1.30v5.89h-1.30zM334.76 183.13h1.30v5.89h-1.30zM345.89 183.13h1.30v5.89h-1.30zM338.47 188.96h1.30v5.89h-1.30zM348.36 194.79h1.30v5.89h-1.30zM335.99 200.62h1.30v5.89h-1.30zM340.94 200.62h1.30v5.89h-1.30zM344.65 206.45h1.30v5.89h-1.30zM332.28 212.28h1.30v5.89h-1.30zM335.99 212.28h1.30v5.89h-1.30zM348.36 212.28h1.30v5.89h-1.30zM328.57 218.11h1.30v5.89h-1.30zM339.71 218.11h1.30v5.89h-1.30zM345.89 218.11h1.30v5.89h-1.30zM331.05 223.94h1.30v5.89h-1.30zM335.99 223.94h1.30v5.89h-1.30zM326.10 229.77h1.30v5.89h-1.30zM329.81 229.77h1.30v5.89h-1.30zM331.05 247.26h1.30v5.89h-1.30zM332.28 247.26h1.30v5.89h-1.30zM335.99 247.26h1.30v5.89h-1.30zM345.89 247.26h1.30v5.89h-1.30zM327.34 258.92h1.30v5.89h-1.30zM332.28 258.92h1.30v5.89h-1.30zM337.23 258.92h1.30v5.89h-1.30zM342.18 258.92h1.30v5.89h-1.30zM348.36 258.92h1.30v5.89h-1.30zM326.10 264.75h1.30v5.89h-1.30zM329.81 264.75h1.30v5.89h-1.30zM334.76 264.75h1.30v5.89h-1.30zM335.99 264.75h1.30v5.89h-1.30zM337.23 264.75h1.30v5.89h-1.30zM339.71 264.75h1.30v5.89h-1.30zM344.65 264.75h1.30v5.89h-1.30zM347.13 264.75h1.30v5.89h-1.30zM348.36 264.75h1.30v5.89h-1.30z"/><path fill="#f4efef" d="M335.99 119.00h1.30v5.89h-1.30zM339.71 119.00h1.30v5.89h-1.30zM339.71 124.83h1.30v5.89h-1.30zM348.36 124.83h1.30v5.89h-1.30zM327.34 136.49h1.30v5.89h-1.30zM332.28 136.49h1.30v5.89h-1.30zM338.47 136.49h1.30v5.89h-1.30zM342.18 136.49h1.30v5.89h-1.30zM348.36 136.49h1.30v5.89h-1.30zM326.10 142.32h1.30v5.89h-1.30zM333.52 142.32h1.30v5.89h-1.30zM329.81 148.15h1.30v5.89h-1.30zM344.65 148.15h1.30v5.89h-1.30zM345.89 148.15h1.30v5.89h-1.30zM326.10 153.98h1.30v5.89h-1.30zM327.34 153.98h1.30v5.89h-1.30zM333.52 153.98h1.30v5.89h-1.30zM332.28 159.81h1.30v5.89h-1.30zM337.23 159.81h1.30v5.89h-1.30zM338.47 159.81h1.30v5.89h-1.30zM344.65 159.81h1.30v5.89h-1.30zM328.57 165.64h1.30v5.89h-1.30zM329.81 165.64h1.30v5.89h-1.30zM329.81 171.47h1.30v5.89h-1.30zM339.71 171.47h1.30v5.89h-1.30zM347.13 171.47h1.30v5.89h-1.30zM348.36 171.47h1.30v5.89h-1.30zM326.10 183.13h1.30v5.89h-1.30zM342.18 183.13h1.30v5.89h-1.30zM335.99 188.96h1.30v5.89h-1.30zM342.18 188.96h1.30v5.89h-1.30zM326.10 194.79h1.30v5.89h-1.30zM340.94 194.79h1.30v5.89h-1.30zM344.65 194.79h1.30v5.89h-1.30zM334.76 200.62h1.30v5.89h-1.30zM337.23 200.62h1.30v5.89h-1.30zM343.42 200.62h1.30v5.89h-1.30zM345.89 200.62h1.30v5.89h-1.30zM347.13 200.62h1.30v5.89h-1.30zM331.05 206.45h1.30v5.89h-1.30zM332.28 206.45h1.30v5.89h-1.30zM334.76 206.45h1.30v5.89h-1.30zM335.99 206.45h1.30v5.89h-1.30zM340.94 206.45h1.30v5.89h-1.30zM342.18 206.45h1.30v5.89h-1.30zM343.42 206.45h1.30v5.89h-1.30zM345.89 206.45h1.30v5.89h-1.30zM348.36 206.45h1.30v5.89h-1.30zM334.76 212.28h1.30v5.89h-1.30zM329.81 223.94h1.30v5.89h-1.30zM334.76 223.94h1.30v5.89h-1.30zM340.94 223.94h1.30v5.89h-1.30zM342.18 223.94h1.30v5.89h-1.30zM327.34 229.77h1.30v5.89h-1.30zM328.57 229.77h1.30v5.89h-1.30zM333.52 229.77h1.30v5.89h-1.30zM335.99 229.77h1.30v5.89h-1.30zM337.23 229.77h1.30v5.89h-1.30zM338.47 229.77h1.30v5.89h-1.30zM326.10 235.60h1.30v5.89h-1.30zM328.57 235.60h1.30v5.89h-1.30zM332.28 235.60h1.30v5.89h-1.30zM329.81 241.43h1.30v5.89h-1.30zM331.05 241.43h1.30v5.89h-1.30zM338.47 241.43h1.30v5.89h-1.30zM342.18 241.43h1.30v5.89h-1.30zM334.76 247.26h1.30v5.89h-1.30zM337.23 247.26h1.30v5.89h-1.30zM331.05 253.09h1.30v5.89h-1.30zM333.52 253.09h1.30v5.89h-1.30zM337.23 253.09h1.30v5.89h-1.30zM340.94 253.09h1.30v5.89h-1.30zM347.13 253.09h1.30v5.89h-1.30zM331.05 258.92h1.30v5.89h-1.30z"/><path fill="#f2dddd" d="M337.23 119.00h1.30v5.89h-1.30zM331.05 124.83h1.30v5.89h-1.30zM348.36 159.81h1.30v5.89h-1.30zM347.13 165.64h1.30v5.89h-1.30zM333.52 183.13h1.30v5.89h-1.30zM333.52 194.79h1.30v5.89h-1.30zM339.71 194.79h1.30v5.89h-1.30zM342.18 194.79h1.30v5.89h-1.30zM347.13 194.79h1.30v5.89h-1.30zM331.05 200.62h1.30v5.89h-1.30zM333.52 200.62h1.30v5.89h-1.30zM348.36 200.62h1.30v5.89h-1.30zM337.23 206.45h1.30v5.89h-1.30zM333.52 223.94h1.30v5.89h-1.30zM331.05 229.77h1.30v5.89h-1.30zM333.52 235.60h1.30v5.89h-1.30zM326.10 253.09h1.30v5.89h-1.30zM333.52 258.92h1.30v5.89h-1.30z"/><path fill="#eef0f3" d="M338.47 119.00h1.30v5.89h-1.30zM344.65 119.00h1.30v5.89h-1.30zM329.81 124.83h1.30v5.89h-1.30zM335.99 124.83h1.30v5.89h-1.30zM327.34 130.66h1.30v5.89h-1.30zM332.28 130.66h1.30v5.89h-1.30zM333.52 130.66h1.30v5.89h-1.30zM342.18 130.66h1.30v5.89h-1.30zM340.94 136.49h1.30v5.89h-1.30zM328.57 142.32h1.30v5.89h-1.30zM332.28 142.32h1.30v5.89h-1.30zM334.76 142.32h1.30v5.89h-1.30zM348.36 142.32h1.30v5.89h-1.30zM332.28 148.15h1.30v5.89h-1.30zM343.42 148.15h1.30v5.89h-1.30zM328.57 153.98h1.30v5.89h-1.30zM332.28 153.98h1.30v5.89h-1.30zM339.71 153.98h1.30v5.89h-1.30zM340.94 153.98h1.30v5.89h-1.30zM342.18 153.98h1.30v5.89h-1.30zM339.71 159.81h1.30v5.89h-1.30zM343.42 159.81h1.30v5.89h-1.30zM340.94 165.64h1.30v5.89h-1.30zM342.18 165.64h1.30v5.89h-1.30zM345.89 165.64h1.30v5.89h-1.30zM348.36 165.64h1.30v5.89h-1.30zM327.34 171.47h1.30v5.89h-1.30zM331.05 171.47h1.30v5.89h-1.30zM335.99 171.47h1.30v5.89h-1.30zM344.65 171.47h1.30v5.89h-1.30zM328.57 177.30h1.30v5.89h-1.30zM329.81 177.30h1.30v5.89h-1.30zM331.05 177.30h1.30v5.89h-1.30zM337.23 177.30h1.30v5.89h-1.30zM332.28 183.13h1.30v5.89h-1.30zM340.94 183.13h1.30v5.89h-1.30zM340.94 188.96h1.30v5.89h-1.30zM343.42 188.96h1.30v5.89h-1.30zM338.47 200.62h1.30v5.89h-1.30zM339.71 200.62h1.30v5.89h-1.30zM327.34 206.45h1.30v5.89h-1.30zM328.57 206.45h1.30v5.89h-1.30zM326.10 212.28h1.30v5.89h-1.30zM328.57 212.28h1.30v5.89h-1.30zM331.05 212.28h1.30v5.89h-1.30zM345.89 212.28h1.30v5.89h-1.30zM347.13 212.28h1.30v5.89h-1.30zM327.34 218.11h1.30v5.89h-1.30zM329.81 218.11h1.30v5.89h-1.30zM337.23 218.11h1.30v5.89h-1.30zM340.94 218.11h1.30v5.89h-1.30zM347.13 218.11h1.30v5.89h-1.30zM348.36 218.11h1.30v5.89h-1.30zM326.10 223.94h1.30v5.89h-1.30zM328.57 223.94h1.30v5.89h-1.30zM339.71 223.94h1.30v5.89h-1.30zM344.65 223.94h1.30v5.89h-1.30zM345.89 223.94h1.30v5.89h-1.30zM347.13 223.94h1.30v5.89h-1.30zM343.42 229.77h1.30v5.89h-1.30zM345.89 229.77h1.30v5.89h-1.30zM348.36 229.77h1.30v5.89h-1.30zM334.76 235.60h1.30v5.89h-1.30zM326.10 241.43h1.30v5.89h-1.30zM327.34 241.43h1.30v5.89h-1.30zM332.28 241.43h1.30v5.89h-1.30zM333.52 241.43h1.30v5.89h-1.30zM334.76 241.43h1.30v5.89h-1.30zM339.71 241.43h1.30v5.89h-1.30zM343.42 241.43h1.30v5.89h-1.30zM344.65 241.43h1.30v5.89h-1.30zM327.34 247.26h1.30v5.89h-1.30zM340.94 247.26h1.30v5.89h-1.30zM344.65 247.26h1.30v5.89h-1.30zM347.13 247.26h1.30v5.89h-1.30zM348.36 247.26h1.30v5.89h-1.30zM335.99 253.09h1.30v5.89h-1.30zM345.89 253.09h1.30v5.89h-1.30zM348.36 253.09h1.30v5.89h-1.30zM329.81 258.92h1.30v5.89h-1.30zM335.99 258.92h1.30v5.89h-1.30zM339.71 258.92h1.30v5.89h-1.30zM343.42 258.92h1.30v5.89h-1.30zM347.13 258.92h1.30v5.89h-1.30zM327.34 264.75h1.30v5.89h-1.30zM343.42 264.75h1.30v5.89h-1.30z"/><path fill="#e1e6ef" d="M348.36 119.00h1.30v5.89h-1.30zM334.76 130.66h1.30v5.89h-1.30zM339.71 130.66h1.30v5.89h-1.30zM329.81 142.32h1.30v5.89h-1.30zM340.94 148.15h1.30v5.89h-1.30zM338.47 153.98h1.30v5.89h-1.30zM343.42 153.98h1.30v5.89h-1.30zM345.89 159.81h1.30v5.89h-1.30zM332.28 171.47h1.30v5.89h-1.30zM338.47 171.47h1.30v5.89h-1.30zM340.94 171.47h1.30v5.89h-1.30zM343.42 171.47h1.30v5.89h-1.30zM345.89 171.47h1.30v5.89h-1.30zM332.28 177.30h1.30v5.89h-1.30zM338.47 177.30h1.30v5.89h-1.30zM339.71 177.30h1.30v5.89h-1.30zM335.99 183.13h1.30v5.89h-1.30zM343.42 183.13h1.30v5.89h-1.30zM344.65 183.13h1.30v5.89h-1.30zM345.89 194.79h1.30v5.89h-1.30zM339.71 206.45h1.30v5.89h-1.30zM331.05 218.11h1.30v5.89h-1.30zM335.99 218.11h1.30v5.89h-1.30zM344.65 218.11h1.30v5.89h-1.30zM332.28 229.77h1.30v5.89h-1.30zM334.76 229.77h1.30v5.89h-1.30zM344.65 229.77h1.30v5.89h-1.30zM331.05 235.60h1.30v5.89h-1.30zM338.47 235.60h1.30v5.89h-1.30zM340.94 235.60h1.30v5.89h-1.30zM347.13 241.43h1.30v5.89h-1.30zM348.36 241.43h1.30v5.89h-1.30zM329.81 253.09h1.30v5.89h-1.30zM338.47 253.09h1.30v5.89h-1.30zM344.65 253.09h1.30v5.89h-1.30zM345.89 258.92h1.30v5.89h-1.30zM333.52 264.75h1.30v5.89h-1.30zM338.47 264.75h1.30v5.89h-1.30zM342.18 264.75h1.30v5.89h-1.30z"/><path fill="#dbe1ee" d="M338.47 124.83h1.30v5.89h-1.30zM344.65 124.83h1.30v5.89h-1.30zM345.89 124.83h1.30v5.89h-1.30zM338.47 130.66h1.30v5.89h-1.30zM344.65 130.66h1.30v5.89h-1.30zM340.94 142.32h1.30v5.89h-1.30zM340.94 177.30h1.30v5.89h-1.30zM344.65 177.30h1.30v5.89h-1.30zM338.47 183.13h1.30v5.89h-1.30zM339.71 183.13h1.30v5.89h-1.30zM345.89 188.96h1.30v5.89h-1.30zM348.36 188.96h1.30v5.89h-1.30zM333.52 212.28h1.30v5.89h-1.30zM338.47 212.28h1.30v5.89h-1.30zM340.94 212.28h1.30v5.89h-1.30zM344.65 212.28h1.30v5.89h-1.30zM340.94 229.77h1.30v5.89h-1.30zM335.99 235.60h1.30v5.89h-1.30zM339.71 235.60h1.30v5.89h-1.30zM343.42 235.60h1.30v5.89h-1.30zM345.89 235.60h1.30v5.89h-1.30zM337.23 241.43h1.30v5.89h-1.30zM345.89 241.43h1.30v5.89h-1.30zM345.89 264.75h1.30v5.89h-1.30z"/><path fill="#e8ebf1" d="M342.18 124.83h1.30v5.89h-1.30zM343.42 124.83h1.30v5.89h-1.30zM329.81 130.66h1.30v5.89h-1.30zM337.23 130.66h1.30v5.89h-1.30zM339.71 142.32h1.30v5.89h-1.30zM344.65 142.32h1.30v5.89h-1.30zM345.89 142.32h1.30v5.89h-1.30zM347.13 142.32h1.30v5.89h-1.30zM331.05 153.98h1.30v5.89h-1.30zM335.99 153.98h1.30v5.89h-1.30zM344.65 153.98h1.30v5.89h-1.30zM347.13 153.98h1.30v5.89h-1.30zM348.36 153.98h1.30v5.89h-1.30zM333.52 159.81h1.30v5.89h-1.30zM339.71 165.64h1.30v5.89h-1.30zM334.76 171.47h1.30v5.89h-1.30zM333.52 177.30h1.30v5.89h-1.30zM334.76 177.30h1.30v5.89h-1.30zM342.18 177.30h1.30v5.89h-1.30zM345.89 177.30h1.30v5.89h-1.30zM347.13 183.13h1.30v5.89h-1.30zM348.36 183.13h1.30v5.89h-1.30zM332.28 188.96h1.30v5.89h-1.30zM334.76 188.96h1.30v5.89h-1.30zM337.23 188.96h1.30v5.89h-1.30zM344.65 188.96h1.30v5.89h-1.30zM338.47 194.79h1.30v5.89h-1.30zM338.47 206.45h1.30v5.89h-1.30zM329.81 212.28h1.30v5.89h-1.30zM342.18 212.28h1.30v5.89h-1.30zM332.28 218.11h1.30v5.89h-1.30zM334.76 218.11h1.30v5.89h-1.30zM338.47 218.11h1.30v5.89h-1.30zM332.28 223.94h1.30v5.89h-1.30zM338.47 223.94h1.30v5.89h-1.30zM343.42 223.94h1.30v5.89h-1.30zM348.36 223.94h1.30v5.89h-1.30zM339.71 229.77h1.30v5.89h-1.30zM342.18 229.77h1.30v5.89h-1.30zM347.13 229.77h1.30v5.89h-1.30zM327.34 235.60h1.30v5.89h-1.30zM329.81 235.60h1.30v5.89h-1.30zM347.13 235.60h1.30v5.89h-1.30zM348.36 235.60h1.30v5.89h-1.30zM335.99 241.43h1.30v5.89h-1.30zM338.47 247.26h1.30v5.89h-1.30zM339.71 253.09h1.30v5.89h-1.30zM342.18 253.09h1.30v5.89h-1.30zM344.65 258.92h1.30v5.89h-1.30zM331.05 264.75h1.30v5.89h-1.30zM340.94 264.75h1.30v5.89h-1.30z"/><path fill="#8ca5d7" d="M326.10 130.66h1.30v5.89h-1.30zM326.10 206.45h1.30v5.89h-1.30zM343.42 247.26h1.30v5.89h-1.30z"/><path fill="#d4dcec" d="M335.99 130.66h1.30v5.89h-1.30zM345.89 130.66h1.30v5.89h-1.30zM343.42 177.30h1.30v5.89h-1.30zM348.36 177.30h1.30v5.89h-1.30zM329.81 188.96h1.30v5.89h-1.30zM339.71 212.28h1.30v5.89h-1.30zM326.10 218.11h1.30v5.89h-1.30zM342.18 235.60h1.30v5.89h-1.30zM344.65 235.60h1.30v5.89h-1.30zM339.71 247.26h1.30v5.89h-1.30zM338.47 258.92h1.30v5.89h-1.30zM332.28 264.75h1.30v5.89h-1.30z"/><path fill="#b3c3e2" d="M326.10 136.49h1.30v5.89h-1.30zM343.42 136.49h1.30v5.89h-1.30zM343.42 218.11h1.30v5.89h-1.30z"/><path fill="#93aad9" d="M343.42 142.32h1.30v5.89h-1.30zM326.10 258.92h1.30v5.89h-1.30z"/><path fill="#a6b9de" d="M326.10 148.15h1.30v5.89h-1.30z"/><path fill="#ced7ea" d="M329.81 153.98h1.30v5.89h-1.30zM345.89 153.98h1.30v5.89h-1.30z"/><path fill="#c7d2e8" d="M343.42 165.64h1.30v5.89h-1.30z"/><path fill="#85a0d4" d="M326.10 177.30h1.30v5.89h-1.30z"/><path fill="#a0b4dd" d="M343.42 194.79h1.30v5.89h-1.30z"/><path fill="#adbee0" d="M343.42 212.28h1.30v5.89h-1.30z"/><path fill="#99afdb" d="M343.42 253.09h1.30v5.89h-1.30z"/>
<text x="352.6" y="124.0" font-size="5.61" fill="#444" textLength="19.3" lengthAdjust="spacingAndGlyphs">PTPN22</text>
<text x="352.6" y="129.8" font-size="5.61" fill="#444" textLength="10.2" lengthAdjust="spacingAndGlyphs">CD2</text>
<text x="352.6" y="135.7" font-size="5.61" fill="#444" textLength="19.8" lengthAdjust="spacingAndGlyphs">SLAMF1</text>
<text x="352.6" y="141.5" font-size="5.61" fill="#444" textLength="15.9" lengthAdjust="spacingAndGlyphs">CD247</text>
<text x="352.6" y="147.3" font-size="5.61" fill="#444" textLength="15.6" lengthAdjust="spacingAndGlyphs">ZAP70</text>
<text x="352.6" y="153.2" font-size="5.61" fill="#444" textLength="13.0" lengthAdjust="spacingAndGlyphs">CD28</text>
<text x="352.6" y="159.0" font-size="5.61" fill="#444" textLength="12.5" lengthAdjust="spacingAndGlyphs">ICOS</text>
<text x="352.6" y="164.8" font-size="5.61" fill="#444" textLength="15.0" lengthAdjust="spacingAndGlyphs">RHOH</text>
<text x="352.6" y="170.6" font-size="5.61" fill="#444" textLength="9.9" lengthAdjust="spacingAndGlyphs">TXK</text>
<text x="352.6" y="176.5" font-size="5.61" fill="#444" textLength="12.2" lengthAdjust="spacingAndGlyphs">LEF1</text>
<text x="352.6" y="182.3" font-size="5.61" fill="#444" textLength="10.8" lengthAdjust="spacingAndGlyphs">IL7R</text>
<text x="352.6" y="188.1" font-size="5.61" fill="#444" textLength="17.6" lengthAdjust="spacingAndGlyphs">CAMK4</text>
<text x="352.6" y="194.0" font-size="5.61" fill="#444" textLength="12.7" lengthAdjust="spacingAndGlyphs">TCF7</text>
<text x="352.6" y="199.8" font-size="5.61" fill="#444" textLength="7.9" lengthAdjust="spacingAndGlyphs">ITK</text>
<text x="352.6" y="205.6" font-size="5.61" fill="#444" textLength="14.5" lengthAdjust="spacingAndGlyphs">ITPR3</text>
<text x="352.6" y="211.5" font-size="5.61" fill="#444" textLength="19.3" lengthAdjust="spacingAndGlyphs">THEMIS</text>
<text x="352.6" y="217.3" font-size="5.61" fill="#444" textLength="10.2" lengthAdjust="spacingAndGlyphs">CD5</text>
<text x="352.6" y="223.1" font-size="5.61" fill="#444" textLength="17.7" lengthAdjust="spacingAndGlyphs">CRTAM</text>
<text x="352.6" y="228.9" font-size="5.61" fill="#444" textLength="18.1" lengthAdjust="spacingAndGlyphs">PRKCQ</text>
<text x="352.6" y="234.8" font-size="5.61" fill="#444" textLength="16.2" lengthAdjust="spacingAndGlyphs">KLRK1</text>
<text x="352.6" y="240.6" font-size="5.61" fill="#444" textLength="17.9" lengthAdjust="spacingAndGlyphs">PRKCH</text>
<text x="352.6" y="246.4" font-size="5.61" fill="#444" textLength="18.6" lengthAdjust="spacingAndGlyphs">BCL11B</text>
<text x="352.6" y="252.3" font-size="5.61" fill="#444" textLength="24.4" lengthAdjust="spacingAndGlyphs">RASGRP1</text>
<text x="352.6" y="258.1" font-size="5.61" fill="#444" textLength="14.7" lengthAdjust="spacingAndGlyphs">RORA</text>
<text x="352.6" y="263.9" font-size="5.61" fill="#444" textLength="13.6" lengthAdjust="spacingAndGlyphs">IL21R</text>
<text x="352.6" y="269.8" font-size="5.61" fill="#444" textLength="13.9" lengthAdjust="spacingAndGlyphs">CCR7</text>
<text x="292.5" y="195.0" font-size="9.90" fill="#222" text-anchor="middle" transform="rotate(-90 292.5 191.5)">T cell activation</text>
<rect x="410.9" y="9.2" width="26.1" height="5.6" fill="#1e5cf5"/><rect x="439.5" y="9.2" width="25.2" height="5.6" fill="#d8280c"/>
<path fill="#ced7ea" d="M410.90 15.90h1.37v6.22h-1.37zM430.48 22.06h1.37v6.22h-1.37zM431.78 22.06h1.37v6.22h-1.37zM429.17 34.39h1.37v6.22h-1.37zM423.95 40.55h1.37v6.22h-1.37zM435.69 46.71h1.37v6.22h-1.37zM416.12 77.53h1.37v6.22h-1.37zM429.17 77.53h1.37v6.22h-1.37zM434.39 83.69h1.37v6.22h-1.37zM410.90 89.85h1.37v6.22h-1.37zM430.48 89.85h1.37v6.22h-1.37zM429.17 114.50h1.37v6.22h-1.37zM435.69 114.50h1.37v6.22h-1.37zM431.78 132.99h1.37v6.22h-1.37zM417.42 139.15h1.37v6.22h-1.37zM417.42 145.31h1.37v6.22h-1.37zM418.73 145.31h1.37v6.22h-1.37zM426.56 151.48h1.37v6.22h-1.37zM434.39 151.48h1.37v6.22h-1.37zM412.20 157.64h1.37v6.22h-1.37zM427.87 157.64h1.37v6.22h-1.37zM430.48 157.64h1.37v6.22h-1.37z"/><path fill="#dbe1ee" d="M412.20 15.90h1.37v6.22h-1.37zM427.87 15.90h1.37v6.22h-1.37zM418.73 22.06h1.37v6.22h-1.37zM427.87 28.23h1.37v6.22h-1.37zM429.17 28.23h1.37v6.22h-1.37zM430.48 40.55h1.37v6.22h-1.37zM431.78 46.71h1.37v6.22h-1.37zM427.87 52.88h1.37v6.22h-1.37zM423.95 59.04h1.37v6.22h-1.37zM435.69 65.20h1.37v6.22h-1.37zM429.17 71.36h1.37v6.22h-1.37zM429.17 89.85h1.37v6.22h-1.37zM434.39 89.85h1.37v6.22h-1.37zM414.81 96.01h1.37v6.22h-1.37zM412.20 114.50h1.37v6.22h-1.37zM423.95 114.50h1.37v6.22h-1.37zM427.87 114.50h1.37v6.22h-1.37zM410.90 120.66h1.37v6.22h-1.37zM414.81 120.66h1.37v6.22h-1.37zM431.78 120.66h1.37v6.22h-1.37zM435.69 120.66h1.37v6.22h-1.37zM410.90 126.83h1.37v6.22h-1.37zM410.90 139.15h1.37v6.22h-1.37zM414.81 139.15h1.37v6.22h-1.37zM418.73 139.15h1.37v6.22h-1.37zM425.25 139.15h1.37v6.22h-1.37zM429.17 139.15h1.37v6.22h-1.37zM431.78 139.15h1.37v6.22h-1.37zM434.39 139.15h1.37v6.22h-1.37z"/><path fill="#eec0c0" d="M413.51 15.90h1.37v6.22h-1.37zM413.51 28.23h1.37v6.22h-1.37zM421.34 28.23h1.37v6.22h-1.37zM421.34 71.36h1.37v6.22h-1.37zM425.25 108.34h1.37v6.22h-1.37zM429.17 132.99h1.37v6.22h-1.37z"/><path fill="#adbee0" d="M414.81 15.90h1.37v6.22h-1.37zM426.56 15.90h1.37v6.22h-1.37zM418.73 46.71h1.37v6.22h-1.37zM429.17 52.88h1.37v6.22h-1.37zM431.78 59.04h1.37v6.22h-1.37zM434.39 59.04h1.37v6.22h-1.37zM431.78 71.36h1.37v6.22h-1.37zM414.81 89.85h1.37v6.22h-1.37zM431.78 102.18h1.37v6.22h-1.37zM414.81 108.34h1.37v6.22h-1.37zM434.39 108.34h1.37v6.22h-1.37zM426.56 114.50h1.37v6.22h-1.37zM431.78 145.31h1.37v6.22h-1.37zM414.81 157.64h1.37v6.22h-1.37z"/><path fill="#d4dcec" d="M416.12 15.90h1.37v6.22h-1.37zM435.69 15.90h1.37v6.22h-1.37zM414.81 22.06h1.37v6.22h-1.37zM417.42 22.06h1.37v6.22h-1.37zM422.64 22.06h1.37v6.22h-1.37zM416.12 34.39h1.37v6.22h-1.37zM410.90 46.71h1.37v6.22h-1.37zM412.20 46.71h1.37v6.22h-1.37zM414.81 59.04h1.37v6.22h-1.37zM417.42 65.20h1.37v6.22h-1.37zM410.90 71.36h1.37v6.22h-1.37zM414.81 71.36h1.37v6.22h-1.37zM434.39 71.36h1.37v6.22h-1.37zM435.69 71.36h1.37v6.22h-1.37zM410.90 77.53h1.37v6.22h-1.37zM410.90 96.01h1.37v6.22h-1.37zM426.56 96.01h1.37v6.22h-1.37zM412.20 102.18h1.37v6.22h-1.37zM417.42 102.18h1.37v6.22h-1.37zM427.87 108.34h1.37v6.22h-1.37zM435.69 108.34h1.37v6.22h-1.37zM421.34 114.50h1.37v6.22h-1.37zM418.73 120.66h1.37v6.22h-1.37zM425.25 126.83h1.37v6.22h-1.37zM416.12 139.15h1.37v6.22h-1.37zM418.73 157.64h1.37v6.22h-1.37zM426.56 157.64h1.37v6.22h-1.37z"/><path fill="#e8ebf1" d="M417.42 15.90h1.37v6.22h-1.37zM420.03 22.06h1.37v6.22h-1.37zM412.20 28.23h1.37v6.22h-1.37zM425.25 34.39h1.37v6.22h-1.37zM425.25 52.88h1.37v6.22h-1.37zM410.90 65.20h1.37v6.22h-1.37zM418.73 65.20h1.37v6.22h-1.37zM429.17 65.20h1.37v6.22h-1.37zM416.12 71.36h1.37v6.22h-1.37zM422.64 71.36h1.37v6.22h-1.37zM427.87 71.36h1.37v6.22h-1.37zM431.78 77.53h1.37v6.22h-1.37zM412.20 83.69h1.37v6.22h-1.37zM417.42 89.85h1.37v6.22h-1.37zM412.20 96.01h1.37v6.22h-1.37zM417.42 96.01h1.37v6.22h-1.37zM429.17 96.01h1.37v6.22h-1.37zM410.90 102.18h1.37v6.22h-1.37zM412.20 108.34h1.37v6.22h-1.37zM410.90 114.50h1.37v6.22h-1.37zM413.51 114.50h1.37v6.22h-1.37zM430.48 114.50h1.37v6.22h-1.37zM412.20 126.83h1.37v6.22h-1.37zM417.42 126.83h1.37v6.22h-1.37zM422.64 126.83h1.37v6.22h-1.37zM430.48 126.83h1.37v6.22h-1.37zM418.73 132.99h1.37v6.22h-1.37zM422.64 132.99h1.37v6.22h-1.37zM430.48 132.99h1.37v6.22h-1.37zM435.69 132.99h1.37v6.22h-1.37zM435.69 145.31h1.37v6.22h-1.37zM410.90 151.48h1.37v6.22h-1.37zM414.81 151.48h1.37v6.22h-1.37zM418.73 151.48h1.37v6.22h-1.37zM435.69 151.48h1.37v6.22h-1.37zM422.64 157.64h1.37v6.22h-1.37z"/><path fill="#e1e6ef" d="M418.73 15.90h1.37v6.22h-1.37zM434.39 22.06h1.37v6.22h-1.37zM410.90 28.23h1.37v6.22h-1.37zM434.39 28.23h1.37v6.22h-1.37zM414.81 34.39h1.37v6.22h-1.37zM426.56 46.71h1.37v6.22h-1.37zM422.64 52.88h1.37v6.22h-1.37zM418.73 59.04h1.37v6.22h-1.37zM422.64 59.04h1.37v6.22h-1.37zM430.48 59.04h1.37v6.22h-1.37zM412.20 71.36h1.37v6.22h-1.37zM426.56 71.36h1.37v6.22h-1.37zM412.20 77.53h1.37v6.22h-1.37zM418.73 89.85h1.37v6.22h-1.37zM422.64 89.85h1.37v6.22h-1.37zM427.87 102.18h1.37v6.22h-1.37zM410.90 108.34h1.37v6.22h-1.37zM418.73 114.50h1.37v6.22h-1.37zM417.42 120.66h1.37v6.22h-1.37zM421.34 120.66h1.37v6.22h-1.37zM426.56 120.66h1.37v6.22h-1.37zM434.39 120.66h1.37v6.22h-1.37zM426.56 126.83h1.37v6.22h-1.37zM429.17 126.83h1.37v6.22h-1.37zM435.69 139.15h1.37v6.22h-1.37z"/><path fill="#f5f5f5" d="M420.03 15.90h1.37v6.22h-1.37zM421.34 15.90h1.37v6.22h-1.37zM423.95 15.90h1.37v6.22h-1.37zM423.95 22.06h1.37v6.22h-1.37zM417.42 34.39h1.37v6.22h-1.37zM422.64 34.39h1.37v6.22h-1.37zM410.90 40.55h1.37v6.22h-1.37zM422.64 40.55h1.37v6.22h-1.37zM427.87 40.55h1.37v6.22h-1.37zM429.17 40.55h1.37v6.22h-1.37zM417.42 46.71h1.37v6.22h-1.37zM429.17 46.71h1.37v6.22h-1.37zM413.51 52.88h1.37v6.22h-1.37zM416.12 52.88h1.37v6.22h-1.37zM417.42 52.88h1.37v6.22h-1.37zM420.03 59.04h1.37v6.22h-1.37zM416.12 65.20h1.37v6.22h-1.37zM422.64 65.20h1.37v6.22h-1.37zM425.25 65.20h1.37v6.22h-1.37zM427.87 65.20h1.37v6.22h-1.37zM418.73 71.36h1.37v6.22h-1.37zM413.51 83.69h1.37v6.22h-1.37zM422.64 83.69h1.37v6.22h-1.37zM425.25 83.69h1.37v6.22h-1.37zM435.69 83.69h1.37v6.22h-1.37zM423.95 89.85h1.37v6.22h-1.37zM416.12 102.18h1.37v6.22h-1.37zM422.64 102.18h1.37v6.22h-1.37zM421.34 108.34h1.37v6.22h-1.37zM430.48 108.34h1.37v6.22h-1.37zM417.42 114.50h1.37v6.22h-1.37zM429.17 120.66h1.37v6.22h-1.37zM430.48 120.66h1.37v6.22h-1.37zM413.51 126.83h1.37v6.22h-1.37zM416.12 126.83h1.37v6.22h-1.37zM423.95 126.83h1.37v6.22h-1.37zM435.69 126.83h1.37v6.22h-1.37zM413.51 139.15h1.37v6.22h-1.37zM422.64 139.15h1.37v6.22h-1.37zM427.87 145.31h1.37v6.22h-1.37zM433.08 145.31h1.37v6.22h-1.37zM412.20 151.48h1.37v6.22h-1.37zM425.25 151.48h1.37v6.22h-1.37zM413.51 157.64h1.37v6.22h-1.37z"/><path fill="#f3e9e9" d="M422.64 15.90h1.37v6.22h-1.37zM413.51 22.06h1.37v6.22h-1.37zM426.56 22.06h1.37v6.22h-1.37zM418.73 28.23h1.37v6.22h-1.37zM425.25 28.23h1.37v6.22h-1.37zM410.90 34.39h1.37v6.22h-1.37zM425.25 40.55h1.37v6.22h-1.37zM433.08 40.55h1.37v6.22h-1.37zM433.08 46.71h1.37v6.22h-1.37zM421.34 52.88h1.37v6.22h-1.37zM413.51 59.04h1.37v6.22h-1.37zM416.12 59.04h1.37v6.22h-1.37zM429.17 59.04h1.37v6.22h-1.37zM413.51 65.20h1.37v6.22h-1.37zM423.95 71.36h1.37v6.22h-1.37zM413.51 77.53h1.37v6.22h-1.37zM413.51 96.01h1.37v6.22h-1.37zM433.08 96.01h1.37v6.22h-1.37zM413.51 108.34h1.37v6.22h-1.37zM433.08 120.66h1.37v6.22h-1.37zM421.34 126.83h1.37v6.22h-1.37zM433.08 126.83h1.37v6.22h-1.37zM417.42 132.99h1.37v6.22h-1.37zM416.12 151.48h1.37v6.22h-1.37z"/><path fill="#f4efef" d="M425.25 15.90h1.37v6.22h-1.37zM429.17 15.90h1.37v6.22h-1.37zM435.69 28.23h1.37v6.22h-1.37zM420.03 34.39h1.37v6.22h-1.37zM418.73 40.55h1.37v6.22h-1.37zM417.42 59.04h1.37v6.22h-1.37zM420.03 65.20h1.37v6.22h-1.37zM417.42 71.36h1.37v6.22h-1.37zM430.48 77.53h1.37v6.22h-1.37zM431.78 83.69h1.37v6.22h-1.37zM420.03 89.85h1.37v6.22h-1.37zM430.48 96.01h1.37v6.22h-1.37zM420.03 102.18h1.37v6.22h-1.37zM421.34 102.18h1.37v6.22h-1.37zM420.03 108.34h1.37v6.22h-1.37zM425.25 120.66h1.37v6.22h-1.37zM418.73 126.83h1.37v6.22h-1.37zM410.90 132.99h1.37v6.22h-1.37zM421.34 145.31h1.37v6.22h-1.37zM423.95 145.31h1.37v6.22h-1.37zM417.42 151.48h1.37v6.22h-1.37zM429.17 151.48h1.37v6.22h-1.37zM421.34 157.64h1.37v6.22h-1.37z"/><path fill="#bac8e4" d="M430.48 15.90h1.37v6.22h-1.37zM435.69 34.39h1.37v6.22h-1.37zM414.81 46.71h1.37v6.22h-1.37zM430.48 52.88h1.37v6.22h-1.37zM431.78 52.88h1.37v6.22h-1.37zM435.69 52.88h1.37v6.22h-1.37zM410.90 59.04h1.37v6.22h-1.37zM412.20 65.20h1.37v6.22h-1.37zM417.42 77.53h1.37v6.22h-1.37zM426.56 77.53h1.37v6.22h-1.37zM412.20 89.85h1.37v6.22h-1.37zM422.64 108.34h1.37v6.22h-1.37zM427.87 126.83h1.37v6.22h-1.37zM410.90 157.64h1.37v6.22h-1.37zM416.12 157.64h1.37v6.22h-1.37z"/><path fill="#c0cde6" d="M431.78 15.90h1.37v6.22h-1.37zM434.39 15.90h1.37v6.22h-1.37zM414.81 28.23h1.37v6.22h-1.37zM412.20 34.39h1.37v6.22h-1.37zM414.81 40.55h1.37v6.22h-1.37zM426.56 40.55h1.37v6.22h-1.37zM410.90 52.88h1.37v6.22h-1.37zM418.73 52.88h1.37v6.22h-1.37zM421.34 59.04h1.37v6.22h-1.37zM425.25 59.04h1.37v6.22h-1.37zM414.81 65.20h1.37v6.22h-1.37zM431.78 96.01h1.37v6.22h-1.37zM426.56 108.34h1.37v6.22h-1.37zM431.78 108.34h1.37v6.22h-1.37zM431.78 114.50h1.37v6.22h-1.37zM426.56 145.31h1.37v6.22h-1.37zM425.25 157.64h1.37v6.22h-1.37z"/><path fill="#efcbcb" d="M433.08 15.90h1.37v6.22h-1.37zM433.08 22.06h1.37v6.22h-1.37zM420.03 28.23h1.37v6.22h-1.37zM430.48 34.39h1.37v6.22h-1.37zM410.90 83.69h1.37v6.22h-1.37zM417.42 83.69h1.37v6.22h-1.37zM423.95 96.01h1.37v6.22h-1.37zM425.25 96.01h1.37v6.22h-1.37zM413.51 102.18h1.37v6.22h-1.37zM420.03 114.50h1.37v6.22h-1.37zM420.03 126.83h1.37v6.22h-1.37zM420.03 145.31h1.37v6.22h-1.37zM430.48 151.48h1.37v6.22h-1.37z"/><path fill="#eef0f3" d="M410.90 22.06h1.37v6.22h-1.37zM426.56 34.39h1.37v6.22h-1.37zM427.87 34.39h1.37v6.22h-1.37zM416.12 46.71h1.37v6.22h-1.37zM425.25 46.71h1.37v6.22h-1.37zM427.87 46.71h1.37v6.22h-1.37zM434.39 46.71h1.37v6.22h-1.37zM430.48 65.20h1.37v6.22h-1.37zM418.73 77.53h1.37v6.22h-1.37zM418.73 83.69h1.37v6.22h-1.37zM433.08 83.69h1.37v6.22h-1.37zM416.12 96.01h1.37v6.22h-1.37zM418.73 96.01h1.37v6.22h-1.37zM427.87 96.01h1.37v6.22h-1.37zM425.25 102.18h1.37v6.22h-1.37zM429.17 102.18h1.37v6.22h-1.37zM430.48 102.18h1.37v6.22h-1.37zM417.42 108.34h1.37v6.22h-1.37zM422.64 114.50h1.37v6.22h-1.37zM414.81 132.99h1.37v6.22h-1.37zM426.56 132.99h1.37v6.22h-1.37zM430.48 139.15h1.37v6.22h-1.37zM435.69 157.64h1.37v6.22h-1.37z"/><path fill="#b3c3e2" d="M412.20 22.06h1.37v6.22h-1.37zM431.78 28.23h1.37v6.22h-1.37zM431.78 34.39h1.37v6.22h-1.37zM434.39 34.39h1.37v6.22h-1.37zM412.20 40.55h1.37v6.22h-1.37zM412.20 52.88h1.37v6.22h-1.37zM426.56 52.88h1.37v6.22h-1.37zM412.20 59.04h1.37v6.22h-1.37zM426.56 59.04h1.37v6.22h-1.37zM435.69 59.04h1.37v6.22h-1.37zM426.56 89.85h1.37v6.22h-1.37zM422.64 96.01h1.37v6.22h-1.37zM418.73 102.18h1.37v6.22h-1.37zM434.39 114.50h1.37v6.22h-1.37zM414.81 126.83h1.37v6.22h-1.37zM426.56 139.15h1.37v6.22h-1.37zM431.78 151.48h1.37v6.22h-1.37z"/><path fill="#f3e3e3" d="M416.12 22.06h1.37v6.22h-1.37zM421.34 22.06h1.37v6.22h-1.37zM425.25 22.06h1.37v6.22h-1.37zM416.12 28.23h1.37v6.22h-1.37zM423.95 34.39h1.37v6.22h-1.37zM417.42 40.55h1.37v6.22h-1.37zM430.48 46.71h1.37v6.22h-1.37zM423.95 65.20h1.37v6.22h-1.37zM433.08 65.20h1.37v6.22h-1.37zM433.08 77.53h1.37v6.22h-1.37zM416.12 83.69h1.37v6.22h-1.37zM429.17 83.69h1.37v6.22h-1.37zM413.51 89.85h1.37v6.22h-1.37zM420.03 96.01h1.37v6.22h-1.37zM423.95 102.18h1.37v6.22h-1.37zM416.12 108.34h1.37v6.22h-1.37zM412.20 132.99h1.37v6.22h-1.37zM427.87 132.99h1.37v6.22h-1.37zM420.03 139.15h1.37v6.22h-1.37zM422.64 145.31h1.37v6.22h-1.37zM429.17 145.31h1.37v6.22h-1.37zM420.03 157.64h1.37v6.22h-1.37zM423.95 157.64h1.37v6.22h-1.37z"/><path fill="#a6b9de" d="M427.87 22.06h1.37v6.22h-1.37zM426.56 28.23h1.37v6.22h-1.37zM431.78 40.55h1.37v6.22h-1.37zM435.69 77.53h1.37v6.22h-1.37zM434.39 96.01h1.37v6.22h-1.37zM435.69 102.18h1.37v6.22h-1.37zM414.81 114.50h1.37v6.22h-1.37zM412.20 139.15h1.37v6.22h-1.37zM414.81 145.31h1.37v6.22h-1.37zM434.39 145.31h1.37v6.22h-1.37z"/><path fill="#f1d7d7" d="M429.17 22.06h1.37v6.22h-1.37zM433.08 34.39h1.37v6.22h-1.37zM420.03 46.71h1.37v6.22h-1.37zM425.25 71.36h1.37v6.22h-1.37zM420.03 83.69h1.37v6.22h-1.37zM430.48 83.69h1.37v6.22h-1.37zM421.34 89.85h1.37v6.22h-1.37zM433.08 89.85h1.37v6.22h-1.37zM433.08 102.18h1.37v6.22h-1.37zM429.17 108.34h1.37v6.22h-1.37zM416.12 114.50h1.37v6.22h-1.37zM425.25 114.50h1.37v6.22h-1.37zM433.08 114.50h1.37v6.22h-1.37zM422.64 120.66h1.37v6.22h-1.37zM425.25 145.31h1.37v6.22h-1.37zM422.64 151.48h1.37v6.22h-1.37z"/><path fill="#c7d2e8" d="M435.69 22.06h1.37v6.22h-1.37zM418.73 34.39h1.37v6.22h-1.37zM434.39 40.55h1.37v6.22h-1.37zM435.69 40.55h1.37v6.22h-1.37zM426.56 65.20h1.37v6.22h-1.37zM434.39 65.20h1.37v6.22h-1.37zM422.64 77.53h1.37v6.22h-1.37zM426.56 83.69h1.37v6.22h-1.37zM416.12 89.85h1.37v6.22h-1.37zM427.87 89.85h1.37v6.22h-1.37zM414.81 102.18h1.37v6.22h-1.37zM426.56 102.18h1.37v6.22h-1.37zM418.73 108.34h1.37v6.22h-1.37zM412.20 120.66h1.37v6.22h-1.37zM416.12 120.66h1.37v6.22h-1.37zM427.87 120.66h1.37v6.22h-1.37zM434.39 132.99h1.37v6.22h-1.37zM427.87 139.15h1.37v6.22h-1.37zM410.90 145.31h1.37v6.22h-1.37zM412.20 145.31h1.37v6.22h-1.37zM430.48 145.31h1.37v6.22h-1.37zM417.42 157.64h1.37v6.22h-1.37zM429.17 157.64h1.37v6.22h-1.37zM431.78 157.64h1.37v6.22h-1.37z"/><path fill="#f2dddd" d="M417.42 28.23h1.37v6.22h-1.37zM430.48 28.23h1.37v6.22h-1.37zM413.51 34.39h1.37v6.22h-1.37zM413.51 40.55h1.37v6.22h-1.37zM421.34 46.71h1.37v6.22h-1.37zM422.64 46.71h1.37v6.22h-1.37zM420.03 52.88h1.37v6.22h-1.37zM433.08 59.04h1.37v6.22h-1.37zM421.34 65.20h1.37v6.22h-1.37zM413.51 71.36h1.37v6.22h-1.37zM430.48 71.36h1.37v6.22h-1.37zM423.95 83.69h1.37v6.22h-1.37zM427.87 83.69h1.37v6.22h-1.37zM423.95 108.34h1.37v6.22h-1.37zM420.03 120.66h1.37v6.22h-1.37zM423.95 120.66h1.37v6.22h-1.37zM425.25 132.99h1.37v6.22h-1.37zM421.34 139.15h1.37v6.22h-1.37zM433.08 139.15h1.37v6.22h-1.37zM413.51 145.31h1.37v6.22h-1.37zM427.87 151.48h1.37v6.22h-1.37zM433.08 157.64h1.37v6.22h-1.37z"/><path fill="#f0d1d1" d="M422.64 28.23h1.37v6.22h-1.37zM423.95 28.23h1.37v6.22h-1.37zM433.08 28.23h1.37v6.22h-1.37zM421.34 34.39h1.37v6.22h-1.37zM416.12 40.55h1.37v6.22h-1.37zM420.03 40.55h1.37v6.22h-1.37zM421.34 40.55h1.37v6.22h-1.37zM413.51 46.71h1.37v6.22h-1.37zM423.95 52.88h1.37v6.22h-1.37zM420.03 71.36h1.37v6.22h-1.37zM420.03 77.53h1.37v6.22h-1.37zM421.34 77.53h1.37v6.22h-1.37zM425.25 77.53h1.37v6.22h-1.37zM421.34 83.69h1.37v6.22h-1.37zM421.34 96.01h1.37v6.22h-1.37zM413.51 120.66h1.37v6.22h-1.37zM416.12 132.99h1.37v6.22h-1.37zM423.95 139.15h1.37v6.22h-1.37zM416.12 145.31h1.37v6.22h-1.37zM420.03 151.48h1.37v6.22h-1.37zM423.95 151.48h1.37v6.22h-1.37z"/><path fill="#edbaba" d="M423.95 46.71h1.37v6.22h-1.37zM413.51 151.48h1.37v6.22h-1.37z"/><path fill="#99afdb" d="M414.81 52.88h1.37v6.22h-1.37zM427.87 59.04h1.37v6.22h-1.37zM431.78 65.20h1.37v6.22h-1.37zM431.78 126.83h1.37v6.22h-1.37z"/><path fill="#eec6c6" d="M433.08 52.88h1.37v6.22h-1.37zM421.34 151.48h1.37v6.22h-1.37z"/><path fill="#85a0d4" d="M434.39 52.88h1.37v6.22h-1.37zM434.39 77.53h1.37v6.22h-1.37zM431.78 89.85h1.37v6.22h-1.37zM434.39 157.64h1.37v6.22h-1.37z"/><path fill="#ebaeae" d="M433.08 71.36h1.37v6.22h-1.37zM420.03 132.99h1.37v6.22h-1.37z"/><path fill="#93aad9" d="M414.81 77.53h1.37v6.22h-1.37zM435.69 96.01h1.37v6.22h-1.37zM434.39 102.18h1.37v6.22h-1.37z"/><path fill="#ecb4b4" d="M423.95 77.53h1.37v6.22h-1.37zM425.25 89.85h1.37v6.22h-1.37zM421.34 132.99h1.37v6.22h-1.37zM423.95 132.99h1.37v6.22h-1.37zM433.08 151.48h1.37v6.22h-1.37z"/><path fill="#a0b4dd" d="M427.87 77.53h1.37v6.22h-1.37zM414.81 83.69h1.37v6.22h-1.37zM434.39 126.83h1.37v6.22h-1.37z"/><path fill="#8ca5d7" d="M435.69 89.85h1.37v6.22h-1.37z"/><path fill="#eaa8a8" d="M433.08 108.34h1.37v6.22h-1.37z"/><path fill="#eaa2a2" d="M413.51 132.99h1.37v6.22h-1.37zM433.08 132.99h1.37v6.22h-1.37z"/>
<path fill="#f3e9e9" d="M439.50 15.90h1.32v6.22h-1.32zM455.88 15.90h1.32v6.22h-1.32zM463.44 15.90h1.32v6.22h-1.32zM453.36 22.06h1.32v6.22h-1.32zM442.02 28.23h1.32v6.22h-1.32zM449.58 46.71h1.32v6.22h-1.32zM443.28 52.88h1.32v6.22h-1.32zM449.58 59.04h1.32v6.22h-1.32zM445.80 65.20h1.32v6.22h-1.32zM452.10 71.36h1.32v6.22h-1.32zM442.02 77.53h1.32v6.22h-1.32zM443.28 77.53h1.32v6.22h-1.32zM444.54 77.53h1.32v6.22h-1.32zM448.32 77.53h1.32v6.22h-1.32zM452.10 77.53h1.32v6.22h-1.32zM454.62 77.53h1.32v6.22h-1.32zM453.36 83.69h1.32v6.22h-1.32zM455.88 89.85h1.32v6.22h-1.32zM445.80 96.01h1.32v6.22h-1.32zM450.84 96.01h1.32v6.22h-1.32zM458.40 96.01h1.32v6.22h-1.32zM444.54 102.18h1.32v6.22h-1.32zM455.88 108.34h1.32v6.22h-1.32zM459.66 120.66h1.32v6.22h-1.32zM462.18 120.66h1.32v6.22h-1.32zM454.62 126.83h1.32v6.22h-1.32zM442.02 132.99h1.32v6.22h-1.32zM450.84 139.15h1.32v6.22h-1.32zM453.36 139.15h1.32v6.22h-1.32zM449.58 145.31h1.32v6.22h-1.32zM455.88 145.31h1.32v6.22h-1.32zM463.44 151.48h1.32v6.22h-1.32zM450.84 157.64h1.32v6.22h-1.32z"/><path fill="#eec6c6" d="M440.76 15.90h1.32v6.22h-1.32zM447.06 22.06h1.32v6.22h-1.32zM454.62 22.06h1.32v6.22h-1.32zM442.02 34.39h1.32v6.22h-1.32zM448.32 34.39h1.32v6.22h-1.32zM445.80 40.55h1.32v6.22h-1.32zM440.76 59.04h1.32v6.22h-1.32zM440.76 65.20h1.32v6.22h-1.32zM455.88 65.20h1.32v6.22h-1.32zM447.06 83.69h1.32v6.22h-1.32zM444.54 89.85h1.32v6.22h-1.32zM454.62 96.01h1.32v6.22h-1.32zM442.02 108.34h1.32v6.22h-1.32zM459.66 108.34h1.32v6.22h-1.32zM444.54 114.50h1.32v6.22h-1.32zM440.76 126.83h1.32v6.22h-1.32zM448.32 126.83h1.32v6.22h-1.32zM454.62 132.99h1.32v6.22h-1.32zM452.10 151.48h1.32v6.22h-1.32z"/><path fill="#ebaeae" d="M442.02 15.90h1.32v6.22h-1.32zM445.80 22.06h1.32v6.22h-1.32zM440.76 28.23h1.32v6.22h-1.32zM452.10 83.69h1.32v6.22h-1.32zM447.06 102.18h1.32v6.22h-1.32zM457.14 120.66h1.32v6.22h-1.32zM444.54 126.83h1.32v6.22h-1.32zM457.14 126.83h1.32v6.22h-1.32zM447.06 132.99h1.32v6.22h-1.32z"/><path fill="#f3e3e3" d="M443.28 15.90h1.32v6.22h-1.32zM453.36 15.90h1.32v6.22h-1.32zM454.62 15.90h1.32v6.22h-1.32zM448.32 22.06h1.32v6.22h-1.32zM449.58 22.06h1.32v6.22h-1.32zM452.10 22.06h1.32v6.22h-1.32zM455.88 22.06h1.32v6.22h-1.32zM450.84 28.23h1.32v6.22h-1.32zM454.62 28.23h1.32v6.22h-1.32zM455.88 34.39h1.32v6.22h-1.32zM459.66 34.39h1.32v6.22h-1.32zM440.76 46.71h1.32v6.22h-1.32zM445.80 46.71h1.32v6.22h-1.32zM447.06 52.88h1.32v6.22h-1.32zM450.84 52.88h1.32v6.22h-1.32zM448.32 59.04h1.32v6.22h-1.32zM457.14 65.20h1.32v6.22h-1.32zM442.02 71.36h1.32v6.22h-1.32zM447.06 71.36h1.32v6.22h-1.32zM454.62 71.36h1.32v6.22h-1.32zM459.66 71.36h1.32v6.22h-1.32zM463.44 83.69h1.32v6.22h-1.32zM448.32 89.85h1.32v6.22h-1.32zM449.58 96.01h1.32v6.22h-1.32zM443.28 102.18h1.32v6.22h-1.32zM448.32 102.18h1.32v6.22h-1.32zM459.66 102.18h1.32v6.22h-1.32zM440.76 108.34h1.32v6.22h-1.32zM450.84 120.66h1.32v6.22h-1.32zM449.58 132.99h1.32v6.22h-1.32zM455.88 132.99h1.32v6.22h-1.32zM463.44 132.99h1.32v6.22h-1.32zM463.44 139.15h1.32v6.22h-1.32zM443.28 145.31h1.32v6.22h-1.32zM444.54 145.31h1.32v6.22h-1.32zM448.32 145.31h1.32v6.22h-1.32zM457.14 145.31h1.32v6.22h-1.32zM442.02 151.48h1.32v6.22h-1.32zM449.58 151.48h1.32v6.22h-1.32zM455.88 151.48h1.32v6.22h-1.32zM444.54 157.64h1.32v6.22h-1.32zM453.36 157.64h1.32v6.22h-1.32zM454.62 157.64h1.32v6.22h-1.32z"/><path fill="#eec0c0" d="M444.54 15.90h1.32v6.22h-1.32zM439.50 22.06h1.32v6.22h-1.32zM457.14 22.06h1.32v6.22h-1.32zM445.80 34.39h1.32v6.22h-1.32zM447.06 34.39h1.32v6.22h-1.32zM457.14 34.39h1.32v6.22h-1.32zM457.14 40.55h1.32v6.22h-1.32zM444.54 46.71h1.32v6.22h-1.32zM447.06 46.71h1.32v6.22h-1.32zM457.14 46.71h1.32v6.22h-1.32zM457.14 52.88h1.32v6.22h-1.32zM453.36 65.20h1.32v6.22h-1.32zM444.54 71.36h1.32v6.22h-1.32zM445.80 77.53h1.32v6.22h-1.32zM457.14 83.69h1.32v6.22h-1.32zM443.28 89.85h1.32v6.22h-1.32zM457.14 89.85h1.32v6.22h-1.32zM440.76 96.01h1.32v6.22h-1.32zM457.14 102.18h1.32v6.22h-1.32zM454.62 151.48h1.32v6.22h-1.32zM448.32 157.64h1.32v6.22h-1.32z"/><path fill="#efcbcb" d="M445.80 15.90h1.32v6.22h-1.32zM457.14 15.90h1.32v6.22h-1.32zM440.76 22.06h1.32v6.22h-1.32zM445.80 28.23h1.32v6.22h-1.32zM442.02 46.71h1.32v6.22h-1.32zM443.28 46.71h1.32v6.22h-1.32zM450.84 46.71h1.32v6.22h-1.32zM454.62 46.71h1.32v6.22h-1.32zM448.32 65.20h1.32v6.22h-1.32zM445.80 71.36h1.32v6.22h-1.32zM453.36 77.53h1.32v6.22h-1.32zM457.14 77.53h1.32v6.22h-1.32zM459.66 77.53h1.32v6.22h-1.32zM444.54 83.69h1.32v6.22h-1.32zM463.44 89.85h1.32v6.22h-1.32zM442.02 102.18h1.32v6.22h-1.32zM442.02 114.50h1.32v6.22h-1.32zM447.06 126.83h1.32v6.22h-1.32zM452.10 126.83h1.32v6.22h-1.32zM459.66 126.83h1.32v6.22h-1.32zM442.02 139.15h1.32v6.22h-1.32zM445.80 139.15h1.32v6.22h-1.32zM445.80 145.31h1.32v6.22h-1.32z"/><path fill="#f0d1d1" d="M447.06 15.90h1.32v6.22h-1.32zM442.02 22.06h1.32v6.22h-1.32zM459.66 22.06h1.32v6.22h-1.32zM463.44 34.39h1.32v6.22h-1.32zM454.62 40.55h1.32v6.22h-1.32zM452.10 46.71h1.32v6.22h-1.32zM444.54 52.88h1.32v6.22h-1.32zM445.80 52.88h1.32v6.22h-1.32zM444.54 59.04h1.32v6.22h-1.32zM442.02 65.20h1.32v6.22h-1.32zM460.92 65.20h1.32v6.22h-1.32zM463.44 71.36h1.32v6.22h-1.32zM442.02 83.69h1.32v6.22h-1.32zM450.84 83.69h1.32v6.22h-1.32zM454.62 83.69h1.32v6.22h-1.32zM452.10 89.85h1.32v6.22h-1.32zM454.62 89.85h1.32v6.22h-1.32zM452.10 96.01h1.32v6.22h-1.32zM450.84 102.18h1.32v6.22h-1.32zM454.62 108.34h1.32v6.22h-1.32zM440.76 114.50h1.32v6.22h-1.32zM442.02 120.66h1.32v6.22h-1.32zM455.88 120.66h1.32v6.22h-1.32zM453.36 132.99h1.32v6.22h-1.32zM439.50 139.15h1.32v6.22h-1.32zM444.54 139.15h1.32v6.22h-1.32zM447.06 139.15h1.32v6.22h-1.32zM454.62 139.15h1.32v6.22h-1.32zM457.14 139.15h1.32v6.22h-1.32zM454.62 145.31h1.32v6.22h-1.32zM453.36 151.48h1.32v6.22h-1.32zM452.10 157.64h1.32v6.22h-1.32z"/><path fill="#eef0f3" d="M448.32 15.90h1.32v6.22h-1.32zM450.84 15.90h1.32v6.22h-1.32zM460.92 15.90h1.32v6.22h-1.32zM462.18 22.06h1.32v6.22h-1.32zM462.18 28.23h1.32v6.22h-1.32zM440.76 40.55h1.32v6.22h-1.32zM448.32 40.55h1.32v6.22h-1.32zM455.88 40.55h1.32v6.22h-1.32zM449.58 52.88h1.32v6.22h-1.32zM462.18 52.88h1.32v6.22h-1.32zM439.50 65.20h1.32v6.22h-1.32zM458.40 65.20h1.32v6.22h-1.32zM462.18 77.53h1.32v6.22h-1.32zM443.28 83.69h1.32v6.22h-1.32zM443.28 96.01h1.32v6.22h-1.32zM449.58 108.34h1.32v6.22h-1.32zM450.84 108.34h1.32v6.22h-1.32zM453.36 108.34h1.32v6.22h-1.32zM449.58 114.50h1.32v6.22h-1.32zM452.10 114.50h1.32v6.22h-1.32zM460.92 114.50h1.32v6.22h-1.32zM463.44 120.66h1.32v6.22h-1.32zM439.50 126.83h1.32v6.22h-1.32zM460.92 126.83h1.32v6.22h-1.32zM445.80 132.99h1.32v6.22h-1.32zM459.66 139.15h1.32v6.22h-1.32zM463.44 157.64h1.32v6.22h-1.32z"/><path fill="#f4efef" d="M449.58 15.90h1.32v6.22h-1.32zM444.54 28.23h1.32v6.22h-1.32zM452.10 34.39h1.32v6.22h-1.32zM442.02 40.55h1.32v6.22h-1.32zM443.28 40.55h1.32v6.22h-1.32zM444.54 40.55h1.32v6.22h-1.32zM459.66 40.55h1.32v6.22h-1.32zM439.50 46.71h1.32v6.22h-1.32zM453.36 46.71h1.32v6.22h-1.32zM455.88 46.71h1.32v6.22h-1.32zM459.66 46.71h1.32v6.22h-1.32zM448.32 52.88h1.32v6.22h-1.32zM459.66 52.88h1.32v6.22h-1.32zM452.10 59.04h1.32v6.22h-1.32zM462.18 65.20h1.32v6.22h-1.32zM453.36 71.36h1.32v6.22h-1.32zM455.88 71.36h1.32v6.22h-1.32zM439.50 77.53h1.32v6.22h-1.32zM450.84 89.85h1.32v6.22h-1.32zM448.32 96.01h1.32v6.22h-1.32zM459.66 96.01h1.32v6.22h-1.32zM453.36 102.18h1.32v6.22h-1.32zM455.88 102.18h1.32v6.22h-1.32zM462.18 108.34h1.32v6.22h-1.32zM439.50 114.50h1.32v6.22h-1.32zM443.28 120.66h1.32v6.22h-1.32zM449.58 120.66h1.32v6.22h-1.32zM455.88 126.83h1.32v6.22h-1.32zM459.66 132.99h1.32v6.22h-1.32zM453.36 145.31h1.32v6.22h-1.32zM443.28 151.48h1.32v6.22h-1.32zM444.54 151.48h1.32v6.22h-1.32zM459.66 151.48h1.32v6.22h-1.32zM439.50 157.64h1.32v6.22h-1.32zM455.88 157.64h1.32v6.22h-1.32z"/><path fill="#e8ebf1" d="M452.10 15.90h1.32v6.22h-1.32zM452.10 28.23h1.32v6.22h-1.32zM453.36 28.23h1.32v6.22h-1.32zM462.18 34.39h1.32v6.22h-1.32zM462.18 46.71h1.32v6.22h-1.32zM443.28 59.04h1.32v6.22h-1.32zM450.84 71.36h1.32v6.22h-1.32zM460.92 71.36h1.32v6.22h-1.32zM460.92 77.53h1.32v6.22h-1.32zM455.88 83.69h1.32v6.22h-1.32zM460.92 83.69h1.32v6.22h-1.32zM453.36 89.85h1.32v6.22h-1.32zM460.92 89.85h1.32v6.22h-1.32zM455.88 96.01h1.32v6.22h-1.32zM460.92 102.18h1.32v6.22h-1.32zM449.58 126.83h1.32v6.22h-1.32zM450.84 126.83h1.32v6.22h-1.32zM448.32 132.99h1.32v6.22h-1.32zM452.10 145.31h1.32v6.22h-1.32zM462.18 151.48h1.32v6.22h-1.32zM447.06 157.64h1.32v6.22h-1.32zM460.92 157.64h1.32v6.22h-1.32z"/><path fill="#d4dcec" d="M458.40 15.90h1.32v6.22h-1.32zM443.28 22.06h1.32v6.22h-1.32zM450.84 22.06h1.32v6.22h-1.32zM460.92 22.06h1.32v6.22h-1.32zM453.36 40.55h1.32v6.22h-1.32zM458.40 40.55h1.32v6.22h-1.32zM460.92 59.04h1.32v6.22h-1.32zM443.28 65.20h1.32v6.22h-1.32zM462.18 102.18h1.32v6.22h-1.32zM439.50 108.34h1.32v6.22h-1.32zM445.80 108.34h1.32v6.22h-1.32zM443.28 114.50h1.32v6.22h-1.32zM459.66 114.50h1.32v6.22h-1.32zM443.28 139.15h1.32v6.22h-1.32zM449.58 139.15h1.32v6.22h-1.32zM460.92 145.31h1.32v6.22h-1.32zM459.66 157.64h1.32v6.22h-1.32z"/><path fill="#f2dddd" d="M459.66 15.90h1.32v6.22h-1.32zM448.32 28.23h1.32v6.22h-1.32zM463.44 28.23h1.32v6.22h-1.32zM444.54 34.39h1.32v6.22h-1.32zM458.40 34.39h1.32v6.22h-1.32zM447.06 40.55h1.32v6.22h-1.32zM449.58 40.55h1.32v6.22h-1.32zM458.40 46.71h1.32v6.22h-1.32zM463.44 46.71h1.32v6.22h-1.32zM453.36 52.88h1.32v6.22h-1.32zM452.10 65.20h1.32v6.22h-1.32zM463.44 65.20h1.32v6.22h-1.32zM455.88 77.53h1.32v6.22h-1.32zM463.44 77.53h1.32v6.22h-1.32zM449.58 83.69h1.32v6.22h-1.32zM459.66 89.85h1.32v6.22h-1.32zM462.18 89.85h1.32v6.22h-1.32zM444.54 96.01h1.32v6.22h-1.32zM463.44 96.01h1.32v6.22h-1.32zM448.32 108.34h1.32v6.22h-1.32zM452.10 108.34h1.32v6.22h-1.32zM450.84 114.50h1.32v6.22h-1.32zM454.62 114.50h1.32v6.22h-1.32zM455.88 114.50h1.32v6.22h-1.32zM444.54 120.66h1.32v6.22h-1.32zM453.36 120.66h1.32v6.22h-1.32zM442.02 126.83h1.32v6.22h-1.32zM443.28 132.99h1.32v6.22h-1.32zM462.18 132.99h1.32v6.22h-1.32zM448.32 139.15h1.32v6.22h-1.32zM458.40 139.15h1.32v6.22h-1.32zM459.66 145.31h1.32v6.22h-1.32zM450.84 151.48h1.32v6.22h-1.32zM445.80 157.64h1.32v6.22h-1.32zM449.58 157.64h1.32v6.22h-1.32z"/><path fill="#bac8e4" d="M462.18 15.90h1.32v6.22h-1.32zM443.28 28.23h1.32v6.22h-1.32zM439.50 59.04h1.32v6.22h-1.32zM458.40 83.69h1.32v6.22h-1.32zM458.40 89.85h1.32v6.22h-1.32z"/><path fill="#edbaba" d="M444.54 22.06h1.32v6.22h-1.32zM440.76 52.88h1.32v6.22h-1.32zM454.62 59.04h1.32v6.22h-1.32zM445.80 83.69h1.32v6.22h-1.32zM445.80 89.85h1.32v6.22h-1.32zM442.02 96.01h1.32v6.22h-1.32zM457.14 96.01h1.32v6.22h-1.32zM448.32 120.66h1.32v6.22h-1.32zM453.36 126.83h1.32v6.22h-1.32zM450.84 132.99h1.32v6.22h-1.32zM457.14 132.99h1.32v6.22h-1.32zM440.76 151.48h1.32v6.22h-1.32zM457.14 151.48h1.32v6.22h-1.32z"/><path fill="#f1d7d7" d="M458.40 22.06h1.32v6.22h-1.32zM463.44 22.06h1.32v6.22h-1.32zM439.50 34.39h1.32v6.22h-1.32zM440.76 34.39h1.32v6.22h-1.32zM449.58 34.39h1.32v6.22h-1.32zM453.36 34.39h1.32v6.22h-1.32zM463.44 40.55h1.32v6.22h-1.32zM448.32 46.71h1.32v6.22h-1.32zM454.62 52.88h1.32v6.22h-1.32zM455.88 52.88h1.32v6.22h-1.32zM442.02 59.04h1.32v6.22h-1.32zM457.14 59.04h1.32v6.22h-1.32zM449.58 71.36h1.32v6.22h-1.32zM447.06 96.01h1.32v6.22h-1.32zM454.62 102.18h1.32v6.22h-1.32zM447.06 108.34h1.32v6.22h-1.32zM445.80 114.50h1.32v6.22h-1.32zM447.06 120.66h1.32v6.22h-1.32zM454.62 120.66h1.32v6.22h-1.32zM445.80 126.83h1.32v6.22h-1.32zM463.44 126.83h1.32v6.22h-1.32zM452.10 132.99h1.32v6.22h-1.32zM463.44 145.31h1.32v6.22h-1.32zM447.06 151.48h1.32v6.22h-1.32zM457.14 157.64h1.32v6.22h-1.32z"/><path fill="#dbe1ee" d="M439.50 28.23h1.32v6.22h-1.32zM449.58 28.23h1.32v6.22h-1.32zM460.92 34.39h1.32v6.22h-1.32zM439.50 40.55h1.32v6.22h-1.32zM455.88 59.04h1.32v6.22h-1.32zM459.66 59.04h1.32v6.22h-1.32zM458.40 77.53h1.32v6.22h-1.32zM439.50 89.85h1.32v6.22h-1.32zM458.40 126.83h1.32v6.22h-1.32zM462.18 126.83h1.32v6.22h-1.32zM439.50 132.99h1.32v6.22h-1.32zM458.40 132.99h1.32v6.22h-1.32zM455.88 139.15h1.32v6.22h-1.32zM460.92 139.15h1.32v6.22h-1.32zM462.18 145.31h1.32v6.22h-1.32zM458.40 151.48h1.32v6.22h-1.32z"/><path fill="#f5f5f5" d="M447.06 28.23h1.32v6.22h-1.32zM455.88 28.23h1.32v6.22h-1.32zM459.66 28.23h1.32v6.22h-1.32zM443.28 34.39h1.32v6.22h-1.32zM450.84 34.39h1.32v6.22h-1.32zM460.92 46.71h1.32v6.22h-1.32zM442.02 52.88h1.32v6.22h-1.32zM452.10 52.88h1.32v6.22h-1.32zM463.44 52.88h1.32v6.22h-1.32zM445.80 59.04h1.32v6.22h-1.32zM447.06 59.04h1.32v6.22h-1.32zM463.44 59.04h1.32v6.22h-1.32zM444.54 65.20h1.32v6.22h-1.32zM459.66 65.20h1.32v6.22h-1.32zM448.32 71.36h1.32v6.22h-1.32zM450.84 77.53h1.32v6.22h-1.32zM439.50 83.69h1.32v6.22h-1.32zM459.66 83.69h1.32v6.22h-1.32zM453.36 96.01h1.32v6.22h-1.32zM458.40 102.18h1.32v6.22h-1.32zM453.36 114.50h1.32v6.22h-1.32zM458.40 114.50h1.32v6.22h-1.32zM439.50 120.66h1.32v6.22h-1.32zM452.10 120.66h1.32v6.22h-1.32zM452.10 139.15h1.32v6.22h-1.32zM442.02 145.31h1.32v6.22h-1.32zM439.50 151.48h1.32v6.22h-1.32z"/><path fill="#ecb4b4" d="M457.14 28.23h1.32v6.22h-1.32zM447.06 65.20h1.32v6.22h-1.32zM450.84 65.20h1.32v6.22h-1.32zM454.62 65.20h1.32v6.22h-1.32zM440.76 77.53h1.32v6.22h-1.32zM449.58 77.53h1.32v6.22h-1.32zM449.58 89.85h1.32v6.22h-1.32zM440.76 102.18h1.32v6.22h-1.32zM445.80 102.18h1.32v6.22h-1.32zM444.54 108.34h1.32v6.22h-1.32zM457.14 108.34h1.32v6.22h-1.32zM457.14 114.50h1.32v6.22h-1.32zM463.44 114.50h1.32v6.22h-1.32zM440.76 139.15h1.32v6.22h-1.32zM442.02 157.64h1.32v6.22h-1.32z"/><path fill="#e1e6ef" d="M458.40 28.23h1.32v6.22h-1.32zM460.92 28.23h1.32v6.22h-1.32zM458.40 52.88h1.32v6.22h-1.32zM460.92 52.88h1.32v6.22h-1.32zM450.84 59.04h1.32v6.22h-1.32zM449.58 65.20h1.32v6.22h-1.32zM440.76 71.36h1.32v6.22h-1.32zM448.32 83.69h1.32v6.22h-1.32zM462.18 96.01h1.32v6.22h-1.32zM439.50 102.18h1.32v6.22h-1.32zM452.10 102.18h1.32v6.22h-1.32zM463.44 102.18h1.32v6.22h-1.32zM460.92 108.34h1.32v6.22h-1.32zM463.44 108.34h1.32v6.22h-1.32zM447.06 114.50h1.32v6.22h-1.32zM458.40 157.64h1.32v6.22h-1.32z"/><path fill="#eaa8a8" d="M454.62 34.39h1.32v6.22h-1.32zM457.14 71.36h1.32v6.22h-1.32zM442.02 89.85h1.32v6.22h-1.32zM449.58 102.18h1.32v6.22h-1.32zM448.32 114.50h1.32v6.22h-1.32zM440.76 120.66h1.32v6.22h-1.32zM440.76 132.99h1.32v6.22h-1.32zM448.32 151.48h1.32v6.22h-1.32z"/><path fill="#c0cde6" d="M450.84 40.55h1.32v6.22h-1.32zM458.40 59.04h1.32v6.22h-1.32zM462.18 83.69h1.32v6.22h-1.32zM458.40 108.34h1.32v6.22h-1.32zM458.40 120.66h1.32v6.22h-1.32zM460.92 132.99h1.32v6.22h-1.32zM460.92 151.48h1.32v6.22h-1.32zM443.28 157.64h1.32v6.22h-1.32z"/><path fill="#b3c3e2" d="M452.10 40.55h1.32v6.22h-1.32zM439.50 96.01h1.32v6.22h-1.32zM443.28 126.83h1.32v6.22h-1.32zM450.84 145.31h1.32v6.22h-1.32z"/><path fill="#c7d2e8" d="M460.92 40.55h1.32v6.22h-1.32zM462.18 40.55h1.32v6.22h-1.32zM439.50 52.88h1.32v6.22h-1.32zM443.28 71.36h1.32v6.22h-1.32zM462.18 71.36h1.32v6.22h-1.32zM460.92 120.66h1.32v6.22h-1.32zM458.40 145.31h1.32v6.22h-1.32z"/><path fill="#ced7ea" d="M453.36 59.04h1.32v6.22h-1.32zM439.50 71.36h1.32v6.22h-1.32zM460.92 96.01h1.32v6.22h-1.32zM462.18 139.15h1.32v6.22h-1.32zM439.50 145.31h1.32v6.22h-1.32zM462.18 157.64h1.32v6.22h-1.32z"/><path fill="#a6b9de" d="M462.18 59.04h1.32v6.22h-1.32z"/><path fill="#adbee0" d="M458.40 71.36h1.32v6.22h-1.32zM443.28 108.34h1.32v6.22h-1.32zM462.18 114.50h1.32v6.22h-1.32z"/><path fill="#e99c9c" d="M447.06 77.53h1.32v6.22h-1.32zM440.76 83.69h1.32v6.22h-1.32zM445.80 120.66h1.32v6.22h-1.32zM440.76 145.31h1.32v6.22h-1.32zM447.06 145.31h1.32v6.22h-1.32zM445.80 151.48h1.32v6.22h-1.32z"/><path fill="#eaa2a2" d="M440.76 89.85h1.32v6.22h-1.32zM440.76 157.64h1.32v6.22h-1.32z"/><path fill="#e89696" d="M447.06 89.85h1.32v6.22h-1.32zM444.54 132.99h1.32v6.22h-1.32z"/>
<text x="466.8" y="21.1" font-size="5.61" fill="#444" textLength="11.6" lengthAdjust="spacingAndGlyphs">IFI44</text>
<text x="466.8" y="27.2" font-size="5.61" fill="#444" textLength="15.9" lengthAdjust="spacingAndGlyphs">CD160</text>
<text x="466.8" y="33.4" font-size="5.61" fill="#444" textLength="16.7" lengthAdjust="spacingAndGlyphs">RGS16</text>
<text x="466.8" y="39.6" font-size="5.61" fill="#444" textLength="13.9" lengthAdjust="spacingAndGlyphs">RGS1</text>
<text x="466.8" y="45.7" font-size="5.61" fill="#444" textLength="13.9" lengthAdjust="spacingAndGlyphs">RGS2</text>
<text x="466.8" y="51.9" font-size="5.61" fill="#444" textLength="12.1" lengthAdjust="spacingAndGlyphs">ATF3</text>
<text x="466.8" y="58.0" font-size="5.61" fill="#444" textLength="7.9" lengthAdjust="spacingAndGlyphs">ID2</text>
<text x="466.8" y="64.2" font-size="5.61" fill="#444" textLength="16.4" lengthAdjust="spacingAndGlyphs">NR4A2</text>
<text x="466.8" y="70.4" font-size="5.61" fill="#444" textLength="14.5" lengthAdjust="spacingAndGlyphs">HOPX</text>
<text x="466.8" y="76.5" font-size="5.61" fill="#444" textLength="11.5" lengthAdjust="spacingAndGlyphs">LY86</text>
<text x="466.8" y="82.7" font-size="5.61" fill="#444" textLength="17.9" lengthAdjust="spacingAndGlyphs">PRDM1</text>
<text x="466.8" y="88.9" font-size="5.61" fill="#444" textLength="27.2" lengthAdjust="spacingAndGlyphs">ARHGAP18</text>
<text x="466.8" y="95.0" font-size="5.61" fill="#444" textLength="13.0" lengthAdjust="spacingAndGlyphs">CD38</text>
<text x="466.8" y="101.2" font-size="5.61" fill="#444" textLength="16.7" lengthAdjust="spacingAndGlyphs">MYBL1</text>
<text x="466.8" y="107.3" font-size="5.61" fill="#444" textLength="13.9" lengthAdjust="spacingAndGlyphs">NFIL3</text>
<text x="466.8" y="113.5" font-size="5.61" fill="#444" textLength="16.4" lengthAdjust="spacingAndGlyphs">NR4A3</text>
<text x="466.8" y="119.7" font-size="5.61" fill="#444" textLength="20.7" lengthAdjust="spacingAndGlyphs">PIK3AP1</text>
<text x="466.8" y="125.8" font-size="5.61" fill="#444" textLength="14.7" lengthAdjust="spacingAndGlyphs">MKI67</text>
<text x="466.8" y="132.0" font-size="5.61" fill="#444" textLength="16.4" lengthAdjust="spacingAndGlyphs">NR4A1</text>
<text x="466.8" y="138.2" font-size="5.61" fill="#444" textLength="16.6" lengthAdjust="spacingAndGlyphs">SPRY2</text>
<text x="466.8" y="144.3" font-size="5.61" fill="#444" textLength="18.4" lengthAdjust="spacingAndGlyphs">NFKBIA</text>
<text x="466.8" y="150.5" font-size="5.61" fill="#444" textLength="12.8" lengthAdjust="spacingAndGlyphs">TPX2</text>
<text x="466.8" y="156.6" font-size="5.61" fill="#444" textLength="23.1" lengthAdjust="spacingAndGlyphs">SERTAD1</text>
<text x="466.8" y="162.8" font-size="5.61" fill="#444" textLength="13.9" lengthAdjust="spacingAndGlyphs">MAFF</text>
<text x="402.6" y="93.3" font-size="9.90" fill="#222" text-anchor="middle" transform="rotate(-90 402.6 89.8)">CD8 T cell exhaustion</text>
<text x="447.8" y="174.6" font-size="9.3" fill="#222" text-anchor="middle"><tspan font-style="italic">z</tspan>−score</text>
<defs><linearGradient id="gz" x1="0" x2="1"><stop offset="0" stop-color="#2152a0"/><stop offset="0.25" stop-color="#8ca6d6"/><stop offset="0.5" stop-color="#f2f2f2"/><stop offset="0.75" stop-color="#e49a9a"/><stop offset="1" stop-color="#b0142c"/></linearGradient></defs>
<rect x="413" y="177.9" width="73.4" height="5.9" fill="url(#gz)"/>
<text x="414.9" y="194.2" font-size="7.80" fill="#222" text-anchor="middle">−4</text>
<line x1="414.9" y1="177.9" x2="414.9" y2="179.3" stroke="#fff" stroke-width="0.5"/><line x1="414.9" y1="182.4" x2="414.9" y2="183.8" stroke="#fff" stroke-width="0.5"/>
<text x="432.0" y="194.2" font-size="7.80" fill="#222" text-anchor="middle">−2</text>
<line x1="432" y1="177.9" x2="432" y2="179.3" stroke="#fff" stroke-width="0.5"/><line x1="432" y1="182.4" x2="432" y2="183.8" stroke="#fff" stroke-width="0.5"/>
<text x="449.0" y="194.2" font-size="7.80" fill="#222" text-anchor="middle">0</text>
<line x1="449" y1="177.9" x2="449" y2="179.3" stroke="#fff" stroke-width="0.5"/><line x1="449" y1="182.4" x2="449" y2="183.8" stroke="#fff" stroke-width="0.5"/>
<text x="466.3" y="194.2" font-size="7.80" fill="#222" text-anchor="middle">+2</text>
<line x1="466.3" y1="177.9" x2="466.3" y2="179.3" stroke="#fff" stroke-width="0.5"/><line x1="466.3" y1="182.4" x2="466.3" y2="183.8" stroke="#fff" stroke-width="0.5"/>
<text x="482.8" y="194.2" font-size="7.80" fill="#222" text-anchor="middle">+4</text>
<line x1="482.8" y1="177.9" x2="482.8" y2="179.3" stroke="#fff" stroke-width="0.5"/><line x1="482.8" y1="182.4" x2="482.8" y2="183.8" stroke="#fff" stroke-width="0.5"/>
<circle cx="415.7" cy="209.2" r="2.4" fill="#1e90ff"/>
<circle cx="415.7" cy="219.6" r="2.4" fill="#ee1c1c"/>
<text x="422.6" y="212.1" font-size="10.20" fill="#222">CC</text>
<text x="422.6" y="222.5" font-size="10.20" fill="#222">LC</text>
<text x="331.9" y="299.7" font-size="17.00" fill="#000" font-weight="bold" stroke="#000" stroke-width="0.35">d</text>
<line x1="378.8" y1="317.8" x2="378.8" y2="398.7" stroke="#8a8a8a" stroke-width="1.1"/>
<line x1="375.8" y1="317.8" x2="378.8" y2="317.8" stroke="#8a8a8a" stroke-width="0.9"/>
<text x="371.1" y="320.8" font-size="8.50" fill="#333" text-anchor="end">3</text>
<line x1="375.8" y1="338.1" x2="378.8" y2="338.1" stroke="#8a8a8a" stroke-width="0.9"/>
<text x="371.1" y="341.1" font-size="8.50" fill="#333" text-anchor="end">2</text>
<line x1="375.8" y1="358.3" x2="378.8" y2="358.3" stroke="#8a8a8a" stroke-width="0.9"/>
<text x="371.1" y="361.3" font-size="8.50" fill="#333" text-anchor="end">1</text>
<line x1="375.8" y1="378.4" x2="378.8" y2="378.4" stroke="#8a8a8a" stroke-width="0.9"/>
<text x="371.1" y="381.4" font-size="8.50" fill="#333" text-anchor="end">0</text>
<line x1="375.8" y1="398.7" x2="378.8" y2="398.7" stroke="#8a8a8a" stroke-width="0.9"/>
<text x="371.1" y="401.7" font-size="8.50" fill="#333" text-anchor="end">-1</text>
<line x1="375.8" y1="378.4" x2="500.8" y2="378.4" stroke="#4a4a4a" stroke-width="1"/>
<line x1="403.1" y1="378.4" x2="403.1" y2="381.2" stroke="#4a4a4a" stroke-width="0.9"/>
<text x="403.1" y="393.4" font-size="8.50" fill="#333" text-anchor="middle">1</text>
<line x1="427.4" y1="378.4" x2="427.4" y2="381.2" stroke="#4a4a4a" stroke-width="0.9"/>
<text x="427.4" y="393.4" font-size="8.50" fill="#333" text-anchor="middle">2</text>
<line x1="451.7" y1="378.4" x2="451.7" y2="381.2" stroke="#4a4a4a" stroke-width="0.9"/>
<text x="451.7" y="393.4" font-size="8.50" fill="#333" text-anchor="middle">3</text>
<line x1="476.0" y1="378.4" x2="476.0" y2="381.2" stroke="#4a4a4a" stroke-width="0.9"/>
<text x="476.0" y="393.4" font-size="8.50" fill="#333" text-anchor="middle">4</text>
<line x1="500.3" y1="378.4" x2="500.3" y2="381.2" stroke="#4a4a4a" stroke-width="0.9"/>
<text x="500.3" y="393.4" font-size="8.50" fill="#333" text-anchor="middle">5</text>
<text x="439.6" y="410.2" font-size="10.26" fill="#222" text-anchor="middle" textLength="108.5" lengthAdjust="spacingAndGlyphs">IL-6-JAK-STAT3 signaling</text>
<text x="384.0" y="321.0" font-size="7.9" fill="#222"><tspan font-style="italic">P</tspan> &lt; 0.0001</text>
<text x="343.0" y="362.4" font-size="9.80" fill="#222" text-anchor="middle" transform="rotate(-90 343.0 359.0)">Complement</text>
<text x="354.0" y="362.4" font-size="9.80" fill="#222" text-anchor="middle" transform="rotate(-90 354.0 359.0)">cascade</text>
<path d="M396.1 374.6L399.4 373.5L402.6 372.4L405.9 371.3L409.2 370.2L412.4 369.1L415.7 367.9L419.0 366.7L422.2 365.4L425.5 364.1L428.8 362.7L432.0 361.2L435.3 359.5L438.6 357.8L441.8 355.9L445.1 353.9L448.4 351.9L451.6 349.8L454.9 347.7L458.2 345.6L461.4 343.4L464.7 341.3L468.0 339.1L471.2 336.9L474.5 334.6M396.1 390.4L399.4 388.2L402.6 386.0L405.9 383.8L409.2 381.7L412.4 379.5L415.7 377.4L419.0 375.4L422.2 373.4L425.5 371.4L428.8 369.6L432.0 367.8L435.3 366.2L438.6 364.7L441.8 363.3L445.1 361.9L448.4 360.7L451.6 359.5L454.9 358.3L458.2 357.2L461.4 356.1L464.7 355.0L468.0 353.9L471.2 352.8L474.5 351.8" fill="none" stroke="#222" stroke-width="0.6"/>
<line x1="396.1" y1="382.5" x2="474.5" y2="343.2" stroke="#ff2a00" stroke-width="1.3"/>
<path stroke="#000" stroke-width="3.2" stroke-linecap="round" fill="none" d="M396.1 380.2h0M407.5 378.7h0M407.1 382.1h0M413.2 371.1h0M413.2 375.9h0M414.2 384.4h0M417 377h0M423.3 378.3h0M424.2 356.5h0M427.1 370.4h0M428.4 353.7h0M430.3 356.5h0M429.7 360.3h0M428.4 362.8h0M429 366h0M431.2 374.5h0M434.5 366.4h0M437.9 359.7h0M437.9 385.9h0M440.7 340.4h0M446.4 350.4h0M446.4 366.6h0M448.7 347h0M449.3 348.9h0M461.6 343.2h0M461.2 350.4h0M468.3 350.4h0M474.3 356.5h0"/>
<line x1="561.3" y1="297.6" x2="561.3" y2="378.6" stroke="#8a8a8a" stroke-width="1.1"/>
<line x1="558.3" y1="297.6" x2="561.3" y2="297.6" stroke="#8a8a8a" stroke-width="0.9"/>
<text x="553.6" y="300.6" font-size="8.50" fill="#333" text-anchor="end">5</text>
<line x1="558.3" y1="313.8" x2="561.3" y2="313.8" stroke="#8a8a8a" stroke-width="0.9"/>
<text x="553.6" y="316.8" font-size="8.50" fill="#333" text-anchor="end">4</text>
<line x1="558.3" y1="330.0" x2="561.3" y2="330.0" stroke="#8a8a8a" stroke-width="0.9"/>
<text x="553.6" y="333.0" font-size="8.50" fill="#333" text-anchor="end">3</text>
<line x1="558.3" y1="346.2" x2="561.3" y2="346.2" stroke="#8a8a8a" stroke-width="0.9"/>
<text x="553.6" y="349.2" font-size="8.50" fill="#333" text-anchor="end">2</text>
<line x1="558.3" y1="362.4" x2="561.3" y2="362.4" stroke="#8a8a8a" stroke-width="0.9"/>
<text x="553.6" y="365.4" font-size="8.50" fill="#333" text-anchor="end">1</text>
<line x1="558.3" y1="378.6" x2="561.3" y2="378.6" stroke="#8a8a8a" stroke-width="0.9"/>
<text x="553.6" y="381.6" font-size="8.50" fill="#333" text-anchor="end">0</text>
<line x1="558.3" y1="378.6" x2="683.3" y2="378.6" stroke="#4a4a4a" stroke-width="1"/>
<line x1="585.6" y1="378.6" x2="585.6" y2="381.4" stroke="#4a4a4a" stroke-width="0.9"/>
<text x="585.6" y="393.3" font-size="8.50" fill="#333" text-anchor="middle">1</text>
<line x1="609.9" y1="378.6" x2="609.9" y2="381.4" stroke="#4a4a4a" stroke-width="0.9"/>
<text x="609.9" y="393.3" font-size="8.50" fill="#333" text-anchor="middle">2</text>
<line x1="634.2" y1="378.6" x2="634.2" y2="381.4" stroke="#4a4a4a" stroke-width="0.9"/>
<text x="634.2" y="393.3" font-size="8.50" fill="#333" text-anchor="middle">3</text>
<line x1="658.5" y1="378.6" x2="658.5" y2="381.4" stroke="#4a4a4a" stroke-width="0.9"/>
<text x="658.5" y="393.3" font-size="8.50" fill="#333" text-anchor="middle">4</text>
<line x1="682.8" y1="378.6" x2="682.8" y2="381.4" stroke="#4a4a4a" stroke-width="0.9"/>
<text x="682.8" y="393.3" font-size="8.50" fill="#333" text-anchor="middle">5</text>
<text x="622.1" y="410.0" font-size="10.26" fill="#222" text-anchor="middle" textLength="108.5" lengthAdjust="spacingAndGlyphs">IL-6-JAK-STAT3 signaling</text>
<text x="568.9" y="303.0" font-size="7.9" fill="#222"><tspan font-style="italic">P</tspan> &lt; 0.0001</text>
<text x="533.7" y="341.4" font-size="9.80" fill="#222" text-anchor="middle" transform="rotate(-90 533.7 338.0)">Coagulation system</text>
<path d="M577.8 359.2L581.1 357.6L584.4 355.9L587.6 354.2L590.9 352.5L594.2 350.7L597.5 349.0L600.8 347.2L604.1 345.3L607.4 343.4L610.6 341.4L613.9 339.2L617.2 336.8L620.5 334.3L623.8 331.5L627.0 328.7L630.3 325.8L633.6 322.9L636.9 319.9L640.2 316.9L643.5 313.9L646.8 310.8L650.0 307.8L653.3 304.7L656.6 301.7M577.8 376.8L581.1 373.7L584.4 370.6L587.6 367.6L590.9 364.6L594.2 361.6L597.5 358.6L600.8 355.6L604.1 352.7L607.4 349.9L610.6 347.2L613.9 344.7L617.2 342.3L620.5 340.1L623.8 338.1L627.0 336.2L630.3 334.3L633.6 332.5L636.9 330.8L640.2 329.0L643.5 327.3L646.8 325.6L650.0 323.9L653.3 322.2L656.6 320.6" fill="none" stroke="#222" stroke-width="0.6"/>
<line x1="577.8" y1="368" x2="656.6" y2="311.1" stroke="#ff2a00" stroke-width="1.3"/>
<path stroke="#000" stroke-width="3.2" stroke-linecap="round" fill="none" d="M577.8 365.3h0M589.1 360.2h0M588.6 367.8h0M594.5 358.3h0M595.3 337.2h0M596.1 368.6h0M599.1 360.2h0M605.3 363.2h0M606.1 334h0M609.4 347.5h0M610.7 337.5h0M610.2 340.8h0M612.1 331.3h0M610.7 348.9h0M613.4 351h0M616.1 339.4h0M619.6 365.3h0M620.2 330.5h0M622.9 329.4h0M628.3 336.2h0M629.1 320h0M631 319.7h0M631.5 325.4h0M643.1 308.9h0M643.1 321.9h0M650.4 321.3h0M656.1 325.4h0"/>
<line x1="378.6" y1="420.8" x2="378.6" y2="502.0" stroke="#8a8a8a" stroke-width="1.1"/>
<line x1="375.6" y1="420.8" x2="378.6" y2="420.8" stroke="#8a8a8a" stroke-width="0.9"/>
<text x="370.9" y="423.8" font-size="8.50" fill="#333" text-anchor="end">0.8</text>
<line x1="375.6" y1="436.9" x2="378.6" y2="436.9" stroke="#8a8a8a" stroke-width="0.9"/>
<text x="370.9" y="439.9" font-size="8.50" fill="#333" text-anchor="end">0.6</text>
<line x1="375.6" y1="453.2" x2="378.6" y2="453.2" stroke="#8a8a8a" stroke-width="0.9"/>
<text x="370.9" y="456.2" font-size="8.50" fill="#333" text-anchor="end">0.4</text>
<line x1="375.6" y1="469.5" x2="378.6" y2="469.5" stroke="#8a8a8a" stroke-width="0.9"/>
<text x="370.9" y="472.5" font-size="8.50" fill="#333" text-anchor="end">0.2</text>
<line x1="375.6" y1="486.0" x2="378.6" y2="486.0" stroke="#8a8a8a" stroke-width="0.9"/>
<text x="370.9" y="489.0" font-size="8.50" fill="#333" text-anchor="end">0</text>
<line x1="375.6" y1="502.0" x2="378.6" y2="502.0" stroke="#8a8a8a" stroke-width="0.9"/>
<text x="370.9" y="505.0" font-size="8.50" fill="#333" text-anchor="end">−0.2</text>
<line x1="375.6" y1="486.0" x2="500.6" y2="486.0" stroke="#4a4a4a" stroke-width="1"/>
<line x1="402.9" y1="486.0" x2="402.9" y2="488.8" stroke="#4a4a4a" stroke-width="0.9"/>
<text x="402.9" y="500.2" font-size="8.50" fill="#333" text-anchor="middle">1</text>
<line x1="427.2" y1="486.0" x2="427.2" y2="488.8" stroke="#4a4a4a" stroke-width="0.9"/>
<text x="427.2" y="500.2" font-size="8.50" fill="#333" text-anchor="middle">2</text>
<line x1="451.5" y1="486.0" x2="451.5" y2="488.8" stroke="#4a4a4a" stroke-width="0.9"/>
<text x="451.5" y="500.2" font-size="8.50" fill="#333" text-anchor="middle">3</text>
<line x1="475.8" y1="486.0" x2="475.8" y2="488.8" stroke="#4a4a4a" stroke-width="0.9"/>
<text x="475.8" y="500.2" font-size="8.50" fill="#333" text-anchor="middle">4</text>
<line x1="500.1" y1="486.0" x2="500.1" y2="488.8" stroke="#4a4a4a" stroke-width="0.9"/>
<text x="500.1" y="500.2" font-size="8.50" fill="#333" text-anchor="middle">5</text>
<text x="439.4" y="514.6" font-size="10.26" fill="#222" text-anchor="middle" textLength="108.5" lengthAdjust="spacingAndGlyphs">IL-6-JAK-STAT3 signaling</text>
<text x="384.0" y="423.5" font-size="7.9" fill="#222"><tspan font-style="italic">P</tspan> &lt; 0.0001</text>
<text x="337.6" y="464.4" font-size="9.80" fill="#222" text-anchor="middle" transform="rotate(-90 337.6 461.0)">Leptin-insulin</text>
<text x="347.8" y="464.4" font-size="9.80" fill="#222" text-anchor="middle" transform="rotate(-90 347.8 461.0)">signaling</text>
<path d="M396.1 480.4L399.4 478.8L402.6 477.2L405.9 475.6L409.2 474.0L412.4 472.3L415.7 470.6L419.0 468.9L422.2 467.2L425.5 465.3L428.8 463.4L432.0 461.3L435.3 459.1L438.6 456.8L441.8 454.3L445.1 451.8L448.4 449.1L451.6 446.4L454.9 443.7L458.2 441.0L461.4 438.2L464.7 435.5L468.0 432.7L471.2 429.9L474.5 427.1M396.1 496.0L399.4 493.2L402.6 490.4L405.9 487.7L409.2 484.9L412.4 482.2L415.7 479.5L419.0 476.8L422.2 474.2L425.5 471.6L428.8 469.2L432.0 466.8L435.3 464.7L438.6 462.6L441.8 460.7L445.1 458.9L448.4 457.1L451.6 455.4L454.9 453.8L458.2 452.1L461.4 450.5L464.7 448.9L468.0 447.3L471.2 445.7L474.5 444.1" fill="none" stroke="#222" stroke-width="0.6"/>
<line x1="396.1" y1="488.2" x2="474.5" y2="435.6" stroke="#ff2a00" stroke-width="1.3"/>
<path stroke="#000" stroke-width="3.2" stroke-linecap="round" fill="none" d="M396.1 488.2h0M407.1 488.2h0M407.5 471.7h0M413.2 470.4h0M412.6 479.8h0M417 478.3h0M414.2 491h0M423.3 465h0M424.6 466h0M427.1 472.1h0M428.4 446.1h0M428.4 459.3h0M429 466.9h0M429.9 468.3h0M430.3 464.7h0M429.7 475.5h0M431.6 479.3h0M434.5 450.4h0M437.9 459.3h0M437.9 474.5h0M440.7 453.3h0M446.4 433.7h0M446.4 453.7h0M448.3 459.3h0M449.3 450.4h0M461.2 439.4h0M461.6 444.5h0M468.3 437h0M474.3 451.2h0"/>
<line x1="561.2" y1="416.7" x2="561.2" y2="496.7" stroke="#8a8a8a" stroke-width="1.1"/>
<line x1="558.2" y1="416.7" x2="561.2" y2="416.7" stroke="#8a8a8a" stroke-width="0.9"/>
<text x="553.5" y="419.7" font-size="8.50" fill="#333" text-anchor="end">0.4</text>
<line x1="558.2" y1="436.9" x2="561.2" y2="436.9" stroke="#8a8a8a" stroke-width="0.9"/>
<text x="553.5" y="439.9" font-size="8.50" fill="#333" text-anchor="end">0.2</text>
<line x1="558.2" y1="457.2" x2="561.2" y2="457.2" stroke="#8a8a8a" stroke-width="0.9"/>
<text x="553.5" y="460.2" font-size="8.50" fill="#333" text-anchor="end">0</text>
<line x1="558.2" y1="477.2" x2="561.2" y2="477.2" stroke="#8a8a8a" stroke-width="0.9"/>
<text x="553.5" y="480.2" font-size="8.50" fill="#333" text-anchor="end">−0.2</text>
<line x1="558.2" y1="496.7" x2="561.2" y2="496.7" stroke="#8a8a8a" stroke-width="0.9"/>
<text x="553.5" y="499.7" font-size="8.50" fill="#333" text-anchor="end">−0.4</text>
<line x1="558.2" y1="457.2" x2="683.2" y2="457.2" stroke="#4a4a4a" stroke-width="1"/>
<line x1="585.5" y1="457.2" x2="585.5" y2="460.0" stroke="#4a4a4a" stroke-width="0.9"/>
<text x="585.5" y="471.4" font-size="8.50" fill="#333" text-anchor="middle">1</text>
<line x1="609.8" y1="457.2" x2="609.8" y2="460.0" stroke="#4a4a4a" stroke-width="0.9"/>
<text x="609.8" y="471.4" font-size="8.50" fill="#333" text-anchor="middle">2</text>
<line x1="634.1" y1="457.2" x2="634.1" y2="460.0" stroke="#4a4a4a" stroke-width="0.9"/>
<text x="634.1" y="471.4" font-size="8.50" fill="#333" text-anchor="middle">3</text>
<line x1="658.4" y1="457.2" x2="658.4" y2="460.0" stroke="#4a4a4a" stroke-width="0.9"/>
<text x="658.4" y="471.4" font-size="8.50" fill="#333" text-anchor="middle">4</text>
<line x1="682.7" y1="457.2" x2="682.7" y2="460.0" stroke="#4a4a4a" stroke-width="0.9"/>
<text x="682.7" y="471.4" font-size="8.50" fill="#333" text-anchor="middle">5</text>
<text x="622.0" y="487.5" font-size="10.26" fill="#222" text-anchor="middle" textLength="108.5" lengthAdjust="spacingAndGlyphs">IL-6-JAK-STAT3 signaling</text>
<text x="566.4" y="421.5" font-size="7.9" fill="#222"><tspan font-style="italic">P</tspan> = 0.0007</text>
<text x="518.0" y="460.4" font-size="9.80" fill="#222" text-anchor="middle" transform="rotate(-90 518.0 457.0)">Steroid hormone</text>
<text x="528.8" y="460.4" font-size="9.80" fill="#222" text-anchor="middle" transform="rotate(-90 528.8 457.0)">biosynthesis</text>
<path d="M577.7 471.2L581.0 470.4L584.3 469.5L587.5 468.7L590.8 467.8L594.1 466.8L597.4 465.8L600.7 464.8L603.9 463.6L607.2 462.4L610.5 461.0L613.8 459.4L617.0 457.7L620.3 455.8L623.6 453.8L626.9 451.7L630.2 449.4L633.4 447.1L636.7 444.8L640.0 442.4L643.3 440.0L646.6 437.6L649.8 435.1L653.1 432.6L656.4 430.1M577.7 494.0L581.0 491.5L584.3 489.1L587.5 486.7L590.8 484.3L594.1 482.0L597.4 479.7L600.7 477.4L603.9 475.3L607.2 473.3L610.5 471.4L613.8 469.7L617.0 468.1L620.3 466.7L623.6 465.4L626.9 464.3L630.2 463.2L633.4 462.2L636.7 461.3L640.0 460.4L643.3 459.5L646.6 458.7L649.8 457.9L653.1 457.0L656.4 456.2" fill="none" stroke="#222" stroke-width="0.6"/>
<line x1="577.7" y1="482.6" x2="656.4" y2="443.2" stroke="#ff2a00" stroke-width="1.3"/>
<path stroke="#000" stroke-width="3.2" stroke-linecap="round" fill="none" d="M577.7 475.1h0M589.2 475.1h0M594.7 474.8h0M595.2 467.5h0M589.2 483h0M596.5 486.6h0M599.2 487.6h0M604.7 487.6h0M606.2 458.4h0M610.2 464.2h0M609.3 473h0M611.1 471.1h0M613.5 473.5h0M610.2 477.9h0M611.6 428.6h0M612 453.4h0M616.2 462.4h0M619.7 472h0M622.6 449.2h0M619.7 488.5h0M628.4 452.3h0M628.4 463.3h0M630.3 434.1h0M631.2 441.4h0M643.4 438.3h0M643.4 462h0M650.3 445.2h0M656.2 458.4h0"/>
<line x1="379.4" y1="522.7" x2="379.4" y2="603.2" stroke="#8a8a8a" stroke-width="1.1"/>
<line x1="376.4" y1="522.7" x2="379.4" y2="522.7" stroke="#8a8a8a" stroke-width="0.9"/>
<text x="371.7" y="525.7" font-size="8.50" fill="#333" text-anchor="end">4</text>
<line x1="376.4" y1="542.6" x2="379.4" y2="542.6" stroke="#8a8a8a" stroke-width="0.9"/>
<text x="371.7" y="545.6" font-size="8.50" fill="#333" text-anchor="end">3</text>
<line x1="376.4" y1="562.6" x2="379.4" y2="562.6" stroke="#8a8a8a" stroke-width="0.9"/>
<text x="371.7" y="565.6" font-size="8.50" fill="#333" text-anchor="end">2</text>
<line x1="376.4" y1="582.8" x2="379.4" y2="582.8" stroke="#8a8a8a" stroke-width="0.9"/>
<text x="371.7" y="585.8" font-size="8.50" fill="#333" text-anchor="end">1</text>
<line x1="376.4" y1="603.2" x2="379.4" y2="603.2" stroke="#8a8a8a" stroke-width="0.9"/>
<text x="371.7" y="606.2" font-size="8.50" fill="#333" text-anchor="end">0</text>
<line x1="376.4" y1="603.2" x2="501.4" y2="603.2" stroke="#4a4a4a" stroke-width="1"/>
<text x="379.4" y="617.4" font-size="8.50" fill="#333" text-anchor="middle">0</text>
<line x1="403.7" y1="603.2" x2="403.7" y2="606.0" stroke="#4a4a4a" stroke-width="0.9"/>
<text x="403.7" y="617.4" font-size="8.50" fill="#333" text-anchor="middle">1</text>
<line x1="428.0" y1="603.2" x2="428.0" y2="606.0" stroke="#4a4a4a" stroke-width="0.9"/>
<text x="428.0" y="617.4" font-size="8.50" fill="#333" text-anchor="middle">2</text>
<line x1="452.3" y1="603.2" x2="452.3" y2="606.0" stroke="#4a4a4a" stroke-width="0.9"/>
<text x="452.3" y="617.4" font-size="8.50" fill="#333" text-anchor="middle">3</text>
<line x1="476.6" y1="603.2" x2="476.6" y2="606.0" stroke="#4a4a4a" stroke-width="0.9"/>
<text x="476.6" y="617.4" font-size="8.50" fill="#333" text-anchor="middle">4</text>
<line x1="500.9" y1="603.2" x2="500.9" y2="606.0" stroke="#4a4a4a" stroke-width="0.9"/>
<text x="500.9" y="617.4" font-size="8.50" fill="#333" text-anchor="middle">5</text>
<text x="440.2" y="634.1" font-size="10.26" fill="#222" text-anchor="middle" textLength="108.5" lengthAdjust="spacingAndGlyphs">IL-6-JAK-STAT3 signaling</text>
<text x="388.3" y="525.5" font-size="7.9" fill="#222"><tspan font-style="italic">P</tspan> &lt; 0.0001</text>
<text x="350.2" y="566.4" font-size="9.80" fill="#222" text-anchor="middle" transform="rotate(-90 350.2 563.0)">JAK-STAT signaling</text>
<path d="M399.0 569.1L402.3 568.0L405.6 566.9L408.8 565.8L412.1 564.7L415.4 563.6L418.7 562.5L422.0 561.3L425.2 560.1L428.5 558.8L431.8 557.4L435.1 556.0L438.4 554.4L441.6 552.7L444.9 550.9L448.2 549.1L451.5 547.2L454.7 545.2L458.0 543.3L461.3 541.3L464.6 539.3L467.9 537.2L471.1 535.2L474.4 533.2L477.7 531.1M399.0 581.7L402.3 579.7L405.6 577.7L408.8 575.7L412.1 573.7L415.4 571.7L418.7 569.8L422.0 567.8L425.2 566.0L428.5 564.2L431.8 562.4L435.1 560.8L438.4 559.3L441.6 557.9L444.9 556.6L448.2 555.3L451.5 554.2L454.7 553.0L458.0 551.9L461.3 550.8L464.6 549.7L467.9 548.6L471.1 547.6L474.4 546.5L477.7 545.4" fill="none" stroke="#222" stroke-width="0.6"/>
<line x1="399" y1="575.4" x2="477.7" y2="538.3" stroke="#ff2a00" stroke-width="1.3"/>
<path stroke="#000" stroke-width="3.2" stroke-linecap="round" fill="none" d="M399 575.4h0M410.4 554.3h0M410 571.4h0M416.1 561.5h0M415.7 566.6h0M417.4 570.6h0M419.9 573.8h0M426.5 560.5h0M427.4 557.7h0M430.3 560.5h0M431.2 563.4h0M431.6 565.3h0M432.8 560h0M433.5 556.4h0M434.7 571.4h0M437.3 552h0M440.7 574.2h0M441.3 559.2h0M443.6 560.2h0M449.7 542.5h0M450.2 545.4h0M452.1 546.3h0M464.5 534.9h0M464.5 541.6h0M471.7 531.5h0M477.4 552.4h0"/>
<line x1="561.0" y1="516.3" x2="561.0" y2="597.2" stroke="#8a8a8a" stroke-width="1.1"/>
<line x1="558.0" y1="516.3" x2="561.0" y2="516.3" stroke="#8a8a8a" stroke-width="0.9"/>
<text x="553.3" y="519.3" font-size="8.50" fill="#333" text-anchor="end">6</text>
<line x1="558.0" y1="536.5" x2="561.0" y2="536.5" stroke="#8a8a8a" stroke-width="0.9"/>
<text x="553.3" y="539.5" font-size="8.50" fill="#333" text-anchor="end">4</text>
<line x1="558.0" y1="556.7" x2="561.0" y2="556.7" stroke="#8a8a8a" stroke-width="0.9"/>
<text x="553.3" y="559.7" font-size="8.50" fill="#333" text-anchor="end">2</text>
<line x1="558.0" y1="577.0" x2="561.0" y2="577.0" stroke="#8a8a8a" stroke-width="0.9"/>
<text x="553.3" y="580.0" font-size="8.50" fill="#333" text-anchor="end">0</text>
<line x1="558.0" y1="597.2" x2="561.0" y2="597.2" stroke="#8a8a8a" stroke-width="0.9"/>
<text x="553.3" y="600.2" font-size="8.50" fill="#333" text-anchor="end">−2</text>
<line x1="558.0" y1="577.0" x2="683.0" y2="577.0" stroke="#4a4a4a" stroke-width="1"/>
<line x1="585.3" y1="577.0" x2="585.3" y2="579.8" stroke="#4a4a4a" stroke-width="0.9"/>
<text x="585.3" y="590.3" font-size="8.50" fill="#333" text-anchor="middle">1</text>
<line x1="609.6" y1="577.0" x2="609.6" y2="579.8" stroke="#4a4a4a" stroke-width="0.9"/>
<text x="609.6" y="590.3" font-size="8.50" fill="#333" text-anchor="middle">2</text>
<line x1="633.9" y1="577.0" x2="633.9" y2="579.8" stroke="#4a4a4a" stroke-width="0.9"/>
<text x="633.9" y="590.3" font-size="8.50" fill="#333" text-anchor="middle">3</text>
<line x1="658.2" y1="577.0" x2="658.2" y2="579.8" stroke="#4a4a4a" stroke-width="0.9"/>
<text x="658.2" y="590.3" font-size="8.50" fill="#333" text-anchor="middle">4</text>
<line x1="682.5" y1="577.0" x2="682.5" y2="579.8" stroke="#4a4a4a" stroke-width="0.9"/>
<text x="682.5" y="590.3" font-size="8.50" fill="#333" text-anchor="middle">5</text>
<text x="621.8" y="604.4" font-size="10.26" fill="#222" text-anchor="middle" textLength="108.5" lengthAdjust="spacingAndGlyphs">IL-6-JAK-STAT3 signaling</text>
<text x="564.8" y="521.6" font-size="7.9" fill="#222"><tspan font-style="italic">P</tspan> &lt; 0.0001</text>
<text x="533.7" y="560.1" font-size="9.80" fill="#222" text-anchor="middle" transform="rotate(-90 533.7 556.7)">PD-1 signaling</text>
<path d="M577.7 573.6L581.0 572.1L584.3 570.6L587.5 569.1L590.8 567.6L594.1 566.1L597.4 564.6L600.7 563.0L603.9 561.4L607.2 559.7L610.5 558.0L613.8 556.1L617.0 554.2L620.3 552.1L623.6 550.0L626.9 547.8L630.2 545.5L633.4 543.3L636.7 541.0L640.0 538.7L643.3 536.3L646.6 534.0L649.8 531.7L653.1 529.3L656.4 527.0M577.7 584.4L581.0 582.1L584.3 579.7L587.5 577.4L590.8 575.1L594.1 572.8L597.4 570.5L600.7 568.3L603.9 566.1L607.2 563.9L610.5 561.9L613.8 559.9L617.0 558.0L620.3 556.3L623.6 554.6L626.9 553.0L630.2 551.4L633.4 549.9L636.7 548.3L640.0 546.8L643.3 545.3L646.6 543.8L649.8 542.4L653.1 540.9L656.4 539.4" fill="none" stroke="#222" stroke-width="0.6"/>
<line x1="577.7" y1="579" x2="656.4" y2="533.2" stroke="#ff2a00" stroke-width="1.3"/>
<path stroke="#000" stroke-width="3.2" stroke-linecap="round" fill="none" d="M577.7 574.2h0M589.2 575.7h0M589.6 570.6h0M594.7 562h0M595.6 566.9h0M596.1 575.3h0M598.7 565.7h0M604.7 574.2h0M606 561.1h0M608.4 556.5h0M610.2 551.6h0M609.3 560.2h0M611.1 558.9h0M612.9 557.8h0M615.7 558.4h0M619.7 558.4h0M619.7 568.4h0M622.6 545h0M628.4 551.1h0M631.2 552h0M630.3 539.6h0M643.4 533.2h0M643.6 558.4h0M650.3 527h0M656.4 529.2h0"/>
<line x1="378.6" y1="646.4" x2="378.6" y2="727.1" stroke="#8a8a8a" stroke-width="1.1"/>
<line x1="375.6" y1="646.4" x2="378.6" y2="646.4" stroke="#8a8a8a" stroke-width="0.9"/>
<text x="370.9" y="649.4" font-size="8.50" fill="#333" text-anchor="end">1.5</text>
<line x1="375.6" y1="662.5" x2="378.6" y2="662.5" stroke="#8a8a8a" stroke-width="0.9"/>
<text x="370.9" y="665.5" font-size="8.50" fill="#333" text-anchor="end">1.0</text>
<line x1="375.6" y1="678.6" x2="378.6" y2="678.6" stroke="#8a8a8a" stroke-width="0.9"/>
<text x="370.9" y="681.6" font-size="8.50" fill="#333" text-anchor="end">0.5</text>
<line x1="375.6" y1="694.9" x2="378.6" y2="694.9" stroke="#8a8a8a" stroke-width="0.9"/>
<text x="370.9" y="697.9" font-size="8.50" fill="#333" text-anchor="end">0</text>
<line x1="375.6" y1="711.0" x2="378.6" y2="711.0" stroke="#8a8a8a" stroke-width="0.9"/>
<text x="370.9" y="714.0" font-size="8.50" fill="#333" text-anchor="end">−0.5</text>
<line x1="375.6" y1="727.1" x2="378.6" y2="727.1" stroke="#8a8a8a" stroke-width="0.9"/>
<text x="370.9" y="730.1" font-size="8.50" fill="#333" text-anchor="end">−1.0</text>
<line x1="375.6" y1="694.9" x2="500.6" y2="694.9" stroke="#9a9a9a" stroke-width="1.4"/>
<line x1="402.9" y1="694.9" x2="402.9" y2="697.7" stroke="#4a4a4a" stroke-width="0.9"/>
<text x="402.9" y="709.9" font-size="8.50" fill="#333" text-anchor="middle">1</text>
<line x1="427.2" y1="694.9" x2="427.2" y2="697.7" stroke="#4a4a4a" stroke-width="0.9"/>
<text x="427.2" y="709.9" font-size="8.50" fill="#333" text-anchor="middle">2</text>
<line x1="451.5" y1="694.9" x2="451.5" y2="697.7" stroke="#4a4a4a" stroke-width="0.9"/>
<text x="451.5" y="709.9" font-size="8.50" fill="#333" text-anchor="middle">3</text>
<line x1="475.8" y1="694.9" x2="475.8" y2="697.7" stroke="#4a4a4a" stroke-width="0.9"/>
<text x="475.8" y="709.9" font-size="8.50" fill="#333" text-anchor="middle">4</text>
<line x1="500.1" y1="694.9" x2="500.1" y2="697.7" stroke="#4a4a4a" stroke-width="0.9"/>
<text x="500.1" y="709.9" font-size="8.50" fill="#333" text-anchor="middle">5</text>
<text x="439.4" y="725.5" font-size="10.26" fill="#222" text-anchor="middle" textLength="108.5" lengthAdjust="spacingAndGlyphs">IL-6-JAK-STAT3 signaling</text>
<text x="384.0" y="647.7" font-size="7.9" fill="#222"><tspan font-style="italic">P</tspan> = 0.004</text>
<text x="346.6" y="689.9" font-size="9.80" fill="#222" text-anchor="middle" transform="rotate(-90 346.6 686.5)">Amino acid transport</text>
<path d="M396.1 661.6L399.4 663.8L402.7 666.0L406.0 668.1L409.2 670.3L412.5 672.4L415.8 674.4L419.1 676.4L422.4 678.3L425.6 680.2L428.9 681.9L432.2 683.4L435.5 684.8L438.8 686.0L442.1 687.1L445.4 688.1L448.6 688.9L451.9 689.7L455.2 690.4L458.5 691.1L461.8 691.7L465.0 692.3L468.3 692.9L471.6 693.5L474.9 694.0M396.1 684.8L399.4 685.4L402.7 686.0L406.0 686.6L409.2 687.2L412.5 687.9L415.8 688.6L419.1 689.4L422.4 690.2L425.6 691.1L428.9 692.2L432.2 693.4L435.5 694.8L438.8 696.3L442.1 698.0L445.4 699.8L448.6 701.8L451.9 703.7L455.2 705.8L458.5 707.9L461.8 710.0L465.0 712.2L468.3 714.3L471.6 716.5L474.9 718.8" fill="none" stroke="#222" stroke-width="0.6"/>
<line x1="396.1" y1="673.2" x2="474.9" y2="706.4" stroke="#1a4df0" stroke-width="1.3"/>
<path stroke="#000" stroke-width="3.2" stroke-linecap="round" fill="none" d="M396.1 694.7h0M406.6 650.1h0M407.5 690.7h0M412.6 658h0M413.8 680.8h0M413.6 683.3h0M417 669.4h0M423.1 684.6h0M424 691.6h0M427.1 674.5h0M428.4 675.5h0M428.4 677.4h0M429.7 671.3h0M429.7 690.3h0M430.3 694.1h0M431.6 697.9h0M428.4 715.3h0M434.5 704.5h0M437.9 704.9h0M437.9 688.4h0M440.4 673.6h0M446.4 701.7h0M446.4 708.3h0M448.7 695.6h0M461.2 685.2h0M461.6 714.6h0M468.3 700.7h0M474.3 701.3h0"/>
<line x1="561.5" y1="614.9" x2="561.5" y2="695.3" stroke="#8a8a8a" stroke-width="1.1"/>
<line x1="558.5" y1="614.9" x2="561.5" y2="614.9" stroke="#8a8a8a" stroke-width="0.9"/>
<text x="553.8" y="617.9" font-size="8.50" fill="#333" text-anchor="end">0</text>
<line x1="558.5" y1="635.1" x2="561.5" y2="635.1" stroke="#8a8a8a" stroke-width="0.9"/>
<text x="553.8" y="638.1" font-size="8.50" fill="#333" text-anchor="end">−0.2</text>
<line x1="558.5" y1="655.3" x2="561.5" y2="655.3" stroke="#8a8a8a" stroke-width="0.9"/>
<text x="553.8" y="658.3" font-size="8.50" fill="#333" text-anchor="end">−0.4</text>
<line x1="558.5" y1="675.5" x2="561.5" y2="675.5" stroke="#8a8a8a" stroke-width="0.9"/>
<text x="553.8" y="678.5" font-size="8.50" fill="#333" text-anchor="end">−0.6</text>
<line x1="558.5" y1="695.3" x2="561.5" y2="695.3" stroke="#8a8a8a" stroke-width="0.9"/>
<text x="553.8" y="698.3" font-size="8.50" fill="#333" text-anchor="end">−0.8</text>
<line x1="558.5" y1="695.3" x2="683.5" y2="695.3" stroke="#4a4a4a" stroke-width="1"/>
<line x1="585.8" y1="695.3" x2="585.8" y2="698.1" stroke="#4a4a4a" stroke-width="0.9"/>
<text x="585.8" y="710.3" font-size="8.50" fill="#333" text-anchor="middle">1</text>
<line x1="610.1" y1="695.3" x2="610.1" y2="698.1" stroke="#4a4a4a" stroke-width="0.9"/>
<text x="610.1" y="710.3" font-size="8.50" fill="#333" text-anchor="middle">2</text>
<line x1="634.4" y1="695.3" x2="634.4" y2="698.1" stroke="#4a4a4a" stroke-width="0.9"/>
<text x="634.4" y="710.3" font-size="8.50" fill="#333" text-anchor="middle">3</text>
<line x1="658.7" y1="695.3" x2="658.7" y2="698.1" stroke="#4a4a4a" stroke-width="0.9"/>
<text x="658.7" y="710.3" font-size="8.50" fill="#333" text-anchor="middle">4</text>
<line x1="683.0" y1="695.3" x2="683.0" y2="698.1" stroke="#4a4a4a" stroke-width="0.9"/>
<text x="683.0" y="710.3" font-size="8.50" fill="#333" text-anchor="middle">5</text>
<text x="622.3" y="727.0" font-size="10.26" fill="#222" text-anchor="middle" textLength="108.5" lengthAdjust="spacingAndGlyphs">IL-6-JAK-STAT3 signaling</text>
<text x="567.0" y="619.4" font-size="7.9" fill="#222"><tspan font-style="italic">P</tspan> &lt; 0.0001</text>
<text x="526.4" y="658.4" font-size="9.80" fill="#222" text-anchor="middle" transform="rotate(-90 526.4 655.0)">Circadian rhythm</text>
<path d="M577.7 631.0L581.0 633.1L584.3 635.2L587.6 637.4L590.9 639.5L594.2 641.6L597.5 643.6L600.7 645.7L604.0 647.7L607.3 649.7L610.6 651.5L613.9 653.3L617.2 655.0L620.5 656.6L623.8 658.1L627.1 659.5L630.4 661.0L633.7 662.4L637.0 663.8L640.2 665.2L643.5 666.6L646.8 667.9L650.1 669.3L653.4 670.7L656.7 672.1M577.7 640.0L581.0 641.4L584.3 642.8L587.6 644.1L590.9 645.5L594.2 646.9L597.5 648.4L600.7 649.8L604.0 651.3L607.3 652.8L610.6 654.5L613.9 656.2L617.2 658.0L620.5 659.9L623.8 661.9L627.1 664.0L630.4 666.0L633.7 668.1L637.0 670.2L640.2 672.3L643.5 674.4L646.8 676.6L650.1 678.7L653.4 680.8L656.7 682.9" fill="none" stroke="#222" stroke-width="0.6"/>
<line x1="577.7" y1="635.5" x2="656.7" y2="677.5" stroke="#1a4df0" stroke-width="1.3"/>
<path stroke="#000" stroke-width="3.2" stroke-linecap="round" fill="none" d="M577.7 631.4h0M589.2 641.9h0M589.6 643.8h0M595.2 636.5h0M595.2 646.5h0M596.5 647.4h0M598.9 641.4h0M605.3 656.5h0M606.5 648.3h0M609.3 652.9h0M610.2 654.3h0M611.6 648.7h0M611.6 642.3h0M611.1 657.8h0M610.2 660.7h0M612.6 658.4h0M613.5 664.7h0M616.2 662.9h0M619.9 652.3h0M619.9 657.1h0M622.6 648.3h0M628.4 664.4h0M630.3 665.3h0M628.4 672h0M631.5 665.7h0M643.4 665.7h0M643.4 668.9h0M650.3 673h0M656.4 675.3h0"/>
<line x1="379.4" y1="758.6" x2="379.4" y2="839.6" stroke="#8a8a8a" stroke-width="1.1"/>
<line x1="376.4" y1="758.6" x2="379.4" y2="758.6" stroke="#8a8a8a" stroke-width="0.9"/>
<text x="371.7" y="761.6" font-size="8.50" fill="#333" text-anchor="end">1.5</text>
<line x1="376.4" y1="778.9" x2="379.4" y2="778.9" stroke="#8a8a8a" stroke-width="0.9"/>
<text x="371.7" y="781.9" font-size="8.50" fill="#333" text-anchor="end">1.0</text>
<line x1="376.4" y1="799.1" x2="379.4" y2="799.1" stroke="#8a8a8a" stroke-width="0.9"/>
<text x="371.7" y="802.1" font-size="8.50" fill="#333" text-anchor="end">0.5</text>
<line x1="376.4" y1="819.4" x2="379.4" y2="819.4" stroke="#8a8a8a" stroke-width="0.9"/>
<text x="371.7" y="822.4" font-size="8.50" fill="#333" text-anchor="end">0</text>
<line x1="376.4" y1="839.6" x2="379.4" y2="839.6" stroke="#8a8a8a" stroke-width="0.9"/>
<text x="371.7" y="842.6" font-size="8.50" fill="#333" text-anchor="end">−0.5</text>
<line x1="376.4" y1="819.4" x2="501.4" y2="819.4" stroke="#4a4a4a" stroke-width="1"/>
<line x1="403.7" y1="819.4" x2="403.7" y2="822.2" stroke="#4a4a4a" stroke-width="0.9"/>
<text x="403.7" y="834.3" font-size="8.50" fill="#333" text-anchor="middle">1</text>
<line x1="428.0" y1="819.4" x2="428.0" y2="822.2" stroke="#4a4a4a" stroke-width="0.9"/>
<text x="428.0" y="834.3" font-size="8.50" fill="#333" text-anchor="middle">2</text>
<line x1="452.3" y1="819.4" x2="452.3" y2="822.2" stroke="#4a4a4a" stroke-width="0.9"/>
<text x="452.3" y="834.3" font-size="8.50" fill="#333" text-anchor="middle">3</text>
<line x1="476.6" y1="819.4" x2="476.6" y2="822.2" stroke="#4a4a4a" stroke-width="0.9"/>
<text x="476.6" y="834.3" font-size="8.50" fill="#333" text-anchor="middle">4</text>
<line x1="500.9" y1="819.4" x2="500.9" y2="822.2" stroke="#4a4a4a" stroke-width="0.9"/>
<text x="500.9" y="834.3" font-size="8.50" fill="#333" text-anchor="middle">5</text>
<text x="440.2" y="851.0" font-size="10.26" fill="#222" text-anchor="middle" textLength="108.5" lengthAdjust="spacingAndGlyphs">IL-6-JAK-STAT3 signaling</text>
<text x="385.5" y="763.2" font-size="7.9" fill="#222"><tspan font-style="italic">P</tspan> = 0.004</text>
<text x="346.6" y="800.0" font-size="9.80" fill="#222" text-anchor="middle" transform="rotate(-90 346.6 796.6)">Metabolism of RNA</text>
<path d="M396.5 778.1L399.8 779.8L403.0 781.5L406.3 783.1L409.6 784.7L412.8 786.3L416.1 787.8L419.4 789.3L422.6 790.7L425.9 792.0L429.2 793.3L432.4 794.4L435.7 795.4L439.0 796.3L442.2 797.1L445.5 797.7L448.8 798.4L452.0 798.9L455.3 799.5L458.6 800.0L461.8 800.4L465.1 800.9L468.4 801.3L471.6 801.8L474.9 802.2M396.5 795.3L399.8 795.7L403.0 796.1L406.3 796.6L409.6 797.1L412.8 797.6L416.1 798.2L419.4 798.8L422.6 799.5L425.9 800.3L429.2 801.1L432.4 802.1L435.7 803.2L439.0 804.4L442.2 805.7L445.5 807.2L448.8 808.6L452.0 810.2L455.3 811.7L458.6 813.3L461.8 815.0L465.1 816.6L468.4 818.3L471.6 819.9L474.9 821.6" fill="none" stroke="#222" stroke-width="0.6"/>
<line x1="396.5" y1="786.7" x2="474.9" y2="811.9" stroke="#1a4df0" stroke-width="1.3"/>
<path stroke="#000" stroke-width="3.2" stroke-linecap="round" fill="none" d="M396.5 810h0M407.5 776.3h0M408.1 791.1h0M413.2 796.8h0M414.2 794.9h0M413.8 795.8h0M417.4 779.1h0M423.3 797.7h0M424.2 799.6h0M427.1 793.9h0M428.4 780.6h0M429 784.8h0M429 798.7h0M430.3 792.4h0M429.9 808.1h0M430.9 808.7h0M432.2 780.2h0M434.7 808.1h0M438.5 785.4h0M438.5 803.4h0M441.1 793.9h0M446.8 804.7h0M446.8 817.3h0M448.3 809.7h0M449.3 805.3h0M461.6 804.3h0M462 819.5h0M468.6 815.4h0M474.5 805.7h0"/>
<line x1="561.5" y1="738.4" x2="561.5" y2="819.2" stroke="#8a8a8a" stroke-width="1.1"/>
<line x1="558.5" y1="738.4" x2="561.5" y2="738.4" stroke="#8a8a8a" stroke-width="0.9"/>
<text x="553.8" y="741.4" font-size="8.50" fill="#333" text-anchor="end">0</text>
<line x1="558.5" y1="758.6" x2="561.5" y2="758.6" stroke="#8a8a8a" stroke-width="0.9"/>
<text x="553.8" y="761.6" font-size="8.50" fill="#333" text-anchor="end">−0.2</text>
<line x1="558.5" y1="778.8" x2="561.5" y2="778.8" stroke="#8a8a8a" stroke-width="0.9"/>
<text x="553.8" y="781.8" font-size="8.50" fill="#333" text-anchor="end">−0.4</text>
<line x1="558.5" y1="799.0" x2="561.5" y2="799.0" stroke="#8a8a8a" stroke-width="0.9"/>
<text x="553.8" y="802.0" font-size="8.50" fill="#333" text-anchor="end">−0.6</text>
<line x1="558.5" y1="819.2" x2="561.5" y2="819.2" stroke="#8a8a8a" stroke-width="0.9"/>
<text x="553.8" y="822.2" font-size="8.50" fill="#333" text-anchor="end">−0.8</text>
<line x1="558.5" y1="819.2" x2="683.5" y2="819.2" stroke="#4a4a4a" stroke-width="1"/>
<line x1="585.8" y1="819.2" x2="585.8" y2="822.0" stroke="#4a4a4a" stroke-width="0.9"/>
<text x="585.8" y="833.8" font-size="8.50" fill="#333" text-anchor="middle">1</text>
<line x1="610.1" y1="819.2" x2="610.1" y2="822.0" stroke="#4a4a4a" stroke-width="0.9"/>
<text x="610.1" y="833.8" font-size="8.50" fill="#333" text-anchor="middle">2</text>
<line x1="634.4" y1="819.2" x2="634.4" y2="822.0" stroke="#4a4a4a" stroke-width="0.9"/>
<text x="634.4" y="833.8" font-size="8.50" fill="#333" text-anchor="middle">3</text>
<line x1="658.7" y1="819.2" x2="658.7" y2="822.0" stroke="#4a4a4a" stroke-width="0.9"/>
<text x="658.7" y="833.8" font-size="8.50" fill="#333" text-anchor="middle">4</text>
<line x1="683.0" y1="819.2" x2="683.0" y2="822.0" stroke="#4a4a4a" stroke-width="0.9"/>
<text x="683.0" y="833.8" font-size="8.50" fill="#333" text-anchor="middle">5</text>
<text x="622.3" y="850.1" font-size="10.26" fill="#222" text-anchor="middle" textLength="108.5" lengthAdjust="spacingAndGlyphs">IL-6-JAK-STAT3 signaling</text>
<text x="567.0" y="741.6" font-size="7.9" fill="#222"><tspan font-style="italic">P</tspan> &lt; 0.0001</text>
<text x="526.4" y="784.2" font-size="9.80" fill="#222" text-anchor="middle" transform="rotate(-90 526.4 780.8)">Oxidative stress</text>
<path d="M577.7 746.1L581.0 748.3L584.3 750.4L587.6 752.5L590.9 754.6L594.2 756.6L597.5 758.7L600.7 760.7L604.0 762.6L607.3 764.5L610.6 766.3L613.9 768.0L617.2 769.5L620.5 771.0L623.8 772.3L627.1 773.5L630.4 774.7L633.7 775.9L637.0 777.1L640.2 778.2L643.5 779.3L646.8 780.4L650.1 781.5L653.4 782.6L656.7 783.7M577.7 759.3L581.0 760.3L584.3 761.4L587.6 762.5L590.9 763.7L594.2 764.8L597.5 766.0L600.7 767.2L604.0 768.4L607.3 769.8L610.6 771.2L613.9 772.7L617.2 774.4L620.5 776.1L623.8 778.0L627.1 780.0L630.4 782.0L633.7 784.0L637.0 786.1L640.2 788.2L643.5 790.3L646.8 792.4L650.1 794.5L653.4 796.6L656.7 798.8" fill="none" stroke="#222" stroke-width="0.6"/>
<line x1="577.7" y1="752.7" x2="656.7" y2="791.2" stroke="#1a4df0" stroke-width="1.3"/>
<path stroke="#000" stroke-width="3.2" stroke-linecap="round" fill="none" d="M577.7 751.1h0M588.6 749.2h0M589.2 760.2h0M594.7 758.2h0M595.2 762.4h0M596.1 750.5h0M598.7 769.3h0M605.3 762h0M606 769.7h0M608.4 764.6h0M609.6 766h0M610.7 767.5h0M610.2 772.4h0M611.1 774.2h0M610.5 777.9h0M612 776.6h0M611.6 747.4h0M613.5 783.4h0M616.2 779.2h0M619.7 765.1h0M622.6 765.1h0M619.7 770h0M628.4 784.3h0M628.4 789.2h0M630.3 778.4h0M631.5 778.8h0M643.4 781.5h0M643.4 788.8h0M650.3 783.4h0M656.4 783.9h0"/>
<text x="-0.6" y="869.9" font-size="17.00" fill="#000" font-weight="bold" stroke="#000" stroke-width="0.35">e</text>
<rect x="64.70" y="867.20" width="13.28" height="9.76" fill="#ff5e00"/>
<rect x="64.70" y="876.96" width="13.28" height="9.76" fill="#ff5b00"/>
<rect x="64.70" y="886.72" width="13.28" height="9.76" fill="#ff5600"/>
<rect x="64.70" y="896.48" width="13.28" height="9.76" fill="#ff5300"/>
<rect x="64.70" y="906.23" width="13.28" height="9.76" fill="#ff4d00"/>
<rect x="64.70" y="915.99" width="13.28" height="9.76" fill="#ff4300"/>
<rect x="64.70" y="925.75" width="13.28" height="9.76" fill="#ff7600"/>
<rect x="64.70" y="935.51" width="13.28" height="9.76" fill="#ff7d00"/>
<rect x="64.70" y="945.27" width="13.28" height="9.76" fill="#ff8500"/>
<rect x="64.70" y="955.02" width="13.28" height="9.76" fill="#ff8100"/>
<rect x="64.70" y="964.78" width="13.28" height="9.76" fill="#ff8300"/>
<rect x="64.70" y="974.54" width="13.28" height="9.76" fill="#ff7a00"/>
<rect x="77.98" y="867.20" width="13.28" height="9.76" fill="#ff6300"/>
<rect x="77.98" y="876.96" width="13.28" height="9.76" fill="#ff5d00"/>
<rect x="77.98" y="886.72" width="13.28" height="9.76" fill="#ff5a00"/>
<rect x="77.98" y="896.48" width="13.28" height="9.76" fill="#ff5600"/>
<rect x="77.98" y="906.23" width="13.28" height="9.76" fill="#ff4e00"/>
<rect x="77.98" y="915.99" width="13.28" height="9.76" fill="#ff4300"/>
<rect x="77.98" y="925.75" width="13.28" height="9.76" fill="#ff7800"/>
<rect x="77.98" y="935.51" width="13.28" height="9.76" fill="#ff8100"/>
<rect x="77.98" y="945.27" width="13.28" height="9.76" fill="#ff8400"/>
<rect x="77.98" y="955.02" width="13.28" height="9.76" fill="#ff7d00"/>
<rect x="77.98" y="964.78" width="13.28" height="9.76" fill="#ff8200"/>
<rect x="77.98" y="974.54" width="13.28" height="9.76" fill="#ff7b00"/>
<rect x="91.27" y="867.20" width="13.28" height="9.76" fill="#ff6400"/>
<rect x="91.27" y="876.96" width="13.28" height="9.76" fill="#ff5d00"/>
<rect x="91.27" y="886.72" width="13.28" height="9.76" fill="#ff5600"/>
<rect x="91.27" y="896.48" width="13.28" height="9.76" fill="#ff5800"/>
<rect x="91.27" y="906.23" width="13.28" height="9.76" fill="#ff4f00"/>
<rect x="91.27" y="915.99" width="13.28" height="9.76" fill="#ff4300"/>
<rect x="91.27" y="925.75" width="13.28" height="9.76" fill="#ff7d00"/>
<rect x="91.27" y="935.51" width="13.28" height="9.76" fill="#ff8000"/>
<rect x="91.27" y="945.27" width="13.28" height="9.76" fill="#ff8000"/>
<rect x="91.27" y="955.02" width="13.28" height="9.76" fill="#ff8300"/>
<rect x="91.27" y="964.78" width="13.28" height="9.76" fill="#ff8000"/>
<rect x="91.27" y="974.54" width="13.28" height="9.76" fill="#ff7f00"/>
<rect x="104.55" y="867.20" width="13.28" height="9.76" fill="#ff6100"/>
<rect x="104.55" y="876.96" width="13.28" height="9.76" fill="#ff6300"/>
<rect x="104.55" y="886.72" width="13.28" height="9.76" fill="#ff5b00"/>
<rect x="104.55" y="896.48" width="13.28" height="9.76" fill="#ff5900"/>
<rect x="104.55" y="906.23" width="13.28" height="9.76" fill="#ff5500"/>
<rect x="104.55" y="915.99" width="13.28" height="9.76" fill="#ff4400"/>
<rect x="104.55" y="925.75" width="13.28" height="9.76" fill="#ff7800"/>
<rect x="104.55" y="935.51" width="13.28" height="9.76" fill="#ff7b00"/>
<rect x="104.55" y="945.27" width="13.28" height="9.76" fill="#ff7f00"/>
<rect x="104.55" y="955.02" width="13.28" height="9.76" fill="#ff7c00"/>
<rect x="104.55" y="964.78" width="13.28" height="9.76" fill="#ff7e00"/>
<rect x="104.55" y="974.54" width="13.28" height="9.76" fill="#ff7e00"/>
<rect x="117.83" y="867.20" width="13.28" height="9.76" fill="#ff6000"/>
<rect x="117.83" y="876.96" width="13.28" height="9.76" fill="#ff6100"/>
<rect x="117.83" y="886.72" width="13.28" height="9.76" fill="#ff5800"/>
<rect x="117.83" y="896.48" width="13.28" height="9.76" fill="#ff5400"/>
<rect x="117.83" y="906.23" width="13.28" height="9.76" fill="#ff5400"/>
<rect x="117.83" y="915.99" width="13.28" height="9.76" fill="#ff4500"/>
<rect x="117.83" y="925.75" width="13.28" height="9.76" fill="#ff7800"/>
<rect x="117.83" y="935.51" width="13.28" height="9.76" fill="#ff7d00"/>
<rect x="117.83" y="945.27" width="13.28" height="9.76" fill="#ff8300"/>
<rect x="117.83" y="955.02" width="13.28" height="9.76" fill="#ff7c00"/>
<rect x="117.83" y="964.78" width="13.28" height="9.76" fill="#ff8300"/>
<rect x="117.83" y="974.54" width="13.28" height="9.76" fill="#ff7a00"/>
<rect x="131.12" y="867.20" width="13.28" height="9.76" fill="#ff6500"/>
<rect x="131.12" y="876.96" width="13.28" height="9.76" fill="#ff6200"/>
<rect x="131.12" y="886.72" width="13.28" height="9.76" fill="#ff5600"/>
<rect x="131.12" y="896.48" width="13.28" height="9.76" fill="#ff5800"/>
<rect x="131.12" y="906.23" width="13.28" height="9.76" fill="#ff5000"/>
<rect x="131.12" y="915.99" width="13.28" height="9.76" fill="#ff4600"/>
<rect x="131.12" y="925.75" width="13.28" height="9.76" fill="#ff7600"/>
<rect x="131.12" y="935.51" width="13.28" height="9.76" fill="#ff7a00"/>
<rect x="131.12" y="945.27" width="13.28" height="9.76" fill="#ff7f00"/>
<rect x="131.12" y="955.02" width="13.28" height="9.76" fill="#ff8300"/>
<rect x="131.12" y="964.78" width="13.28" height="9.76" fill="#ff7d00"/>
<rect x="131.12" y="974.54" width="13.28" height="9.76" fill="#ff8000"/>
<rect x="144.40" y="867.20" width="13.28" height="9.76" fill="#ff6700"/>
<rect x="144.40" y="876.96" width="13.28" height="9.76" fill="#ff6300"/>
<rect x="144.40" y="886.72" width="13.28" height="9.76" fill="#ff5800"/>
<rect x="144.40" y="896.48" width="13.28" height="9.76" fill="#ff5400"/>
<rect x="144.40" y="906.23" width="13.28" height="9.76" fill="#ff5200"/>
<rect x="144.40" y="915.99" width="13.28" height="9.76" fill="#ff4800"/>
<rect x="144.40" y="925.75" width="13.28" height="9.76" fill="#ff7600"/>
<rect x="144.40" y="935.51" width="13.28" height="9.76" fill="#ff7f00"/>
<rect x="144.40" y="945.27" width="13.28" height="9.76" fill="#ff8400"/>
<rect x="144.40" y="955.02" width="13.28" height="9.76" fill="#ff8200"/>
<rect x="144.40" y="964.78" width="13.28" height="9.76" fill="#ff7c00"/>
<rect x="144.40" y="974.54" width="13.28" height="9.76" fill="#ff8100"/>
<rect x="157.68" y="867.20" width="13.28" height="9.76" fill="#ff6000"/>
<rect x="157.68" y="876.96" width="13.28" height="9.76" fill="#ff5e00"/>
<rect x="157.68" y="886.72" width="13.28" height="9.76" fill="#ff5a00"/>
<rect x="157.68" y="896.48" width="13.28" height="9.76" fill="#ff5900"/>
<rect x="157.68" y="906.23" width="13.28" height="9.76" fill="#ff5000"/>
<rect x="157.68" y="915.99" width="13.28" height="9.76" fill="#ff4900"/>
<rect x="157.68" y="925.75" width="13.28" height="9.76" fill="#ff7a00"/>
<rect x="157.68" y="935.51" width="13.28" height="9.76" fill="#ff7c00"/>
<rect x="157.68" y="945.27" width="13.28" height="9.76" fill="#ff8000"/>
<rect x="157.68" y="955.02" width="13.28" height="9.76" fill="#ff7d00"/>
<rect x="157.68" y="964.78" width="13.28" height="9.76" fill="#ff7c00"/>
<rect x="157.68" y="974.54" width="13.28" height="9.76" fill="#ff7b00"/>
<rect x="170.97" y="867.20" width="13.28" height="9.76" fill="#ff5400"/>
<rect x="170.97" y="876.96" width="13.28" height="9.76" fill="#ff5500"/>
<rect x="170.97" y="886.72" width="13.28" height="9.76" fill="#ff4700"/>
<rect x="170.97" y="896.48" width="13.28" height="9.76" fill="#ff4400"/>
<rect x="170.97" y="906.23" width="13.28" height="9.76" fill="#ff4d00"/>
<rect x="170.97" y="915.99" width="13.28" height="9.76" fill="#ff3e00"/>
<rect x="170.97" y="925.75" width="13.28" height="9.76" fill="#ff6400"/>
<rect x="170.97" y="935.51" width="13.28" height="9.76" fill="#ff6400"/>
<rect x="170.97" y="945.27" width="13.28" height="9.76" fill="#ff6b00"/>
<rect x="170.97" y="955.02" width="13.28" height="9.76" fill="#ff6d00"/>
<rect x="170.97" y="964.78" width="13.28" height="9.76" fill="#ff6700"/>
<rect x="170.97" y="974.54" width="13.28" height="9.76" fill="#ff6500"/>
<rect x="184.25" y="867.20" width="13.28" height="9.76" fill="#ff4c00"/>
<rect x="184.25" y="876.96" width="13.28" height="9.76" fill="#ff5400"/>
<rect x="184.25" y="886.72" width="13.28" height="9.76" fill="#ff4600"/>
<rect x="184.25" y="896.48" width="13.28" height="9.76" fill="#ff4900"/>
<rect x="184.25" y="906.23" width="13.28" height="9.76" fill="#ff4c00"/>
<rect x="184.25" y="915.99" width="13.28" height="9.76" fill="#ff3900"/>
<rect x="184.25" y="925.75" width="13.28" height="9.76" fill="#ff6800"/>
<rect x="184.25" y="935.51" width="13.28" height="9.76" fill="#ff6d00"/>
<rect x="184.25" y="945.27" width="13.28" height="9.76" fill="#ff6b00"/>
<rect x="184.25" y="955.02" width="13.28" height="9.76" fill="#ff6d00"/>
<rect x="184.25" y="964.78" width="13.28" height="9.76" fill="#ff6300"/>
<rect x="184.25" y="974.54" width="13.28" height="9.76" fill="#ff6500"/>
<rect x="197.53" y="867.20" width="13.28" height="9.76" fill="#ff4d00"/>
<rect x="197.53" y="876.96" width="13.28" height="9.76" fill="#ff5400"/>
<rect x="197.53" y="886.72" width="13.28" height="9.76" fill="#ff4900"/>
<rect x="197.53" y="896.48" width="13.28" height="9.76" fill="#ff4900"/>
<rect x="197.53" y="906.23" width="13.28" height="9.76" fill="#ff4d00"/>
<rect x="197.53" y="915.99" width="13.28" height="9.76" fill="#ff4200"/>
<rect x="197.53" y="925.75" width="13.28" height="9.76" fill="#ff6b00"/>
<rect x="197.53" y="935.51" width="13.28" height="9.76" fill="#ff6700"/>
<rect x="197.53" y="945.27" width="13.28" height="9.76" fill="#ff6900"/>
<rect x="197.53" y="955.02" width="13.28" height="9.76" fill="#ff6c00"/>
<rect x="197.53" y="964.78" width="13.28" height="9.76" fill="#ff6700"/>
<rect x="197.53" y="974.54" width="13.28" height="9.76" fill="#ff6300"/>
<rect x="210.82" y="867.20" width="13.28" height="9.76" fill="#ff5000"/>
<rect x="210.82" y="876.96" width="13.28" height="9.76" fill="#ff4b00"/>
<rect x="210.82" y="886.72" width="13.28" height="9.76" fill="#ff4a00"/>
<rect x="210.82" y="896.48" width="13.28" height="9.76" fill="#ff4f00"/>
<rect x="210.82" y="906.23" width="13.28" height="9.76" fill="#ff4d00"/>
<rect x="210.82" y="915.99" width="13.28" height="9.76" fill="#ff3f00"/>
<rect x="210.82" y="925.75" width="13.28" height="9.76" fill="#ff6500"/>
<rect x="210.82" y="935.51" width="13.28" height="9.76" fill="#ff6600"/>
<rect x="210.82" y="945.27" width="13.28" height="9.76" fill="#ff6500"/>
<rect x="210.82" y="955.02" width="13.28" height="9.76" fill="#ff6700"/>
<rect x="210.82" y="964.78" width="13.28" height="9.76" fill="#ff6b00"/>
<rect x="210.82" y="974.54" width="13.28" height="9.76" fill="#ff6a00"/>
<rect x="224.10" y="867.20" width="13.28" height="9.76" fill="#ff5000"/>
<rect x="224.10" y="876.96" width="13.28" height="9.76" fill="#ff5300"/>
<rect x="224.10" y="886.72" width="13.28" height="9.76" fill="#ff4f00"/>
<rect x="224.10" y="896.48" width="13.28" height="9.76" fill="#ff4c00"/>
<rect x="224.10" y="906.23" width="13.28" height="9.76" fill="#ff4900"/>
<rect x="224.10" y="915.99" width="13.28" height="9.76" fill="#ff4100"/>
<rect x="224.10" y="925.75" width="13.28" height="9.76" fill="#ff6400"/>
<rect x="224.10" y="935.51" width="13.28" height="9.76" fill="#ff6a00"/>
<rect x="224.10" y="945.27" width="13.28" height="9.76" fill="#ff6700"/>
<rect x="224.10" y="955.02" width="13.28" height="9.76" fill="#ff6900"/>
<rect x="224.10" y="964.78" width="13.28" height="9.76" fill="#ff6b00"/>
<rect x="224.10" y="974.54" width="13.28" height="9.76" fill="#ff6800"/>
<rect x="237.38" y="867.20" width="13.28" height="9.76" fill="#ff4300"/>
<rect x="237.38" y="876.96" width="13.28" height="9.76" fill="#ff4900"/>
<rect x="237.38" y="886.72" width="13.28" height="9.76" fill="#ff4100"/>
<rect x="237.38" y="896.48" width="13.28" height="9.76" fill="#ff3e00"/>
<rect x="237.38" y="906.23" width="13.28" height="9.76" fill="#ff3600"/>
<rect x="237.38" y="915.99" width="13.28" height="9.76" fill="#ff3200"/>
<rect x="237.38" y="925.75" width="13.28" height="9.76" fill="#ff5700"/>
<rect x="237.38" y="935.51" width="13.28" height="9.76" fill="#ff6a00"/>
<rect x="237.38" y="945.27" width="13.28" height="9.76" fill="#ff6900"/>
<rect x="237.38" y="955.02" width="13.28" height="9.76" fill="#ff6d00"/>
<rect x="237.38" y="964.78" width="13.28" height="9.76" fill="#ff6900"/>
<rect x="237.38" y="974.54" width="13.28" height="9.76" fill="#ff6900"/>
<rect x="250.67" y="867.20" width="13.28" height="9.76" fill="#ff5000"/>
<rect x="250.67" y="876.96" width="13.28" height="9.76" fill="#ff5100"/>
<rect x="250.67" y="886.72" width="13.28" height="9.76" fill="#ff4e00"/>
<rect x="250.67" y="896.48" width="13.28" height="9.76" fill="#ff4d00"/>
<rect x="250.67" y="906.23" width="13.28" height="9.76" fill="#ff4600"/>
<rect x="250.67" y="915.99" width="13.28" height="9.76" fill="#ff4200"/>
<rect x="250.67" y="925.75" width="13.28" height="9.76" fill="#ff6a00"/>
<rect x="250.67" y="935.51" width="13.28" height="9.76" fill="#ff6a00"/>
<rect x="250.67" y="945.27" width="13.28" height="9.76" fill="#ff6f00"/>
<rect x="250.67" y="955.02" width="13.28" height="9.76" fill="#ff6f00"/>
<rect x="250.67" y="964.78" width="13.28" height="9.76" fill="#ff6800"/>
<rect x="250.67" y="974.54" width="13.28" height="9.76" fill="#ff6600"/>
<rect x="263.95" y="867.20" width="13.28" height="9.76" fill="#ff4d00"/>
<rect x="263.95" y="876.96" width="13.28" height="9.76" fill="#ff5400"/>
<rect x="263.95" y="886.72" width="13.28" height="9.76" fill="#ff5100"/>
<rect x="263.95" y="896.48" width="13.28" height="9.76" fill="#ff4900"/>
<rect x="263.95" y="906.23" width="13.28" height="9.76" fill="#ff4a00"/>
<rect x="263.95" y="915.99" width="13.28" height="9.76" fill="#ff4000"/>
<rect x="263.95" y="925.75" width="13.28" height="9.76" fill="#ff6800"/>
<rect x="263.95" y="935.51" width="13.28" height="9.76" fill="#ff6400"/>
<rect x="263.95" y="945.27" width="13.28" height="9.76" fill="#ff6d00"/>
<rect x="263.95" y="955.02" width="13.28" height="9.76" fill="#ff6a00"/>
<rect x="263.95" y="964.78" width="13.28" height="9.76" fill="#ff6900"/>
<rect x="263.95" y="974.54" width="13.28" height="9.76" fill="#ff6500"/>
<rect x="277.23" y="867.20" width="13.28" height="9.76" fill="#ff5300"/>
<rect x="277.23" y="876.96" width="13.28" height="9.76" fill="#ff5300"/>
<rect x="277.23" y="886.72" width="13.28" height="9.76" fill="#ff4d00"/>
<rect x="277.23" y="896.48" width="13.28" height="9.76" fill="#ff4c00"/>
<rect x="277.23" y="906.23" width="13.28" height="9.76" fill="#ff4200"/>
<rect x="277.23" y="915.99" width="13.28" height="9.76" fill="#ff3900"/>
<rect x="277.23" y="925.75" width="13.28" height="9.76" fill="#ff6500"/>
<rect x="277.23" y="935.51" width="13.28" height="9.76" fill="#ff6900"/>
<rect x="277.23" y="945.27" width="13.28" height="9.76" fill="#ff6600"/>
<rect x="277.23" y="955.02" width="13.28" height="9.76" fill="#ff6c00"/>
<rect x="277.23" y="964.78" width="13.28" height="9.76" fill="#ff6900"/>
<rect x="277.23" y="974.54" width="13.28" height="9.76" fill="#ff6000"/>
<rect x="290.52" y="867.20" width="13.28" height="9.76" fill="#ff5100"/>
<rect x="290.52" y="876.96" width="13.28" height="9.76" fill="#ff4c00"/>
<rect x="290.52" y="886.72" width="13.28" height="9.76" fill="#ff4600"/>
<rect x="290.52" y="896.48" width="13.28" height="9.76" fill="#ff4500"/>
<rect x="290.52" y="906.23" width="13.28" height="9.76" fill="#ff4500"/>
<rect x="290.52" y="915.99" width="13.28" height="9.76" fill="#ff3a00"/>
<rect x="290.52" y="925.75" width="13.28" height="9.76" fill="#ff6200"/>
<rect x="290.52" y="935.51" width="13.28" height="9.76" fill="#ff6200"/>
<rect x="290.52" y="945.27" width="13.28" height="9.76" fill="#ff6900"/>
<rect x="290.52" y="955.02" width="13.28" height="9.76" fill="#ff6800"/>
<rect x="290.52" y="964.78" width="13.28" height="9.76" fill="#ff6900"/>
<rect x="290.52" y="974.54" width="13.28" height="9.76" fill="#ff6700"/>
<path d="M64.70 867.2V984.3M77.98 867.2V984.3M91.27 867.2V984.3M104.55 867.2V984.3M117.83 867.2V984.3M131.12 867.2V984.3M144.40 867.2V984.3M157.68 867.2V984.3M170.97 867.2V984.3M184.25 867.2V984.3M197.53 867.2V984.3M210.82 867.2V984.3M224.10 867.2V984.3M237.38 867.2V984.3M250.67 867.2V984.3M263.95 867.2V984.3M277.23 867.2V984.3M290.52 867.2V984.3M303.80 867.2V984.3M64.7 867.20H303.8M64.7 876.96H303.8M64.7 886.72H303.8M64.7 896.48H303.8M64.7 906.23H303.8M64.7 915.99H303.8M64.7 925.75H303.8M64.7 935.51H303.8M64.7 945.27H303.8M64.7 955.02H303.8M64.7 964.78H303.8M64.7 974.54H303.8M64.7 984.30H303.8" stroke="#3a1400" stroke-opacity="0.8" stroke-width="0.6" fill="none"/>
<rect x="308.20" y="867.20" width="13.29" height="9.76" fill="#ff4300"/>
<rect x="308.20" y="876.96" width="13.29" height="9.76" fill="#ff4400"/>
<rect x="308.20" y="886.72" width="13.29" height="9.76" fill="#ff3900"/>
<rect x="308.20" y="896.48" width="13.29" height="9.76" fill="#ff3b00"/>
<rect x="308.20" y="906.23" width="13.29" height="9.76" fill="#ff3700"/>
<rect x="308.20" y="915.99" width="13.29" height="9.76" fill="#ff3100"/>
<rect x="308.20" y="925.75" width="13.29" height="9.76" fill="#ff5200"/>
<rect x="308.20" y="935.51" width="13.29" height="9.76" fill="#ff5900"/>
<rect x="308.20" y="945.27" width="13.29" height="9.76" fill="#ff5600"/>
<rect x="308.20" y="955.02" width="13.29" height="9.76" fill="#ff5300"/>
<rect x="308.20" y="964.78" width="13.29" height="9.76" fill="#ff5700"/>
<rect x="308.20" y="974.54" width="13.29" height="9.76" fill="#ff5100"/>
<rect x="321.49" y="867.20" width="13.29" height="9.76" fill="#ff4600"/>
<rect x="321.49" y="876.96" width="13.29" height="9.76" fill="#ff3e00"/>
<rect x="321.49" y="886.72" width="13.29" height="9.76" fill="#ff3e00"/>
<rect x="321.49" y="896.48" width="13.29" height="9.76" fill="#ff4000"/>
<rect x="321.49" y="906.23" width="13.29" height="9.76" fill="#ff3d00"/>
<rect x="321.49" y="915.99" width="13.29" height="9.76" fill="#ff3100"/>
<rect x="321.49" y="925.75" width="13.29" height="9.76" fill="#ff5900"/>
<rect x="321.49" y="935.51" width="13.29" height="9.76" fill="#ff5700"/>
<rect x="321.49" y="945.27" width="13.29" height="9.76" fill="#ff5600"/>
<rect x="321.49" y="955.02" width="13.29" height="9.76" fill="#ff5400"/>
<rect x="321.49" y="964.78" width="13.29" height="9.76" fill="#ff5600"/>
<rect x="321.49" y="974.54" width="13.29" height="9.76" fill="#ff5600"/>
<rect x="334.78" y="867.20" width="13.29" height="9.76" fill="#ff4a00"/>
<rect x="334.78" y="876.96" width="13.29" height="9.76" fill="#ff4400"/>
<rect x="334.78" y="886.72" width="13.29" height="9.76" fill="#ff3f00"/>
<rect x="334.78" y="896.48" width="13.29" height="9.76" fill="#ff3a00"/>
<rect x="334.78" y="906.23" width="13.29" height="9.76" fill="#ff3d00"/>
<rect x="334.78" y="915.99" width="13.29" height="9.76" fill="#ff2d00"/>
<rect x="334.78" y="925.75" width="13.29" height="9.76" fill="#ff5200"/>
<rect x="334.78" y="935.51" width="13.29" height="9.76" fill="#ff5600"/>
<rect x="334.78" y="945.27" width="13.29" height="9.76" fill="#ff5900"/>
<rect x="334.78" y="955.02" width="13.29" height="9.76" fill="#ff5400"/>
<rect x="334.78" y="964.78" width="13.29" height="9.76" fill="#ff5700"/>
<rect x="334.78" y="974.54" width="13.29" height="9.76" fill="#ff5900"/>
<rect x="348.07" y="867.20" width="13.29" height="9.76" fill="#ff4400"/>
<rect x="348.07" y="876.96" width="13.29" height="9.76" fill="#ff3f00"/>
<rect x="348.07" y="886.72" width="13.29" height="9.76" fill="#ff3b00"/>
<rect x="348.07" y="896.48" width="13.29" height="9.76" fill="#ff3900"/>
<rect x="348.07" y="906.23" width="13.29" height="9.76" fill="#ff3e00"/>
<rect x="348.07" y="915.99" width="13.29" height="9.76" fill="#ff3000"/>
<rect x="348.07" y="925.75" width="13.29" height="9.76" fill="#ff5a00"/>
<rect x="348.07" y="935.51" width="13.29" height="9.76" fill="#ff5a00"/>
<rect x="348.07" y="945.27" width="13.29" height="9.76" fill="#ff5800"/>
<rect x="348.07" y="955.02" width="13.29" height="9.76" fill="#ff5500"/>
<rect x="348.07" y="964.78" width="13.29" height="9.76" fill="#ff5a00"/>
<rect x="348.07" y="974.54" width="13.29" height="9.76" fill="#ff5500"/>
<rect x="361.36" y="867.20" width="13.29" height="9.76" fill="#ff4500"/>
<rect x="361.36" y="876.96" width="13.29" height="9.76" fill="#ff3e00"/>
<rect x="361.36" y="886.72" width="13.29" height="9.76" fill="#ff4200"/>
<rect x="361.36" y="896.48" width="13.29" height="9.76" fill="#ff3b00"/>
<rect x="361.36" y="906.23" width="13.29" height="9.76" fill="#ff3700"/>
<rect x="361.36" y="915.99" width="13.29" height="9.76" fill="#ff3100"/>
<rect x="361.36" y="925.75" width="13.29" height="9.76" fill="#ff5200"/>
<rect x="361.36" y="935.51" width="13.29" height="9.76" fill="#ff5700"/>
<rect x="361.36" y="945.27" width="13.29" height="9.76" fill="#ff5700"/>
<rect x="361.36" y="955.02" width="13.29" height="9.76" fill="#ff5500"/>
<rect x="361.36" y="964.78" width="13.29" height="9.76" fill="#ff5800"/>
<rect x="361.36" y="974.54" width="13.29" height="9.76" fill="#ff5900"/>
<rect x="374.64" y="867.20" width="13.29" height="9.76" fill="#ff4100"/>
<rect x="374.64" y="876.96" width="13.29" height="9.76" fill="#ff4000"/>
<rect x="374.64" y="886.72" width="13.29" height="9.76" fill="#ff3b00"/>
<rect x="374.64" y="896.48" width="13.29" height="9.76" fill="#ff4000"/>
<rect x="374.64" y="906.23" width="13.29" height="9.76" fill="#ff3c00"/>
<rect x="374.64" y="915.99" width="13.29" height="9.76" fill="#ff2f00"/>
<rect x="374.64" y="925.75" width="13.29" height="9.76" fill="#ff5300"/>
<rect x="374.64" y="935.51" width="13.29" height="9.76" fill="#ff5200"/>
<rect x="374.64" y="945.27" width="13.29" height="9.76" fill="#ff5c00"/>
<rect x="374.64" y="955.02" width="13.29" height="9.76" fill="#ff5500"/>
<rect x="374.64" y="964.78" width="13.29" height="9.76" fill="#ff5700"/>
<rect x="374.64" y="974.54" width="13.29" height="9.76" fill="#ff5500"/>
<rect x="387.93" y="867.20" width="13.29" height="9.76" fill="#ff4700"/>
<rect x="387.93" y="876.96" width="13.29" height="9.76" fill="#ff4100"/>
<rect x="387.93" y="886.72" width="13.29" height="9.76" fill="#ff4000"/>
<rect x="387.93" y="896.48" width="13.29" height="9.76" fill="#ff3800"/>
<rect x="387.93" y="906.23" width="13.29" height="9.76" fill="#ff3c00"/>
<rect x="387.93" y="915.99" width="13.29" height="9.76" fill="#ff3000"/>
<rect x="387.93" y="925.75" width="13.29" height="9.76" fill="#ff5600"/>
<rect x="387.93" y="935.51" width="13.29" height="9.76" fill="#ff5400"/>
<rect x="387.93" y="945.27" width="13.29" height="9.76" fill="#ff5500"/>
<rect x="387.93" y="955.02" width="13.29" height="9.76" fill="#ff5800"/>
<rect x="387.93" y="964.78" width="13.29" height="9.76" fill="#ff5500"/>
<rect x="387.93" y="974.54" width="13.29" height="9.76" fill="#ff5400"/>
<rect x="401.22" y="867.20" width="13.29" height="9.76" fill="#ff4800"/>
<rect x="401.22" y="876.96" width="13.29" height="9.76" fill="#ff4000"/>
<rect x="401.22" y="886.72" width="13.29" height="9.76" fill="#ff3900"/>
<rect x="401.22" y="896.48" width="13.29" height="9.76" fill="#ff3900"/>
<rect x="401.22" y="906.23" width="13.29" height="9.76" fill="#ff3900"/>
<rect x="401.22" y="915.99" width="13.29" height="9.76" fill="#ff3600"/>
<rect x="401.22" y="925.75" width="13.29" height="9.76" fill="#ff5900"/>
<rect x="401.22" y="935.51" width="13.29" height="9.76" fill="#ff5600"/>
<rect x="401.22" y="945.27" width="13.29" height="9.76" fill="#ff5300"/>
<rect x="401.22" y="955.02" width="13.29" height="9.76" fill="#ff5a00"/>
<rect x="401.22" y="964.78" width="13.29" height="9.76" fill="#ff5500"/>
<rect x="401.22" y="974.54" width="13.29" height="9.76" fill="#ff5600"/>
<rect x="414.51" y="867.20" width="13.29" height="9.76" fill="#ff3e00"/>
<rect x="414.51" y="876.96" width="13.29" height="9.76" fill="#ff2400"/>
<rect x="414.51" y="886.72" width="13.29" height="9.76" fill="#ff2200"/>
<rect x="414.51" y="896.48" width="13.29" height="9.76" fill="#ff2200"/>
<rect x="414.51" y="906.23" width="13.29" height="9.76" fill="#ff2200"/>
<rect x="414.51" y="915.99" width="13.29" height="9.76" fill="#ff2200"/>
<rect x="414.51" y="925.75" width="13.29" height="9.76" fill="#ff2600"/>
<rect x="414.51" y="935.51" width="13.29" height="9.76" fill="#ff6800"/>
<rect x="414.51" y="945.27" width="13.29" height="9.76" fill="#ff5200"/>
<rect x="414.51" y="955.02" width="13.29" height="9.76" fill="#ff5000"/>
<rect x="414.51" y="964.78" width="13.29" height="9.76" fill="#ff5000"/>
<rect x="414.51" y="974.54" width="13.29" height="9.76" fill="#ff5000"/>
<path d="M308.20 867.2V984.3M321.49 867.2V984.3M334.78 867.2V984.3M348.07 867.2V984.3M361.36 867.2V984.3M374.64 867.2V984.3M387.93 867.2V984.3M401.22 867.2V984.3M414.51 867.2V984.3M427.80 867.2V984.3M308.2 867.20H427.8M308.2 876.96H427.8M308.2 886.72H427.8M308.2 896.48H427.8M308.2 906.23H427.8M308.2 915.99H427.8M308.2 925.75H427.8M308.2 935.51H427.8M308.2 945.27H427.8M308.2 955.02H427.8M308.2 964.78H427.8M308.2 974.54H427.8M308.2 984.30H427.8" stroke="#3a1400" stroke-opacity="0.8" stroke-width="0.6" fill="none"/>
<rect x="432.90" y="867.20" width="13.23" height="9.76" fill="#ff3b00"/>
<rect x="432.90" y="876.96" width="13.23" height="9.76" fill="#ff3700"/>
<rect x="432.90" y="886.72" width="13.23" height="9.76" fill="#ff3600"/>
<rect x="432.90" y="896.48" width="13.23" height="9.76" fill="#ff3700"/>
<rect x="432.90" y="906.23" width="13.23" height="9.76" fill="#ff3600"/>
<rect x="432.90" y="915.99" width="13.23" height="9.76" fill="#ff2f00"/>
<rect x="432.90" y="925.75" width="13.23" height="9.76" fill="#ff3d00"/>
<rect x="432.90" y="935.51" width="13.23" height="9.76" fill="#ff4000"/>
<rect x="432.90" y="945.27" width="13.23" height="9.76" fill="#ff4100"/>
<rect x="432.90" y="955.02" width="13.23" height="9.76" fill="#ff4000"/>
<rect x="432.90" y="964.78" width="13.23" height="9.76" fill="#ff3f00"/>
<rect x="432.90" y="974.54" width="13.23" height="9.76" fill="#ff4200"/>
<rect x="446.13" y="867.20" width="13.23" height="9.76" fill="#ff0e00"/>
<rect x="446.13" y="876.96" width="13.23" height="9.76" fill="#ff0600"/>
<rect x="446.13" y="886.72" width="13.23" height="9.76" fill="#ff0700"/>
<rect x="446.13" y="896.48" width="13.23" height="9.76" fill="#ff0c00"/>
<rect x="446.13" y="906.23" width="13.23" height="9.76" fill="#ff0a00"/>
<rect x="446.13" y="915.99" width="13.23" height="9.76" fill="#ff0900"/>
<rect x="446.13" y="925.75" width="13.23" height="9.76" fill="#ff1000"/>
<rect x="446.13" y="935.51" width="13.23" height="9.76" fill="#ff1700"/>
<rect x="446.13" y="945.27" width="13.23" height="9.76" fill="#ff1b00"/>
<rect x="446.13" y="955.02" width="13.23" height="9.76" fill="#ff1b00"/>
<rect x="446.13" y="964.78" width="13.23" height="9.76" fill="#ff1900"/>
<rect x="446.13" y="974.54" width="13.23" height="9.76" fill="#ff1400"/>
<rect x="459.37" y="867.20" width="13.23" height="9.76" fill="#ff0e00"/>
<rect x="459.37" y="876.96" width="13.23" height="9.76" fill="#ff0700"/>
<rect x="459.37" y="886.72" width="13.23" height="9.76" fill="#ff0b00"/>
<rect x="459.37" y="896.48" width="13.23" height="9.76" fill="#ff0d00"/>
<rect x="459.37" y="906.23" width="13.23" height="9.76" fill="#ff0900"/>
<rect x="459.37" y="915.99" width="13.23" height="9.76" fill="#ff0500"/>
<rect x="459.37" y="925.75" width="13.23" height="9.76" fill="#ff1200"/>
<rect x="459.37" y="935.51" width="13.23" height="9.76" fill="#ff1900"/>
<rect x="459.37" y="945.27" width="13.23" height="9.76" fill="#ff1500"/>
<rect x="459.37" y="955.02" width="13.23" height="9.76" fill="#ff1800"/>
<rect x="459.37" y="964.78" width="13.23" height="9.76" fill="#ff1700"/>
<rect x="459.37" y="974.54" width="13.23" height="9.76" fill="#ff1500"/>
<rect x="472.60" y="867.20" width="13.23" height="9.76" fill="#ff1600"/>
<rect x="472.60" y="876.96" width="13.23" height="9.76" fill="#ff1000"/>
<rect x="472.60" y="886.72" width="13.23" height="9.76" fill="#ff1000"/>
<rect x="472.60" y="896.48" width="13.23" height="9.76" fill="#ff1300"/>
<rect x="472.60" y="906.23" width="13.23" height="9.76" fill="#ff0e00"/>
<rect x="472.60" y="915.99" width="13.23" height="9.76" fill="#ff0e00"/>
<rect x="472.60" y="925.75" width="13.23" height="9.76" fill="#ff1e00"/>
<rect x="472.60" y="935.51" width="13.23" height="9.76" fill="#ff2100"/>
<rect x="472.60" y="945.27" width="13.23" height="9.76" fill="#ff2500"/>
<rect x="472.60" y="955.02" width="13.23" height="9.76" fill="#ff1f00"/>
<rect x="472.60" y="964.78" width="13.23" height="9.76" fill="#ff2100"/>
<rect x="472.60" y="974.54" width="13.23" height="9.76" fill="#ff2000"/>
<rect x="485.83" y="867.20" width="13.23" height="9.76" fill="#ff1600"/>
<rect x="485.83" y="876.96" width="13.23" height="9.76" fill="#ff1300"/>
<rect x="485.83" y="886.72" width="13.23" height="9.76" fill="#ff1700"/>
<rect x="485.83" y="896.48" width="13.23" height="9.76" fill="#ff1200"/>
<rect x="485.83" y="906.23" width="13.23" height="9.76" fill="#ff0e00"/>
<rect x="485.83" y="915.99" width="13.23" height="9.76" fill="#ff1300"/>
<rect x="485.83" y="925.75" width="13.23" height="9.76" fill="#ff1b00"/>
<rect x="485.83" y="935.51" width="13.23" height="9.76" fill="#ff2100"/>
<rect x="485.83" y="945.27" width="13.23" height="9.76" fill="#ff2200"/>
<rect x="485.83" y="955.02" width="13.23" height="9.76" fill="#ff2500"/>
<rect x="485.83" y="964.78" width="13.23" height="9.76" fill="#ff2200"/>
<rect x="485.83" y="974.54" width="13.23" height="9.76" fill="#ff2200"/>
<rect x="499.07" y="867.20" width="13.23" height="9.76" fill="#ff1c00"/>
<rect x="499.07" y="876.96" width="13.23" height="9.76" fill="#ff1c00"/>
<rect x="499.07" y="886.72" width="13.23" height="9.76" fill="#ff1a00"/>
<rect x="499.07" y="896.48" width="13.23" height="9.76" fill="#ff1e00"/>
<rect x="499.07" y="906.23" width="13.23" height="9.76" fill="#ff1a00"/>
<rect x="499.07" y="915.99" width="13.23" height="9.76" fill="#ff1700"/>
<rect x="499.07" y="925.75" width="13.23" height="9.76" fill="#ff2300"/>
<rect x="499.07" y="935.51" width="13.23" height="9.76" fill="#ff2600"/>
<rect x="499.07" y="945.27" width="13.23" height="9.76" fill="#ff2b00"/>
<rect x="499.07" y="955.02" width="13.23" height="9.76" fill="#ff2700"/>
<rect x="499.07" y="964.78" width="13.23" height="9.76" fill="#ff2b00"/>
<rect x="499.07" y="974.54" width="13.23" height="9.76" fill="#ff2b00"/>
<path d="M432.90 867.2V984.3M446.13 867.2V984.3M459.37 867.2V984.3M472.60 867.2V984.3M485.83 867.2V984.3M499.07 867.2V984.3M512.30 867.2V984.3M432.9 867.20H512.3M432.9 876.96H512.3M432.9 886.72H512.3M432.9 896.48H512.3M432.9 906.23H512.3M432.9 915.99H512.3M432.9 925.75H512.3M432.9 935.51H512.3M432.9 945.27H512.3M432.9 955.02H512.3M432.9 964.78H512.3M432.9 974.54H512.3M432.9 984.30H512.3" stroke="#3a1400" stroke-opacity="0.8" stroke-width="0.6" fill="none"/>
<text x="515.9" y="874.6" font-size="8.67" fill="#222" textLength="23.9" lengthAdjust="spacingAndGlyphs">Cough</text>
<text x="515.9" y="884.4" font-size="8.67" fill="#222" textLength="27.0" lengthAdjust="spacingAndGlyphs">Fatigue</text>
<text x="515.9" y="894.1" font-size="8.67" fill="#222" textLength="38.7" lengthAdjust="spacingAndGlyphs">Chest pain</text>
<text x="515.9" y="903.9" font-size="8.67" fill="#222" textLength="36.9" lengthAdjust="spacingAndGlyphs">Headache</text>
<text x="515.9" y="913.6" font-size="8.67" fill="#222" textLength="76.5" lengthAdjust="spacingAndGlyphs">Loss of smell or taste</text>
<text x="515.9" y="923.4" font-size="8.67" fill="#222" textLength="70.7" lengthAdjust="spacingAndGlyphs">Shortness of breath</text>
<text x="515.9" y="933.2" font-size="8.67" fill="#222" textLength="32.4" lengthAdjust="spacingAndGlyphs">Brain fog</text>
<text x="515.9" y="942.9" font-size="8.67" fill="#222" textLength="34.7" lengthAdjust="spacingAndGlyphs">Dizziness</text>
<text x="515.9" y="952.7" font-size="8.67" fill="#222" textLength="41.9" lengthAdjust="spacingAndGlyphs">Palpitations</text>
<text x="515.9" y="962.4" font-size="8.67" fill="#222" textLength="52.2" lengthAdjust="spacingAndGlyphs">Sleep disorder</text>
<text x="515.9" y="972.2" font-size="8.67" fill="#222" textLength="20.7" lengthAdjust="spacingAndGlyphs">Fever</text>
<text x="515.9" y="982.0" font-size="8.67" fill="#222" textLength="55.8" lengthAdjust="spacingAndGlyphs">Abdominal pain</text>
<text transform="translate(75.5 993.0) rotate(-45)" font-size="7.5" fill="#222" text-anchor="end">ENRICHED IN MONOCYTES</text>
<text transform="translate(88.8 993.0) rotate(-45)" font-size="7.5" fill="#222" text-anchor="end">IL-1 SIGNALING PATHWAY</text>
<text transform="translate(102.1 993.0) rotate(-45)" font-size="7.5" fill="#222" text-anchor="end">ENRICHED IN NEUTROPHILS</text>
<text transform="translate(115.4 993.0) rotate(-45)" font-size="7.5" fill="#222" text-anchor="end">M2 MACROPHAGES</text>
<text transform="translate(128.7 993.0) rotate(-45)" font-size="7.5" fill="#222" text-anchor="end">AGING</text>
<text transform="translate(142.0 993.0) rotate(-45)" font-size="7.5" fill="#222" text-anchor="end">FIBRINOLYSIS</text>
<text transform="translate(155.2 993.0) rotate(-45)" font-size="7.5" fill="#222" text-anchor="end">MELATONIN SIGNALING</text>
<text transform="translate(168.5 993.0) rotate(-45)" font-size="7.5" fill="#222" text-anchor="end">ERK5 SIGNALING</text>
<text transform="translate(180.6 993.0) rotate(-45)" font-size="7.5" fill="#222" text-anchor="end">COMPLEMENT CASCADE</text>
<text transform="translate(194.8 993.0) rotate(-45)" font-size="7.5" fill="#222" text-anchor="end">IL-2_STAT5 SIGNALING</text>
<text transform="translate(208.1 993.0) rotate(-45)" font-size="7.5" fill="#222" text-anchor="end">IL-6_JAK_STAT3 SIGNALING</text>
<text transform="translate(221.4 993.0) rotate(-45)" font-size="7.5" fill="#222" text-anchor="end">GLUTAMATE METABOLISM</text>
<text transform="translate(234.6 993.0) rotate(-45)" font-size="7.5" fill="#222" text-anchor="end">INSULIN SIGNALING PATHWAY</text>
<text transform="translate(247.9 993.0) rotate(-45)" font-size="7.5" fill="#222" text-anchor="end">APOPTOSIS</text>
<text transform="translate(261.2 993.0) rotate(-45)" font-size="7.5" fill="#222" text-anchor="end">IL-8 CXCR2 PATHWAY</text>
<text transform="translate(274.5 993.0) rotate(-45)" font-size="7.5" fill="#222" text-anchor="end">MTORC1 SIGNALING</text>
<text transform="translate(287.8 993.0) rotate(-45)" font-size="7.5" fill="#222" text-anchor="end">LXR RXR ACTIVATION</text>
<text transform="translate(305.8 993.0) rotate(-45)" font-size="7.5" fill="#222" text-anchor="end">NEUROTROPHIN SIGNALING PATHWAY</text>
<text transform="translate(318.8 993.0) rotate(-45)" font-size="7.5" fill="#222" text-anchor="end">ENRICHED IN ANTIGEN PRESENTATION</text>
<text transform="translate(332.1 993.0) rotate(-45)" font-size="7.5" fill="#222" text-anchor="end">GM-CSF SIGNALING</text>
<text transform="translate(345.4 993.0) rotate(-45)" font-size="7.5" fill="#222" text-anchor="end">TYPE II INTERFERON SIGNALING</text>
<text transform="translate(358.7 993.0) rotate(-45)" font-size="7.5" fill="#222" text-anchor="end">ROLE OF JAK1 IN Y CYTOKINE SIGNALING</text>
<text transform="translate(372.0 993.0) rotate(-45)" font-size="7.5" fill="#222" text-anchor="end">IFNB1 TARGETS</text>
<text transform="translate(385.3 993.0) rotate(-45)" font-size="7.5" fill="#222" text-anchor="end">TGFB PATHWAY</text>
<text transform="translate(398.6 993.0) rotate(-45)" font-size="7.5" fill="#222" text-anchor="end">IL-8 CXCR1 PATHWAY</text>
<text transform="translate(411.9 993.0) rotate(-45)" font-size="7.5" fill="#222" text-anchor="end">EPHRIN RECEPTOR SIGNALING</text>
<text transform="translate(430.2 993.0) rotate(-45)" font-size="7.5" fill="#222" text-anchor="end">IL-8 SIGNALING</text>
<text transform="translate(443.5 993.0) rotate(-45)" font-size="7.5" fill="#222" text-anchor="end">JAK_STAT SIGNALING</text>
<text transform="translate(456.8 993.0) rotate(-45)" font-size="7.5" fill="#222" text-anchor="end">INTERFERON GAMMA RESPONSE</text>
<text transform="translate(470.0 993.0) rotate(-45)" font-size="7.5" fill="#222" text-anchor="end">RENIN-ANGIOTENSIN SIGNALING</text>
<text transform="translate(483.2 993.0) rotate(-45)" font-size="7.5" fill="#222" text-anchor="end">HDAC1 AND HDAC2 TARGETS UP</text>
<text transform="translate(496.4 993.0) rotate(-45)" font-size="7.5" fill="#222" text-anchor="end">IL-6 SIGNALING</text>
<text transform="translate(509.7 993.0) rotate(-45)" font-size="7.5" fill="#222" text-anchor="end">T CELL EXHAUSTION</text>
<defs><linearGradient id="ge" x1="0" y1="1" x2="0" y2="0"><stop offset="0" stop-color="#ffe2aa"/><stop offset="0.25" stop-color="#ffc04a"/><stop offset="0.4" stop-color="#ffa300"/><stop offset="0.55" stop-color="#ff8400"/><stop offset="0.75" stop-color="#ff5a00"/><stop offset="1" stop-color="#ff1400"/></linearGradient></defs>
<rect x="37.1" y="875.3" width="9.9" height="95.4" fill="url(#ge)"/>
<line x1="35" y1="875.5" x2="37.1" y2="875.5" stroke="#666" stroke-width="0.8"/>
<text x="30.4" y="878.2" font-size="7.60" fill="#222" text-anchor="end">+1.0</text>
<line x1="35" y1="898.3" x2="37.1" y2="898.3" stroke="#666" stroke-width="0.8"/>
<text x="30.4" y="901.0" font-size="7.60" fill="#222" text-anchor="end">0.75</text>
<line x1="35" y1="922.4" x2="37.1" y2="922.4" stroke="#666" stroke-width="0.8"/>
<text x="30.4" y="925.1" font-size="7.60" fill="#222" text-anchor="end">0.50</text>
<line x1="35" y1="946.2" x2="37.1" y2="946.2" stroke="#666" stroke-width="0.8"/>
<text x="30.4" y="948.9" font-size="7.60" fill="#222" text-anchor="end">0.25</text>
<line x1="35" y1="969.3" x2="37.1" y2="969.3" stroke="#666" stroke-width="0.8"/>
<text x="30.4" y="972.0" font-size="7.60" fill="#222" text-anchor="end">0</text>
<text x="55.0" y="929.2" font-size="9.80" fill="#222" text-anchor="middle" transform="rotate(-90 55.0 925.8)">Spearman correlation</text>
</svg></body></html>
